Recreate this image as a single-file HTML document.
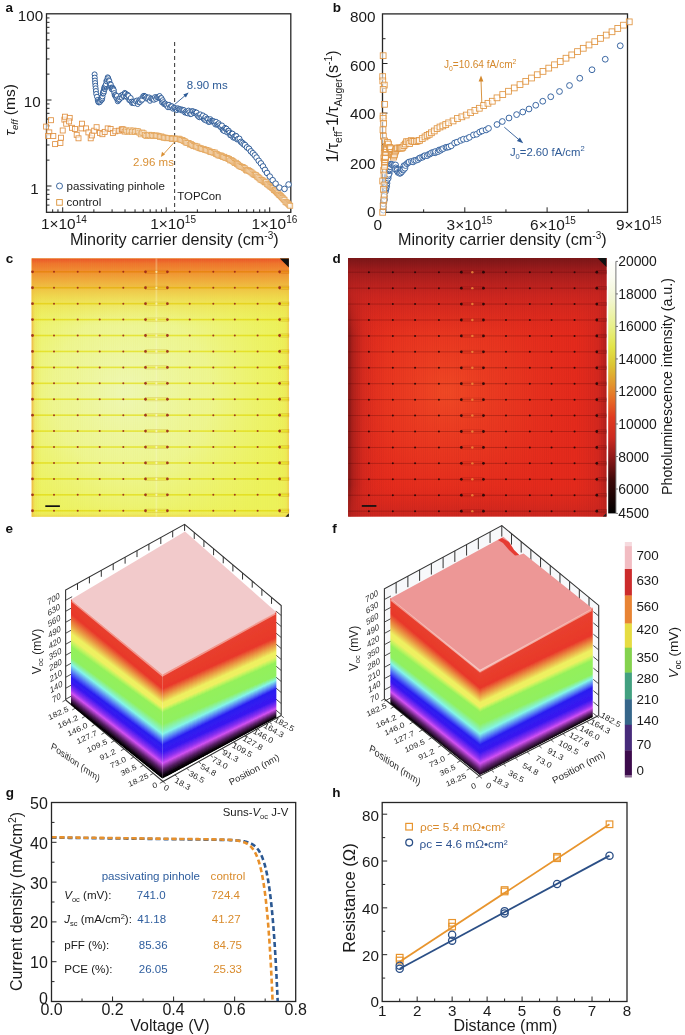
<!DOCTYPE html>
<html><head><meta charset="utf-8"><style>
html,body{margin:0;padding:0;background:#fff;}
svg{display:block;font-family:"Liberation Sans", sans-serif;}
</style></head><body>
<svg width="685" height="1035" viewBox="0 0 685 1035" font-family='"Liberation Sans", sans-serif'>
<defs>
<linearGradient id="ctop" x1="0" y1="0" x2="0" y2="1">
<stop offset="0" stop-color="#ea5428"/><stop offset="0.02" stop-color="#ee742c"/><stop offset="0.055" stop-color="#f09232"/>
<stop offset="0.11" stop-color="#f0b83e" stop-opacity="0.9"/><stop offset="0.17" stop-color="#f0d848" stop-opacity="0.6"/><stop offset="0.26" stop-color="#f0ee54" stop-opacity="0"/>
<stop offset="0.96" stop-color="#f0ee54" stop-opacity="0"/><stop offset="0.99" stop-color="#f0dc4a" stop-opacity="0.3"/><stop offset="1" stop-color="#f0c040" stop-opacity="0.6"/></linearGradient>
<linearGradient id="cside" x1="0" y1="0" x2="1" y2="0">
<stop offset="0" stop-color="#f0a03c" stop-opacity="0.8"/><stop offset="0.012" stop-color="#f0d04a" stop-opacity="0.3"/><stop offset="0.04" stop-color="#f0ec54" stop-opacity="0"/>
<stop offset="0.95" stop-color="#f0ec54" stop-opacity="0"/><stop offset="0.99" stop-color="#f0d84a" stop-opacity="0.3"/><stop offset="1" stop-color="#f0b040" stop-opacity="0.6"/></linearGradient>
<radialGradient id="cctr" cx="0.42" cy="0.52" r="0.62" fx="0.36" fy="0.52">
<stop offset="0" stop-color="#eef8b8" stop-opacity="0.95"/><stop offset="0.5" stop-color="#eef7a0" stop-opacity="0.75"/><stop offset="1" stop-color="#eef47a" stop-opacity="0"/></radialGradient>
<pattern id="fingc" x="31.7" y="0" width="2.2" height="10" patternUnits="userSpaceOnUse"><rect x="0" y="0" width="0.7" height="10" fill="#d8c850" fill-opacity="0.05"/></pattern>
<linearGradient id="dtop" x1="0" y1="0" x2="0" y2="1">
<stop offset="0" stop-color="#7a1618"/><stop offset="0.05" stop-color="#a01c1c"/><stop offset="0.14" stop-color="#c42420" stop-opacity="0.8"/>
<stop offset="0.3" stop-color="#d82a1e" stop-opacity="0"/><stop offset="0.88" stop-color="#d82a1e" stop-opacity="0"/><stop offset="1" stop-color="#c02420" stop-opacity="0.7"/></linearGradient>
<linearGradient id="dside" x1="0" y1="0" x2="1" y2="0">
<stop offset="0" stop-color="#701414" stop-opacity="0.95"/><stop offset="0.015" stop-color="#901a1a" stop-opacity="0.7"/><stop offset="0.06" stop-color="#c02420" stop-opacity="0.4"/><stop offset="0.15" stop-color="#d82a1e" stop-opacity="0"/>
<stop offset="0.88" stop-color="#d82a1e" stop-opacity="0"/><stop offset="0.97" stop-color="#c02420" stop-opacity="0.5"/><stop offset="1" stop-color="#a01c1c" stop-opacity="0.8"/></linearGradient>
<radialGradient id="dctr" cx="0.4" cy="0.52" r="0.5" fx="0.38" fy="0.52">
<stop offset="0" stop-color="#f24c26" stop-opacity="0.9"/><stop offset="0.55" stop-color="#ec3e22" stop-opacity="0.5"/><stop offset="1" stop-color="#e6321e" stop-opacity="0"/></radialGradient>
<pattern id="fingd" x="348.2" y="0" width="2.2" height="10" patternUnits="userSpaceOnUse"><rect x="0" y="0" width="0.7" height="10" fill="#4a0808" fill-opacity="0.05"/></pattern>
<linearGradient id="cbd" x1="0" y1="0" x2="0" y2="1">
<stop offset="0" stop-color="#fefefc"/><stop offset="0.06" stop-color="#fbfcf2"/><stop offset="0.15" stop-color="#f2f6d2"/><stop offset="0.26" stop-color="#e8f088"/>
<stop offset="0.34" stop-color="#e2e448"/><stop offset="0.41" stop-color="#dcc634"/><stop offset="0.48" stop-color="#e29a2e"/><stop offset="0.55" stop-color="#e66a26"/>
<stop offset="0.62" stop-color="#e03a20"/><stop offset="0.70" stop-color="#cc2a20"/><stop offset="0.78" stop-color="#8c1818"/><stop offset="0.87" stop-color="#3a0808"/><stop offset="1" stop-color="#000"/></linearGradient>
<linearGradient id="rain" x1="0" y1="0" x2="0" y2="1">
<stop offset="0" stop-color="#f2c8c8"/><stop offset="0.035" stop-color="#ec5040"/><stop offset="0.07" stop-color="#e83a28"/>
<stop offset="0.19" stop-color="#e84028"/><stop offset="0.27" stop-color="#ee9040"/><stop offset="0.35" stop-color="#eef060"/>
<stop offset="0.41" stop-color="#c0f460"/><stop offset="0.46" stop-color="#98f25a"/><stop offset="0.56" stop-color="#90f060"/>
<stop offset="0.62" stop-color="#80f4e8"/><stop offset="0.66" stop-color="#60b0f8"/><stop offset="0.71" stop-color="#2828f4"/>
<stop offset="0.78" stop-color="#3a18f0"/><stop offset="0.83" stop-color="#9a38f0"/><stop offset="0.87" stop-color="#d050f4"/>
<stop offset="0.92" stop-color="#602870"/><stop offset="0.97" stop-color="#100410"/><stop offset="1" stop-color="#000"/></linearGradient>
<filter id="soft" x="-5%" y="-5%" width="110%" height="110%"><feGaussianBlur stdDeviation="0.7"/></filter>
<clipPath id="fc1"><path d="M71,598.4 L162.5,673.5 L162.5,778.5 L71,705 Z"/></clipPath>
<linearGradient id="rg1" x1="0" y1="0" x2="0" y2="1"><stop offset="0.0000" stop-color="#f4d8d8"/><stop offset="0.0200" stop-color="#e8402e"/><stop offset="0.1500" stop-color="#e8382a"/><stop offset="0.2495" stop-color="#ea9a44"/><stop offset="0.3292" stop-color="#eef060"/><stop offset="0.3741" stop-color="#eef062"/><stop offset="0.4088" stop-color="#c4f45e"/><stop offset="0.4486" stop-color="#94f05a"/><stop offset="0.5487" stop-color="#90f060"/><stop offset="0.6093" stop-color="#84f4e8"/><stop offset="0.6791" stop-color="#5070f6"/><stop offset="0.7289" stop-color="#2a1cf0"/><stop offset="0.7793" stop-color="#3a18f0"/><stop offset="0.8344" stop-color="#8a30f0"/><stop offset="0.8695" stop-color="#d050f2"/><stop offset="0.9246" stop-color="#5a2068"/><stop offset="0.9697" stop-color="#080208"/><stop offset="1.0000" stop-color="#000000"/></linearGradient>
<linearGradient id="rg2" x1="0" y1="0" x2="0" y2="1"><stop offset="0.0000" stop-color="#f4d8d8"/><stop offset="0.0200" stop-color="#e8402e"/><stop offset="0.1500" stop-color="#e8382a"/><stop offset="0.2484" stop-color="#ea9a44"/><stop offset="0.3276" stop-color="#eef060"/><stop offset="0.3723" stop-color="#eef062"/><stop offset="0.4065" stop-color="#c4f45e"/><stop offset="0.4457" stop-color="#94f05a"/><stop offset="0.5463" stop-color="#90f060"/><stop offset="0.6079" stop-color="#84f4e8"/><stop offset="0.6773" stop-color="#5070f6"/><stop offset="0.7268" stop-color="#2a1cf0"/><stop offset="0.7779" stop-color="#3a18f0"/><stop offset="0.8331" stop-color="#8a30f0"/><stop offset="0.8684" stop-color="#d050f2"/><stop offset="0.9237" stop-color="#5a2068"/><stop offset="0.9692" stop-color="#080208"/><stop offset="1.0000" stop-color="#000000"/></linearGradient>
<linearGradient id="rg3" x1="0" y1="0" x2="0" y2="1"><stop offset="0.0000" stop-color="#f4d8d8"/><stop offset="0.0200" stop-color="#e8402e"/><stop offset="0.1500" stop-color="#e8382a"/><stop offset="0.2473" stop-color="#ea9a44"/><stop offset="0.3260" stop-color="#eef060"/><stop offset="0.3705" stop-color="#eef062"/><stop offset="0.4042" stop-color="#c4f45e"/><stop offset="0.4429" stop-color="#94f05a"/><stop offset="0.5437" stop-color="#90f060"/><stop offset="0.6064" stop-color="#84f4e8"/><stop offset="0.6755" stop-color="#5070f6"/><stop offset="0.7246" stop-color="#2a1cf0"/><stop offset="0.7764" stop-color="#3a18f0"/><stop offset="0.8319" stop-color="#8a30f0"/><stop offset="0.8673" stop-color="#d050f2"/><stop offset="0.9228" stop-color="#5a2068"/><stop offset="0.9687" stop-color="#080208"/><stop offset="1.0000" stop-color="#000000"/></linearGradient>
<linearGradient id="rg4" x1="0" y1="0" x2="0" y2="1"><stop offset="0.0000" stop-color="#f4d8d8"/><stop offset="0.0200" stop-color="#e8402e"/><stop offset="0.1500" stop-color="#e8382a"/><stop offset="0.2462" stop-color="#ea9a44"/><stop offset="0.3244" stop-color="#eef060"/><stop offset="0.3688" stop-color="#eef062"/><stop offset="0.4019" stop-color="#c4f45e"/><stop offset="0.4400" stop-color="#94f05a"/><stop offset="0.5413" stop-color="#90f060"/><stop offset="0.6050" stop-color="#84f4e8"/><stop offset="0.6738" stop-color="#5070f6"/><stop offset="0.7225" stop-color="#2a1cf0"/><stop offset="0.7750" stop-color="#3a18f0"/><stop offset="0.8306" stop-color="#8a30f0"/><stop offset="0.8662" stop-color="#d050f2"/><stop offset="0.9219" stop-color="#5a2068"/><stop offset="0.9681" stop-color="#080208"/><stop offset="1.0000" stop-color="#000000"/></linearGradient>
<linearGradient id="rg5" x1="0" y1="0" x2="0" y2="1"><stop offset="0.0000" stop-color="#f4d8d8"/><stop offset="0.0200" stop-color="#e8402e"/><stop offset="0.1500" stop-color="#e8382a"/><stop offset="0.2452" stop-color="#ea9a44"/><stop offset="0.3228" stop-color="#eef060"/><stop offset="0.3670" stop-color="#eef062"/><stop offset="0.3996" stop-color="#c4f45e"/><stop offset="0.4371" stop-color="#94f05a"/><stop offset="0.5388" stop-color="#90f060"/><stop offset="0.6036" stop-color="#84f4e8"/><stop offset="0.6720" stop-color="#5070f6"/><stop offset="0.7204" stop-color="#2a1cf0"/><stop offset="0.7736" stop-color="#3a18f0"/><stop offset="0.8294" stop-color="#8a30f0"/><stop offset="0.8652" stop-color="#d050f2"/><stop offset="0.9210" stop-color="#5a2068"/><stop offset="0.9676" stop-color="#080208"/><stop offset="1.0000" stop-color="#000000"/></linearGradient>
<linearGradient id="rg6" x1="0" y1="0" x2="0" y2="1"><stop offset="0.0000" stop-color="#f4d8d8"/><stop offset="0.0200" stop-color="#e8402e"/><stop offset="0.1500" stop-color="#e8382a"/><stop offset="0.2441" stop-color="#ea9a44"/><stop offset="0.3212" stop-color="#eef060"/><stop offset="0.3652" stop-color="#eef062"/><stop offset="0.3972" stop-color="#c4f45e"/><stop offset="0.4343" stop-color="#94f05a"/><stop offset="0.5363" stop-color="#90f060"/><stop offset="0.6021" stop-color="#84f4e8"/><stop offset="0.6702" stop-color="#5070f6"/><stop offset="0.7182" stop-color="#2a1cf0"/><stop offset="0.7721" stop-color="#3a18f0"/><stop offset="0.8281" stop-color="#8a30f0"/><stop offset="0.8641" stop-color="#d050f2"/><stop offset="0.9201" stop-color="#5a2068"/><stop offset="0.9671" stop-color="#080208"/><stop offset="1.0000" stop-color="#000000"/></linearGradient>
<linearGradient id="rg7" x1="0" y1="0" x2="0" y2="1"><stop offset="0.0000" stop-color="#f4d8d8"/><stop offset="0.0200" stop-color="#e8402e"/><stop offset="0.1500" stop-color="#e8382a"/><stop offset="0.2430" stop-color="#ea9a44"/><stop offset="0.3196" stop-color="#eef060"/><stop offset="0.3634" stop-color="#eef062"/><stop offset="0.3949" stop-color="#c4f45e"/><stop offset="0.4314" stop-color="#94f05a"/><stop offset="0.5337" stop-color="#90f060"/><stop offset="0.6007" stop-color="#84f4e8"/><stop offset="0.6684" stop-color="#5070f6"/><stop offset="0.7161" stop-color="#2a1cf0"/><stop offset="0.7707" stop-color="#3a18f0"/><stop offset="0.8269" stop-color="#8a30f0"/><stop offset="0.8630" stop-color="#d050f2"/><stop offset="0.9192" stop-color="#5a2068"/><stop offset="0.9665" stop-color="#080208"/><stop offset="1.0000" stop-color="#000000"/></linearGradient>
<linearGradient id="rg8" x1="0" y1="0" x2="0" y2="1"><stop offset="0.0000" stop-color="#f4d8d8"/><stop offset="0.0200" stop-color="#e8402e"/><stop offset="0.1500" stop-color="#e8382a"/><stop offset="0.2420" stop-color="#ea9a44"/><stop offset="0.3179" stop-color="#eef060"/><stop offset="0.3616" stop-color="#eef062"/><stop offset="0.3926" stop-color="#c4f45e"/><stop offset="0.4286" stop-color="#94f05a"/><stop offset="0.5312" stop-color="#90f060"/><stop offset="0.5993" stop-color="#84f4e8"/><stop offset="0.6666" stop-color="#5070f6"/><stop offset="0.7139" stop-color="#2a1cf0"/><stop offset="0.7693" stop-color="#3a18f0"/><stop offset="0.8256" stop-color="#8a30f0"/><stop offset="0.8620" stop-color="#d050f2"/><stop offset="0.9183" stop-color="#5a2068"/><stop offset="0.9660" stop-color="#080208"/><stop offset="1.0000" stop-color="#000000"/></linearGradient>
<linearGradient id="rg9" x1="0" y1="0" x2="0" y2="1"><stop offset="0.0000" stop-color="#f4d8d8"/><stop offset="0.0200" stop-color="#e8402e"/><stop offset="0.1500" stop-color="#e8382a"/><stop offset="0.2409" stop-color="#ea9a44"/><stop offset="0.3163" stop-color="#eef060"/><stop offset="0.3598" stop-color="#eef062"/><stop offset="0.3903" stop-color="#c4f45e"/><stop offset="0.4257" stop-color="#94f05a"/><stop offset="0.5288" stop-color="#90f060"/><stop offset="0.5979" stop-color="#84f4e8"/><stop offset="0.6648" stop-color="#5070f6"/><stop offset="0.7118" stop-color="#2a1cf0"/><stop offset="0.7679" stop-color="#3a18f0"/><stop offset="0.8244" stop-color="#8a30f0"/><stop offset="0.8609" stop-color="#d050f2"/><stop offset="0.9174" stop-color="#5a2068"/><stop offset="0.9654" stop-color="#080208"/><stop offset="1.0000" stop-color="#000000"/></linearGradient>
<linearGradient id="rg10" x1="0" y1="0" x2="0" y2="1"><stop offset="0.0000" stop-color="#f4d8d8"/><stop offset="0.0200" stop-color="#e8402e"/><stop offset="0.1500" stop-color="#e8382a"/><stop offset="0.2398" stop-color="#ea9a44"/><stop offset="0.3147" stop-color="#eef060"/><stop offset="0.3580" stop-color="#eef062"/><stop offset="0.3879" stop-color="#c4f45e"/><stop offset="0.4229" stop-color="#94f05a"/><stop offset="0.5263" stop-color="#90f060"/><stop offset="0.5964" stop-color="#84f4e8"/><stop offset="0.6630" stop-color="#5070f6"/><stop offset="0.7096" stop-color="#2a1cf0"/><stop offset="0.7664" stop-color="#3a18f0"/><stop offset="0.8231" stop-color="#8a30f0"/><stop offset="0.8598" stop-color="#d050f2"/><stop offset="0.9165" stop-color="#5a2068"/><stop offset="0.9649" stop-color="#080208"/><stop offset="1.0000" stop-color="#000000"/></linearGradient>
<linearGradient id="rg11" x1="0" y1="0" x2="0" y2="1"><stop offset="0.0000" stop-color="#f4d8d8"/><stop offset="0.0200" stop-color="#e8402e"/><stop offset="0.1500" stop-color="#e8382a"/><stop offset="0.2388" stop-color="#ea9a44"/><stop offset="0.3131" stop-color="#eef060"/><stop offset="0.3563" stop-color="#eef062"/><stop offset="0.3856" stop-color="#c4f45e"/><stop offset="0.4200" stop-color="#94f05a"/><stop offset="0.5237" stop-color="#90f060"/><stop offset="0.5950" stop-color="#84f4e8"/><stop offset="0.6613" stop-color="#5070f6"/><stop offset="0.7075" stop-color="#2a1cf0"/><stop offset="0.7650" stop-color="#3a18f0"/><stop offset="0.8219" stop-color="#8a30f0"/><stop offset="0.8587" stop-color="#d050f2"/><stop offset="0.9156" stop-color="#5a2068"/><stop offset="0.9644" stop-color="#080208"/><stop offset="1.0000" stop-color="#000000"/></linearGradient>
<linearGradient id="rg12" x1="0" y1="0" x2="0" y2="1"><stop offset="0.0000" stop-color="#f4d8d8"/><stop offset="0.0200" stop-color="#e8402e"/><stop offset="0.1500" stop-color="#e8382a"/><stop offset="0.2377" stop-color="#ea9a44"/><stop offset="0.3115" stop-color="#eef060"/><stop offset="0.3545" stop-color="#eef062"/><stop offset="0.3833" stop-color="#c4f45e"/><stop offset="0.4171" stop-color="#94f05a"/><stop offset="0.5212" stop-color="#90f060"/><stop offset="0.5936" stop-color="#84f4e8"/><stop offset="0.6595" stop-color="#5070f6"/><stop offset="0.7054" stop-color="#2a1cf0"/><stop offset="0.7636" stop-color="#3a18f0"/><stop offset="0.8206" stop-color="#8a30f0"/><stop offset="0.8577" stop-color="#d050f2"/><stop offset="0.9147" stop-color="#5a2068"/><stop offset="0.9638" stop-color="#080208"/><stop offset="1.0000" stop-color="#000000"/></linearGradient>
<linearGradient id="rg13" x1="0" y1="0" x2="0" y2="1"><stop offset="0.0000" stop-color="#f4d8d8"/><stop offset="0.0200" stop-color="#e8402e"/><stop offset="0.1500" stop-color="#e8382a"/><stop offset="0.2366" stop-color="#ea9a44"/><stop offset="0.3099" stop-color="#eef060"/><stop offset="0.3527" stop-color="#eef062"/><stop offset="0.3810" stop-color="#c4f45e"/><stop offset="0.4143" stop-color="#94f05a"/><stop offset="0.5188" stop-color="#90f060"/><stop offset="0.5921" stop-color="#84f4e8"/><stop offset="0.6577" stop-color="#5070f6"/><stop offset="0.7032" stop-color="#2a1cf0"/><stop offset="0.7621" stop-color="#3a18f0"/><stop offset="0.8194" stop-color="#8a30f0"/><stop offset="0.8566" stop-color="#d050f2"/><stop offset="0.9138" stop-color="#5a2068"/><stop offset="0.9633" stop-color="#080208"/><stop offset="1.0000" stop-color="#000000"/></linearGradient>
<linearGradient id="rg14" x1="0" y1="0" x2="0" y2="1"><stop offset="0.0000" stop-color="#f4d8d8"/><stop offset="0.0200" stop-color="#e8402e"/><stop offset="0.1500" stop-color="#e8382a"/><stop offset="0.2355" stop-color="#ea9a44"/><stop offset="0.3083" stop-color="#eef060"/><stop offset="0.3509" stop-color="#eef062"/><stop offset="0.3787" stop-color="#c4f45e"/><stop offset="0.4114" stop-color="#94f05a"/><stop offset="0.5162" stop-color="#90f060"/><stop offset="0.5907" stop-color="#84f4e8"/><stop offset="0.6559" stop-color="#5070f6"/><stop offset="0.7011" stop-color="#2a1cf0"/><stop offset="0.7607" stop-color="#3a18f0"/><stop offset="0.8181" stop-color="#8a30f0"/><stop offset="0.8555" stop-color="#d050f2"/><stop offset="0.9129" stop-color="#5a2068"/><stop offset="0.9628" stop-color="#080208"/><stop offset="1.0000" stop-color="#000000"/></linearGradient>
<linearGradient id="rg15" x1="0" y1="0" x2="0" y2="1"><stop offset="0.0000" stop-color="#f4d8d8"/><stop offset="0.0200" stop-color="#e8402e"/><stop offset="0.1500" stop-color="#e8382a"/><stop offset="0.2345" stop-color="#ea9a44"/><stop offset="0.3067" stop-color="#eef060"/><stop offset="0.3491" stop-color="#eef062"/><stop offset="0.3763" stop-color="#c4f45e"/><stop offset="0.4086" stop-color="#94f05a"/><stop offset="0.5138" stop-color="#90f060"/><stop offset="0.5893" stop-color="#84f4e8"/><stop offset="0.6541" stop-color="#5070f6"/><stop offset="0.6989" stop-color="#2a1cf0"/><stop offset="0.7593" stop-color="#3a18f0"/><stop offset="0.8169" stop-color="#8a30f0"/><stop offset="0.8545" stop-color="#d050f2"/><stop offset="0.9121" stop-color="#5a2068"/><stop offset="0.9622" stop-color="#080208"/><stop offset="1.0000" stop-color="#000000"/></linearGradient>
<linearGradient id="rg16" x1="0" y1="0" x2="0" y2="1"><stop offset="0.0000" stop-color="#f4d8d8"/><stop offset="0.0200" stop-color="#e8402e"/><stop offset="0.1500" stop-color="#e8382a"/><stop offset="0.2334" stop-color="#ea9a44"/><stop offset="0.3051" stop-color="#eef060"/><stop offset="0.3473" stop-color="#eef062"/><stop offset="0.3740" stop-color="#c4f45e"/><stop offset="0.4057" stop-color="#94f05a"/><stop offset="0.5112" stop-color="#90f060"/><stop offset="0.5879" stop-color="#84f4e8"/><stop offset="0.6523" stop-color="#5070f6"/><stop offset="0.6968" stop-color="#2a1cf0"/><stop offset="0.7579" stop-color="#3a18f0"/><stop offset="0.8156" stop-color="#8a30f0"/><stop offset="0.8534" stop-color="#d050f2"/><stop offset="0.9112" stop-color="#5a2068"/><stop offset="0.9617" stop-color="#080208"/><stop offset="1.0000" stop-color="#000000"/></linearGradient>
<linearGradient id="rg17" x1="0" y1="0" x2="0" y2="1"><stop offset="0.0000" stop-color="#f4d8d8"/><stop offset="0.0200" stop-color="#e8402e"/><stop offset="0.1500" stop-color="#e8382a"/><stop offset="0.2323" stop-color="#ea9a44"/><stop offset="0.3035" stop-color="#eef060"/><stop offset="0.3455" stop-color="#eef062"/><stop offset="0.3717" stop-color="#c4f45e"/><stop offset="0.4029" stop-color="#94f05a"/><stop offset="0.5088" stop-color="#90f060"/><stop offset="0.5864" stop-color="#84f4e8"/><stop offset="0.6505" stop-color="#5070f6"/><stop offset="0.6946" stop-color="#2a1cf0"/><stop offset="0.7564" stop-color="#3a18f0"/><stop offset="0.8144" stop-color="#8a30f0"/><stop offset="0.8523" stop-color="#d050f2"/><stop offset="0.9103" stop-color="#5a2068"/><stop offset="0.9612" stop-color="#080208"/><stop offset="1.0000" stop-color="#000000"/></linearGradient>
<linearGradient id="rg18" x1="0" y1="0" x2="0" y2="1"><stop offset="0.0000" stop-color="#f4d8d8"/><stop offset="0.0200" stop-color="#e8402e"/><stop offset="0.1500" stop-color="#e8382a"/><stop offset="0.2313" stop-color="#ea9a44"/><stop offset="0.3019" stop-color="#eef060"/><stop offset="0.3438" stop-color="#eef062"/><stop offset="0.3694" stop-color="#c4f45e"/><stop offset="0.4000" stop-color="#94f05a"/><stop offset="0.5062" stop-color="#90f060"/><stop offset="0.5850" stop-color="#84f4e8"/><stop offset="0.6487" stop-color="#5070f6"/><stop offset="0.6925" stop-color="#2a1cf0"/><stop offset="0.7550" stop-color="#3a18f0"/><stop offset="0.8131" stop-color="#8a30f0"/><stop offset="0.8513" stop-color="#d050f2"/><stop offset="0.9094" stop-color="#5a2068"/><stop offset="0.9606" stop-color="#080208"/><stop offset="1.0000" stop-color="#000000"/></linearGradient>
<linearGradient id="rg19" x1="0" y1="0" x2="0" y2="1"><stop offset="0.0000" stop-color="#f4d8d8"/><stop offset="0.0200" stop-color="#e8402e"/><stop offset="0.1500" stop-color="#e8382a"/><stop offset="0.2302" stop-color="#ea9a44"/><stop offset="0.3003" stop-color="#eef060"/><stop offset="0.3420" stop-color="#eef062"/><stop offset="0.3671" stop-color="#c4f45e"/><stop offset="0.3971" stop-color="#94f05a"/><stop offset="0.5038" stop-color="#90f060"/><stop offset="0.5836" stop-color="#84f4e8"/><stop offset="0.6470" stop-color="#5070f6"/><stop offset="0.6904" stop-color="#2a1cf0"/><stop offset="0.7536" stop-color="#3a18f0"/><stop offset="0.8119" stop-color="#8a30f0"/><stop offset="0.8502" stop-color="#d050f2"/><stop offset="0.9085" stop-color="#5a2068"/><stop offset="0.9601" stop-color="#080208"/><stop offset="1.0000" stop-color="#000000"/></linearGradient>
<linearGradient id="rg20" x1="0" y1="0" x2="0" y2="1"><stop offset="0.0000" stop-color="#f4d8d8"/><stop offset="0.0200" stop-color="#e8402e"/><stop offset="0.1500" stop-color="#e8382a"/><stop offset="0.2291" stop-color="#ea9a44"/><stop offset="0.2987" stop-color="#eef060"/><stop offset="0.3402" stop-color="#eef062"/><stop offset="0.3647" stop-color="#c4f45e"/><stop offset="0.3943" stop-color="#94f05a"/><stop offset="0.5012" stop-color="#90f060"/><stop offset="0.5821" stop-color="#84f4e8"/><stop offset="0.6452" stop-color="#5070f6"/><stop offset="0.6882" stop-color="#2a1cf0"/><stop offset="0.7521" stop-color="#3a18f0"/><stop offset="0.8106" stop-color="#8a30f0"/><stop offset="0.8491" stop-color="#d050f2"/><stop offset="0.9076" stop-color="#5a2068"/><stop offset="0.9596" stop-color="#080208"/><stop offset="1.0000" stop-color="#000000"/></linearGradient>
<linearGradient id="rg21" x1="0" y1="0" x2="0" y2="1"><stop offset="0.0000" stop-color="#f4d8d8"/><stop offset="0.0200" stop-color="#e8402e"/><stop offset="0.1500" stop-color="#e8382a"/><stop offset="0.2280" stop-color="#ea9a44"/><stop offset="0.2971" stop-color="#eef060"/><stop offset="0.3384" stop-color="#eef062"/><stop offset="0.3624" stop-color="#c4f45e"/><stop offset="0.3914" stop-color="#94f05a"/><stop offset="0.4987" stop-color="#90f060"/><stop offset="0.5807" stop-color="#84f4e8"/><stop offset="0.6434" stop-color="#5070f6"/><stop offset="0.6861" stop-color="#2a1cf0"/><stop offset="0.7507" stop-color="#3a18f0"/><stop offset="0.8094" stop-color="#8a30f0"/><stop offset="0.8480" stop-color="#d050f2"/><stop offset="0.9067" stop-color="#5a2068"/><stop offset="0.9590" stop-color="#080208"/><stop offset="1.0000" stop-color="#000000"/></linearGradient>
<linearGradient id="rg22" x1="0" y1="0" x2="0" y2="1"><stop offset="0.0000" stop-color="#f4d8d8"/><stop offset="0.0200" stop-color="#e8402e"/><stop offset="0.1500" stop-color="#e8382a"/><stop offset="0.2270" stop-color="#ea9a44"/><stop offset="0.2954" stop-color="#eef060"/><stop offset="0.3366" stop-color="#eef062"/><stop offset="0.3601" stop-color="#c4f45e"/><stop offset="0.3886" stop-color="#94f05a"/><stop offset="0.4963" stop-color="#90f060"/><stop offset="0.5793" stop-color="#84f4e8"/><stop offset="0.6416" stop-color="#5070f6"/><stop offset="0.6839" stop-color="#2a1cf0"/><stop offset="0.7493" stop-color="#3a18f0"/><stop offset="0.8081" stop-color="#8a30f0"/><stop offset="0.8470" stop-color="#d050f2"/><stop offset="0.9058" stop-color="#5a2068"/><stop offset="0.9585" stop-color="#080208"/><stop offset="1.0000" stop-color="#000000"/></linearGradient>
<linearGradient id="rg23" x1="0" y1="0" x2="0" y2="1"><stop offset="0.0000" stop-color="#f4d8d8"/><stop offset="0.0200" stop-color="#e8402e"/><stop offset="0.1500" stop-color="#e8382a"/><stop offset="0.2259" stop-color="#ea9a44"/><stop offset="0.2938" stop-color="#eef060"/><stop offset="0.3348" stop-color="#eef062"/><stop offset="0.3578" stop-color="#c4f45e"/><stop offset="0.3857" stop-color="#94f05a"/><stop offset="0.4938" stop-color="#90f060"/><stop offset="0.5779" stop-color="#84f4e8"/><stop offset="0.6398" stop-color="#5070f6"/><stop offset="0.6818" stop-color="#2a1cf0"/><stop offset="0.7479" stop-color="#3a18f0"/><stop offset="0.8069" stop-color="#8a30f0"/><stop offset="0.8459" stop-color="#d050f2"/><stop offset="0.9049" stop-color="#5a2068"/><stop offset="0.9579" stop-color="#080208"/><stop offset="1.0000" stop-color="#000000"/></linearGradient>
<linearGradient id="rg24" x1="0" y1="0" x2="0" y2="1"><stop offset="0.0000" stop-color="#f4d8d8"/><stop offset="0.0200" stop-color="#e8402e"/><stop offset="0.1500" stop-color="#e8382a"/><stop offset="0.2248" stop-color="#ea9a44"/><stop offset="0.2922" stop-color="#eef060"/><stop offset="0.3330" stop-color="#eef062"/><stop offset="0.3554" stop-color="#c4f45e"/><stop offset="0.3829" stop-color="#94f05a"/><stop offset="0.4913" stop-color="#90f060"/><stop offset="0.5764" stop-color="#84f4e8"/><stop offset="0.6380" stop-color="#5070f6"/><stop offset="0.6796" stop-color="#2a1cf0"/><stop offset="0.7464" stop-color="#3a18f0"/><stop offset="0.8056" stop-color="#8a30f0"/><stop offset="0.8448" stop-color="#d050f2"/><stop offset="0.9040" stop-color="#5a2068"/><stop offset="0.9574" stop-color="#080208"/><stop offset="1.0000" stop-color="#000000"/></linearGradient>
<linearGradient id="rg25" x1="0" y1="0" x2="0" y2="1"><stop offset="0.0000" stop-color="#f4d8d8"/><stop offset="0.0200" stop-color="#e8402e"/><stop offset="0.1500" stop-color="#e8382a"/><stop offset="0.2238" stop-color="#ea9a44"/><stop offset="0.2906" stop-color="#eef060"/><stop offset="0.3312" stop-color="#eef062"/><stop offset="0.3531" stop-color="#c4f45e"/><stop offset="0.3800" stop-color="#94f05a"/><stop offset="0.4888" stop-color="#90f060"/><stop offset="0.5750" stop-color="#84f4e8"/><stop offset="0.6362" stop-color="#5070f6"/><stop offset="0.6775" stop-color="#2a1cf0"/><stop offset="0.7450" stop-color="#3a18f0"/><stop offset="0.8044" stop-color="#8a30f0"/><stop offset="0.8438" stop-color="#d050f2"/><stop offset="0.9031" stop-color="#5a2068"/><stop offset="0.9569" stop-color="#080208"/><stop offset="1.0000" stop-color="#000000"/></linearGradient>
<linearGradient id="rg26" x1="0" y1="0" x2="0" y2="1"><stop offset="0.0000" stop-color="#f4d8d8"/><stop offset="0.0200" stop-color="#e8402e"/><stop offset="0.1500" stop-color="#e8382a"/><stop offset="0.2227" stop-color="#ea9a44"/><stop offset="0.2890" stop-color="#eef060"/><stop offset="0.3295" stop-color="#eef062"/><stop offset="0.3508" stop-color="#c4f45e"/><stop offset="0.3771" stop-color="#94f05a"/><stop offset="0.4862" stop-color="#90f060"/><stop offset="0.5736" stop-color="#84f4e8"/><stop offset="0.6345" stop-color="#5070f6"/><stop offset="0.6754" stop-color="#2a1cf0"/><stop offset="0.7436" stop-color="#3a18f0"/><stop offset="0.8031" stop-color="#8a30f0"/><stop offset="0.8427" stop-color="#d050f2"/><stop offset="0.9022" stop-color="#5a2068"/><stop offset="0.9563" stop-color="#080208"/><stop offset="1.0000" stop-color="#000000"/></linearGradient>
<linearGradient id="rg27" x1="0" y1="0" x2="0" y2="1"><stop offset="0.0000" stop-color="#f4d8d8"/><stop offset="0.0200" stop-color="#e8402e"/><stop offset="0.1500" stop-color="#e8382a"/><stop offset="0.2216" stop-color="#ea9a44"/><stop offset="0.2874" stop-color="#eef060"/><stop offset="0.3277" stop-color="#eef062"/><stop offset="0.3485" stop-color="#c4f45e"/><stop offset="0.3743" stop-color="#94f05a"/><stop offset="0.4837" stop-color="#90f060"/><stop offset="0.5721" stop-color="#84f4e8"/><stop offset="0.6327" stop-color="#5070f6"/><stop offset="0.6732" stop-color="#2a1cf0"/><stop offset="0.7421" stop-color="#3a18f0"/><stop offset="0.8019" stop-color="#8a30f0"/><stop offset="0.8416" stop-color="#d050f2"/><stop offset="0.9013" stop-color="#5a2068"/><stop offset="0.9558" stop-color="#080208"/><stop offset="1.0000" stop-color="#000000"/></linearGradient>
<linearGradient id="rg28" x1="0" y1="0" x2="0" y2="1"><stop offset="0.0000" stop-color="#f4d8d8"/><stop offset="0.0200" stop-color="#e8402e"/><stop offset="0.1500" stop-color="#e8382a"/><stop offset="0.2205" stop-color="#ea9a44"/><stop offset="0.2858" stop-color="#eef060"/><stop offset="0.3259" stop-color="#eef062"/><stop offset="0.3462" stop-color="#c4f45e"/><stop offset="0.3714" stop-color="#94f05a"/><stop offset="0.4812" stop-color="#90f060"/><stop offset="0.5707" stop-color="#84f4e8"/><stop offset="0.6309" stop-color="#5070f6"/><stop offset="0.6711" stop-color="#2a1cf0"/><stop offset="0.7407" stop-color="#3a18f0"/><stop offset="0.8006" stop-color="#8a30f0"/><stop offset="0.8405" stop-color="#d050f2"/><stop offset="0.9004" stop-color="#5a2068"/><stop offset="0.9553" stop-color="#080208"/><stop offset="1.0000" stop-color="#000000"/></linearGradient>
<clipPath id="fc2"><path d="M162.5,673.5 L276.2,611 L276.2,717.5 L162.5,778.5 Z"/></clipPath>
<linearGradient id="rg29" x1="0" y1="0" x2="0" y2="1"><stop offset="0.0000" stop-color="#f4d8d8"/><stop offset="0.0202" stop-color="#e8402e"/><stop offset="0.1518" stop-color="#e8382a"/><stop offset="0.2218" stop-color="#ea9a44"/><stop offset="0.2868" stop-color="#eef060"/><stop offset="0.3268" stop-color="#eef062"/><stop offset="0.3469" stop-color="#c4f45e"/><stop offset="0.3720" stop-color="#94f05a"/><stop offset="0.4821" stop-color="#90f060"/><stop offset="0.5712" stop-color="#84f4e8"/><stop offset="0.6311" stop-color="#5070f6"/><stop offset="0.6709" stop-color="#2a1cf0"/><stop offset="0.7414" stop-color="#3a18f0"/><stop offset="0.8013" stop-color="#8a30f0"/><stop offset="0.8411" stop-color="#d050f2"/><stop offset="0.9007" stop-color="#5a2068"/><stop offset="0.9554" stop-color="#080208"/><stop offset="1.0000" stop-color="#000000"/></linearGradient>
<linearGradient id="rg30" x1="0" y1="0" x2="0" y2="1"><stop offset="0.0000" stop-color="#f4d8d8"/><stop offset="0.0205" stop-color="#e8402e"/><stop offset="0.1554" stop-color="#e8382a"/><stop offset="0.2254" stop-color="#ea9a44"/><stop offset="0.2904" stop-color="#eef060"/><stop offset="0.3304" stop-color="#eef062"/><stop offset="0.3506" stop-color="#c4f45e"/><stop offset="0.3759" stop-color="#94f05a"/><stop offset="0.4864" stop-color="#90f060"/><stop offset="0.5737" stop-color="#84f4e8"/><stop offset="0.6332" stop-color="#5070f6"/><stop offset="0.6727" stop-color="#2a1cf0"/><stop offset="0.7443" stop-color="#3a18f0"/><stop offset="0.8037" stop-color="#8a30f0"/><stop offset="0.8432" stop-color="#d050f2"/><stop offset="0.9021" stop-color="#5a2068"/><stop offset="0.9561" stop-color="#080208"/><stop offset="1.0000" stop-color="#000000"/></linearGradient>
<linearGradient id="rg31" x1="0" y1="0" x2="0" y2="1"><stop offset="0.0000" stop-color="#f4d8d8"/><stop offset="0.0209" stop-color="#e8402e"/><stop offset="0.1589" stop-color="#e8382a"/><stop offset="0.2289" stop-color="#ea9a44"/><stop offset="0.2939" stop-color="#eef060"/><stop offset="0.3339" stop-color="#eef062"/><stop offset="0.3544" stop-color="#c4f45e"/><stop offset="0.3798" stop-color="#94f05a"/><stop offset="0.4907" stop-color="#90f060"/><stop offset="0.5762" stop-color="#84f4e8"/><stop offset="0.6354" stop-color="#5070f6"/><stop offset="0.6745" stop-color="#2a1cf0"/><stop offset="0.7471" stop-color="#3a18f0"/><stop offset="0.8063" stop-color="#8a30f0"/><stop offset="0.8454" stop-color="#d050f2"/><stop offset="0.9036" stop-color="#5a2068"/><stop offset="0.9568" stop-color="#080208"/><stop offset="1.0000" stop-color="#000000"/></linearGradient>
<linearGradient id="rg32" x1="0" y1="0" x2="0" y2="1"><stop offset="0.0000" stop-color="#f4d8d8"/><stop offset="0.0213" stop-color="#e8402e"/><stop offset="0.1625" stop-color="#e8382a"/><stop offset="0.2325" stop-color="#ea9a44"/><stop offset="0.2975" stop-color="#eef060"/><stop offset="0.3375" stop-color="#eef062"/><stop offset="0.3581" stop-color="#c4f45e"/><stop offset="0.3837" stop-color="#94f05a"/><stop offset="0.4950" stop-color="#90f060"/><stop offset="0.5787" stop-color="#84f4e8"/><stop offset="0.6375" stop-color="#5070f6"/><stop offset="0.6763" stop-color="#2a1cf0"/><stop offset="0.7500" stop-color="#3a18f0"/><stop offset="0.8088" stop-color="#8a30f0"/><stop offset="0.8475" stop-color="#d050f2"/><stop offset="0.9050" stop-color="#5a2068"/><stop offset="0.9575" stop-color="#080208"/><stop offset="1.0000" stop-color="#000000"/></linearGradient>
<linearGradient id="rg33" x1="0" y1="0" x2="0" y2="1"><stop offset="0.0000" stop-color="#f4d8d8"/><stop offset="0.0216" stop-color="#e8402e"/><stop offset="0.1661" stop-color="#e8382a"/><stop offset="0.2361" stop-color="#ea9a44"/><stop offset="0.3011" stop-color="#eef060"/><stop offset="0.3411" stop-color="#eef062"/><stop offset="0.3619" stop-color="#c4f45e"/><stop offset="0.3877" stop-color="#94f05a"/><stop offset="0.4993" stop-color="#90f060"/><stop offset="0.5812" stop-color="#84f4e8"/><stop offset="0.6396" stop-color="#5070f6"/><stop offset="0.6780" stop-color="#2a1cf0"/><stop offset="0.7529" stop-color="#3a18f0"/><stop offset="0.8113" stop-color="#8a30f0"/><stop offset="0.8496" stop-color="#d050f2"/><stop offset="0.9064" stop-color="#5a2068"/><stop offset="0.9582" stop-color="#080208"/><stop offset="1.0000" stop-color="#000000"/></linearGradient>
<linearGradient id="rg34" x1="0" y1="0" x2="0" y2="1"><stop offset="0.0000" stop-color="#f4d8d8"/><stop offset="0.0220" stop-color="#e8402e"/><stop offset="0.1696" stop-color="#e8382a"/><stop offset="0.2396" stop-color="#ea9a44"/><stop offset="0.3046" stop-color="#eef060"/><stop offset="0.3446" stop-color="#eef062"/><stop offset="0.3656" stop-color="#c4f45e"/><stop offset="0.3916" stop-color="#94f05a"/><stop offset="0.5036" stop-color="#90f060"/><stop offset="0.5837" stop-color="#84f4e8"/><stop offset="0.6418" stop-color="#5070f6"/><stop offset="0.6798" stop-color="#2a1cf0"/><stop offset="0.7557" stop-color="#3a18f0"/><stop offset="0.8138" stop-color="#8a30f0"/><stop offset="0.8518" stop-color="#d050f2"/><stop offset="0.9079" stop-color="#5a2068"/><stop offset="0.9589" stop-color="#080208"/><stop offset="1.0000" stop-color="#000000"/></linearGradient>
<linearGradient id="rg35" x1="0" y1="0" x2="0" y2="1"><stop offset="0.0000" stop-color="#f4d8d8"/><stop offset="0.0223" stop-color="#e8402e"/><stop offset="0.1732" stop-color="#e8382a"/><stop offset="0.2432" stop-color="#ea9a44"/><stop offset="0.3082" stop-color="#eef060"/><stop offset="0.3482" stop-color="#eef062"/><stop offset="0.3694" stop-color="#c4f45e"/><stop offset="0.3955" stop-color="#94f05a"/><stop offset="0.5079" stop-color="#90f060"/><stop offset="0.5862" stop-color="#84f4e8"/><stop offset="0.6439" stop-color="#5070f6"/><stop offset="0.6816" stop-color="#2a1cf0"/><stop offset="0.7586" stop-color="#3a18f0"/><stop offset="0.8163" stop-color="#8a30f0"/><stop offset="0.8539" stop-color="#d050f2"/><stop offset="0.9093" stop-color="#5a2068"/><stop offset="0.9596" stop-color="#080208"/><stop offset="1.0000" stop-color="#000000"/></linearGradient>
<linearGradient id="rg36" x1="0" y1="0" x2="0" y2="1"><stop offset="0.0000" stop-color="#f4d8d8"/><stop offset="0.0227" stop-color="#e8402e"/><stop offset="0.1768" stop-color="#e8382a"/><stop offset="0.2468" stop-color="#ea9a44"/><stop offset="0.3118" stop-color="#eef060"/><stop offset="0.3518" stop-color="#eef062"/><stop offset="0.3731" stop-color="#c4f45e"/><stop offset="0.3995" stop-color="#94f05a"/><stop offset="0.5121" stop-color="#90f060"/><stop offset="0.5887" stop-color="#84f4e8"/><stop offset="0.6461" stop-color="#5070f6"/><stop offset="0.6834" stop-color="#2a1cf0"/><stop offset="0.7614" stop-color="#3a18f0"/><stop offset="0.8188" stop-color="#8a30f0"/><stop offset="0.8561" stop-color="#d050f2"/><stop offset="0.9107" stop-color="#5a2068"/><stop offset="0.9604" stop-color="#080208"/><stop offset="1.0000" stop-color="#000000"/></linearGradient>
<linearGradient id="rg37" x1="0" y1="0" x2="0" y2="1"><stop offset="0.0000" stop-color="#f4d8d8"/><stop offset="0.0230" stop-color="#e8402e"/><stop offset="0.1804" stop-color="#e8382a"/><stop offset="0.2504" stop-color="#ea9a44"/><stop offset="0.3154" stop-color="#eef060"/><stop offset="0.3554" stop-color="#eef062"/><stop offset="0.3769" stop-color="#c4f45e"/><stop offset="0.4034" stop-color="#94f05a"/><stop offset="0.5164" stop-color="#90f060"/><stop offset="0.5912" stop-color="#84f4e8"/><stop offset="0.6482" stop-color="#5070f6"/><stop offset="0.6852" stop-color="#2a1cf0"/><stop offset="0.7643" stop-color="#3a18f0"/><stop offset="0.8213" stop-color="#8a30f0"/><stop offset="0.8582" stop-color="#d050f2"/><stop offset="0.9121" stop-color="#5a2068"/><stop offset="0.9611" stop-color="#080208"/><stop offset="1.0000" stop-color="#000000"/></linearGradient>
<linearGradient id="rg38" x1="0" y1="0" x2="0" y2="1"><stop offset="0.0000" stop-color="#f4d8d8"/><stop offset="0.0234" stop-color="#e8402e"/><stop offset="0.1839" stop-color="#e8382a"/><stop offset="0.2539" stop-color="#ea9a44"/><stop offset="0.3189" stop-color="#eef060"/><stop offset="0.3589" stop-color="#eef062"/><stop offset="0.3806" stop-color="#c4f45e"/><stop offset="0.4073" stop-color="#94f05a"/><stop offset="0.5207" stop-color="#90f060"/><stop offset="0.5938" stop-color="#84f4e8"/><stop offset="0.6504" stop-color="#5070f6"/><stop offset="0.6870" stop-color="#2a1cf0"/><stop offset="0.7671" stop-color="#3a18f0"/><stop offset="0.8237" stop-color="#8a30f0"/><stop offset="0.8604" stop-color="#d050f2"/><stop offset="0.9136" stop-color="#5a2068"/><stop offset="0.9618" stop-color="#080208"/><stop offset="1.0000" stop-color="#000000"/></linearGradient>
<linearGradient id="rg39" x1="0" y1="0" x2="0" y2="1"><stop offset="0.0000" stop-color="#f4d8d8"/><stop offset="0.0238" stop-color="#e8402e"/><stop offset="0.1875" stop-color="#e8382a"/><stop offset="0.2575" stop-color="#ea9a44"/><stop offset="0.3225" stop-color="#eef060"/><stop offset="0.3625" stop-color="#eef062"/><stop offset="0.3844" stop-color="#c4f45e"/><stop offset="0.4113" stop-color="#94f05a"/><stop offset="0.5250" stop-color="#90f060"/><stop offset="0.5962" stop-color="#84f4e8"/><stop offset="0.6525" stop-color="#5070f6"/><stop offset="0.6887" stop-color="#2a1cf0"/><stop offset="0.7700" stop-color="#3a18f0"/><stop offset="0.8262" stop-color="#8a30f0"/><stop offset="0.8625" stop-color="#d050f2"/><stop offset="0.9150" stop-color="#5a2068"/><stop offset="0.9625" stop-color="#080208"/><stop offset="1.0000" stop-color="#000000"/></linearGradient>
<linearGradient id="rg40" x1="0" y1="0" x2="0" y2="1"><stop offset="0.0000" stop-color="#f4d8d8"/><stop offset="0.0241" stop-color="#e8402e"/><stop offset="0.1911" stop-color="#e8382a"/><stop offset="0.2611" stop-color="#ea9a44"/><stop offset="0.3261" stop-color="#eef060"/><stop offset="0.3661" stop-color="#eef062"/><stop offset="0.3881" stop-color="#c4f45e"/><stop offset="0.4152" stop-color="#94f05a"/><stop offset="0.5293" stop-color="#90f060"/><stop offset="0.5987" stop-color="#84f4e8"/><stop offset="0.6546" stop-color="#5070f6"/><stop offset="0.6905" stop-color="#2a1cf0"/><stop offset="0.7729" stop-color="#3a18f0"/><stop offset="0.8288" stop-color="#8a30f0"/><stop offset="0.8646" stop-color="#d050f2"/><stop offset="0.9164" stop-color="#5a2068"/><stop offset="0.9632" stop-color="#080208"/><stop offset="1.0000" stop-color="#000000"/></linearGradient>
<linearGradient id="rg41" x1="0" y1="0" x2="0" y2="1"><stop offset="0.0000" stop-color="#f4d8d8"/><stop offset="0.0245" stop-color="#e8402e"/><stop offset="0.1946" stop-color="#e8382a"/><stop offset="0.2646" stop-color="#ea9a44"/><stop offset="0.3296" stop-color="#eef060"/><stop offset="0.3696" stop-color="#eef062"/><stop offset="0.3919" stop-color="#c4f45e"/><stop offset="0.4191" stop-color="#94f05a"/><stop offset="0.5336" stop-color="#90f060"/><stop offset="0.6012" stop-color="#84f4e8"/><stop offset="0.6568" stop-color="#5070f6"/><stop offset="0.6923" stop-color="#2a1cf0"/><stop offset="0.7757" stop-color="#3a18f0"/><stop offset="0.8313" stop-color="#8a30f0"/><stop offset="0.8668" stop-color="#d050f2"/><stop offset="0.9179" stop-color="#5a2068"/><stop offset="0.9639" stop-color="#080208"/><stop offset="1.0000" stop-color="#000000"/></linearGradient>
<linearGradient id="rg42" x1="0" y1="0" x2="0" y2="1"><stop offset="0.0000" stop-color="#f4d8d8"/><stop offset="0.0248" stop-color="#e8402e"/><stop offset="0.1982" stop-color="#e8382a"/><stop offset="0.2682" stop-color="#ea9a44"/><stop offset="0.3332" stop-color="#eef060"/><stop offset="0.3732" stop-color="#eef062"/><stop offset="0.3956" stop-color="#c4f45e"/><stop offset="0.4230" stop-color="#94f05a"/><stop offset="0.5379" stop-color="#90f060"/><stop offset="0.6038" stop-color="#84f4e8"/><stop offset="0.6589" stop-color="#5070f6"/><stop offset="0.6941" stop-color="#2a1cf0"/><stop offset="0.7786" stop-color="#3a18f0"/><stop offset="0.8337" stop-color="#8a30f0"/><stop offset="0.8689" stop-color="#d050f2"/><stop offset="0.9193" stop-color="#5a2068"/><stop offset="0.9646" stop-color="#080208"/><stop offset="1.0000" stop-color="#000000"/></linearGradient>
<linearGradient id="rg43" x1="0" y1="0" x2="0" y2="1"><stop offset="0.0000" stop-color="#f4d8d8"/><stop offset="0.0252" stop-color="#e8402e"/><stop offset="0.2018" stop-color="#e8382a"/><stop offset="0.2718" stop-color="#ea9a44"/><stop offset="0.3368" stop-color="#eef060"/><stop offset="0.3768" stop-color="#eef062"/><stop offset="0.3994" stop-color="#c4f45e"/><stop offset="0.4270" stop-color="#94f05a"/><stop offset="0.5421" stop-color="#90f060"/><stop offset="0.6062" stop-color="#84f4e8"/><stop offset="0.6611" stop-color="#5070f6"/><stop offset="0.6959" stop-color="#2a1cf0"/><stop offset="0.7814" stop-color="#3a18f0"/><stop offset="0.8362" stop-color="#8a30f0"/><stop offset="0.8711" stop-color="#d050f2"/><stop offset="0.9207" stop-color="#5a2068"/><stop offset="0.9654" stop-color="#080208"/><stop offset="1.0000" stop-color="#000000"/></linearGradient>
<linearGradient id="rg44" x1="0" y1="0" x2="0" y2="1"><stop offset="0.0000" stop-color="#f4d8d8"/><stop offset="0.0255" stop-color="#e8402e"/><stop offset="0.2054" stop-color="#e8382a"/><stop offset="0.2754" stop-color="#ea9a44"/><stop offset="0.3404" stop-color="#eef060"/><stop offset="0.3804" stop-color="#eef062"/><stop offset="0.4031" stop-color="#c4f45e"/><stop offset="0.4309" stop-color="#94f05a"/><stop offset="0.5464" stop-color="#90f060"/><stop offset="0.6088" stop-color="#84f4e8"/><stop offset="0.6632" stop-color="#5070f6"/><stop offset="0.6977" stop-color="#2a1cf0"/><stop offset="0.7843" stop-color="#3a18f0"/><stop offset="0.8388" stop-color="#8a30f0"/><stop offset="0.8732" stop-color="#d050f2"/><stop offset="0.9221" stop-color="#5a2068"/><stop offset="0.9661" stop-color="#080208"/><stop offset="1.0000" stop-color="#000000"/></linearGradient>
<linearGradient id="rg45" x1="0" y1="0" x2="0" y2="1"><stop offset="0.0000" stop-color="#f4d8d8"/><stop offset="0.0259" stop-color="#e8402e"/><stop offset="0.2089" stop-color="#e8382a"/><stop offset="0.2789" stop-color="#ea9a44"/><stop offset="0.3439" stop-color="#eef060"/><stop offset="0.3839" stop-color="#eef062"/><stop offset="0.4069" stop-color="#c4f45e"/><stop offset="0.4348" stop-color="#94f05a"/><stop offset="0.5507" stop-color="#90f060"/><stop offset="0.6113" stop-color="#84f4e8"/><stop offset="0.6654" stop-color="#5070f6"/><stop offset="0.6995" stop-color="#2a1cf0"/><stop offset="0.7871" stop-color="#3a18f0"/><stop offset="0.8413" stop-color="#8a30f0"/><stop offset="0.8754" stop-color="#d050f2"/><stop offset="0.9236" stop-color="#5a2068"/><stop offset="0.9668" stop-color="#080208"/><stop offset="1.0000" stop-color="#000000"/></linearGradient>
<linearGradient id="rg46" x1="0" y1="0" x2="0" y2="1"><stop offset="0.0000" stop-color="#f4d8d8"/><stop offset="0.0262" stop-color="#e8402e"/><stop offset="0.2125" stop-color="#e8382a"/><stop offset="0.2825" stop-color="#ea9a44"/><stop offset="0.3475" stop-color="#eef060"/><stop offset="0.3875" stop-color="#eef062"/><stop offset="0.4106" stop-color="#c4f45e"/><stop offset="0.4387" stop-color="#94f05a"/><stop offset="0.5550" stop-color="#90f060"/><stop offset="0.6138" stop-color="#84f4e8"/><stop offset="0.6675" stop-color="#5070f6"/><stop offset="0.7012" stop-color="#2a1cf0"/><stop offset="0.7900" stop-color="#3a18f0"/><stop offset="0.8438" stop-color="#8a30f0"/><stop offset="0.8775" stop-color="#d050f2"/><stop offset="0.9250" stop-color="#5a2068"/><stop offset="0.9675" stop-color="#080208"/><stop offset="1.0000" stop-color="#000000"/></linearGradient>
<linearGradient id="rg47" x1="0" y1="0" x2="0" y2="1"><stop offset="0.0000" stop-color="#f4d8d8"/><stop offset="0.0266" stop-color="#e8402e"/><stop offset="0.2161" stop-color="#e8382a"/><stop offset="0.2861" stop-color="#ea9a44"/><stop offset="0.3511" stop-color="#eef060"/><stop offset="0.3911" stop-color="#eef062"/><stop offset="0.4144" stop-color="#c4f45e"/><stop offset="0.4427" stop-color="#94f05a"/><stop offset="0.5593" stop-color="#90f060"/><stop offset="0.6162" stop-color="#84f4e8"/><stop offset="0.6696" stop-color="#5070f6"/><stop offset="0.7030" stop-color="#2a1cf0"/><stop offset="0.7929" stop-color="#3a18f0"/><stop offset="0.8463" stop-color="#8a30f0"/><stop offset="0.8796" stop-color="#d050f2"/><stop offset="0.9264" stop-color="#5a2068"/><stop offset="0.9682" stop-color="#080208"/><stop offset="1.0000" stop-color="#000000"/></linearGradient>
<linearGradient id="rg48" x1="0" y1="0" x2="0" y2="1"><stop offset="0.0000" stop-color="#f4d8d8"/><stop offset="0.0270" stop-color="#e8402e"/><stop offset="0.2196" stop-color="#e8382a"/><stop offset="0.2896" stop-color="#ea9a44"/><stop offset="0.3546" stop-color="#eef060"/><stop offset="0.3946" stop-color="#eef062"/><stop offset="0.4181" stop-color="#c4f45e"/><stop offset="0.4466" stop-color="#94f05a"/><stop offset="0.5636" stop-color="#90f060"/><stop offset="0.6188" stop-color="#84f4e8"/><stop offset="0.6718" stop-color="#5070f6"/><stop offset="0.7048" stop-color="#2a1cf0"/><stop offset="0.7957" stop-color="#3a18f0"/><stop offset="0.8488" stop-color="#8a30f0"/><stop offset="0.8818" stop-color="#d050f2"/><stop offset="0.9279" stop-color="#5a2068"/><stop offset="0.9689" stop-color="#080208"/><stop offset="1.0000" stop-color="#000000"/></linearGradient>
<linearGradient id="rg49" x1="0" y1="0" x2="0" y2="1"><stop offset="0.0000" stop-color="#f4d8d8"/><stop offset="0.0273" stop-color="#e8402e"/><stop offset="0.2232" stop-color="#e8382a"/><stop offset="0.2932" stop-color="#ea9a44"/><stop offset="0.3582" stop-color="#eef060"/><stop offset="0.3982" stop-color="#eef062"/><stop offset="0.4219" stop-color="#c4f45e"/><stop offset="0.4505" stop-color="#94f05a"/><stop offset="0.5679" stop-color="#90f060"/><stop offset="0.6213" stop-color="#84f4e8"/><stop offset="0.6739" stop-color="#5070f6"/><stop offset="0.7066" stop-color="#2a1cf0"/><stop offset="0.7986" stop-color="#3a18f0"/><stop offset="0.8513" stop-color="#8a30f0"/><stop offset="0.8839" stop-color="#d050f2"/><stop offset="0.9293" stop-color="#5a2068"/><stop offset="0.9696" stop-color="#080208"/><stop offset="1.0000" stop-color="#000000"/></linearGradient>
<linearGradient id="rg50" x1="0" y1="0" x2="0" y2="1"><stop offset="0.0000" stop-color="#f4d8d8"/><stop offset="0.0277" stop-color="#e8402e"/><stop offset="0.2268" stop-color="#e8382a"/><stop offset="0.2968" stop-color="#ea9a44"/><stop offset="0.3618" stop-color="#eef060"/><stop offset="0.4018" stop-color="#eef062"/><stop offset="0.4256" stop-color="#c4f45e"/><stop offset="0.4545" stop-color="#94f05a"/><stop offset="0.5721" stop-color="#90f060"/><stop offset="0.6238" stop-color="#84f4e8"/><stop offset="0.6761" stop-color="#5070f6"/><stop offset="0.7084" stop-color="#2a1cf0"/><stop offset="0.8014" stop-color="#3a18f0"/><stop offset="0.8538" stop-color="#8a30f0"/><stop offset="0.8861" stop-color="#d050f2"/><stop offset="0.9307" stop-color="#5a2068"/><stop offset="0.9704" stop-color="#080208"/><stop offset="1.0000" stop-color="#000000"/></linearGradient>
<linearGradient id="rg51" x1="0" y1="0" x2="0" y2="1"><stop offset="0.0000" stop-color="#f4d8d8"/><stop offset="0.0280" stop-color="#e8402e"/><stop offset="0.2304" stop-color="#e8382a"/><stop offset="0.3004" stop-color="#ea9a44"/><stop offset="0.3654" stop-color="#eef060"/><stop offset="0.4054" stop-color="#eef062"/><stop offset="0.4294" stop-color="#c4f45e"/><stop offset="0.4584" stop-color="#94f05a"/><stop offset="0.5764" stop-color="#90f060"/><stop offset="0.6262" stop-color="#84f4e8"/><stop offset="0.6782" stop-color="#5070f6"/><stop offset="0.7102" stop-color="#2a1cf0"/><stop offset="0.8043" stop-color="#3a18f0"/><stop offset="0.8563" stop-color="#8a30f0"/><stop offset="0.8882" stop-color="#d050f2"/><stop offset="0.9321" stop-color="#5a2068"/><stop offset="0.9711" stop-color="#080208"/><stop offset="1.0000" stop-color="#000000"/></linearGradient>
<linearGradient id="rg52" x1="0" y1="0" x2="0" y2="1"><stop offset="0.0000" stop-color="#f4d8d8"/><stop offset="0.0284" stop-color="#e8402e"/><stop offset="0.2339" stop-color="#e8382a"/><stop offset="0.3039" stop-color="#ea9a44"/><stop offset="0.3689" stop-color="#eef060"/><stop offset="0.4089" stop-color="#eef062"/><stop offset="0.4331" stop-color="#c4f45e"/><stop offset="0.4623" stop-color="#94f05a"/><stop offset="0.5807" stop-color="#90f060"/><stop offset="0.6288" stop-color="#84f4e8"/><stop offset="0.6804" stop-color="#5070f6"/><stop offset="0.7120" stop-color="#2a1cf0"/><stop offset="0.8071" stop-color="#3a18f0"/><stop offset="0.8588" stop-color="#8a30f0"/><stop offset="0.8904" stop-color="#d050f2"/><stop offset="0.9336" stop-color="#5a2068"/><stop offset="0.9718" stop-color="#080208"/><stop offset="1.0000" stop-color="#000000"/></linearGradient>
<linearGradient id="rg53" x1="0" y1="0" x2="0" y2="1"><stop offset="0.0000" stop-color="#f4d8d8"/><stop offset="0.0287" stop-color="#e8402e"/><stop offset="0.2375" stop-color="#e8382a"/><stop offset="0.3075" stop-color="#ea9a44"/><stop offset="0.3725" stop-color="#eef060"/><stop offset="0.4125" stop-color="#eef062"/><stop offset="0.4369" stop-color="#c4f45e"/><stop offset="0.4662" stop-color="#94f05a"/><stop offset="0.5850" stop-color="#90f060"/><stop offset="0.6313" stop-color="#84f4e8"/><stop offset="0.6825" stop-color="#5070f6"/><stop offset="0.7137" stop-color="#2a1cf0"/><stop offset="0.8100" stop-color="#3a18f0"/><stop offset="0.8612" stop-color="#8a30f0"/><stop offset="0.8925" stop-color="#d050f2"/><stop offset="0.9350" stop-color="#5a2068"/><stop offset="0.9725" stop-color="#080208"/><stop offset="1.0000" stop-color="#000000"/></linearGradient>
<linearGradient id="rg54" x1="0" y1="0" x2="0" y2="1"><stop offset="0.0000" stop-color="#f4d8d8"/><stop offset="0.0291" stop-color="#e8402e"/><stop offset="0.2411" stop-color="#e8382a"/><stop offset="0.3111" stop-color="#ea9a44"/><stop offset="0.3761" stop-color="#eef060"/><stop offset="0.4161" stop-color="#eef062"/><stop offset="0.4406" stop-color="#c4f45e"/><stop offset="0.4702" stop-color="#94f05a"/><stop offset="0.5893" stop-color="#90f060"/><stop offset="0.6338" stop-color="#84f4e8"/><stop offset="0.6846" stop-color="#5070f6"/><stop offset="0.7155" stop-color="#2a1cf0"/><stop offset="0.8129" stop-color="#3a18f0"/><stop offset="0.8638" stop-color="#8a30f0"/><stop offset="0.8946" stop-color="#d050f2"/><stop offset="0.9364" stop-color="#5a2068"/><stop offset="0.9732" stop-color="#080208"/><stop offset="1.0000" stop-color="#000000"/></linearGradient>
<linearGradient id="rg55" x1="0" y1="0" x2="0" y2="1"><stop offset="0.0000" stop-color="#f4d8d8"/><stop offset="0.0295" stop-color="#e8402e"/><stop offset="0.2446" stop-color="#e8382a"/><stop offset="0.3146" stop-color="#ea9a44"/><stop offset="0.3796" stop-color="#eef060"/><stop offset="0.4196" stop-color="#eef062"/><stop offset="0.4444" stop-color="#c4f45e"/><stop offset="0.4741" stop-color="#94f05a"/><stop offset="0.5936" stop-color="#90f060"/><stop offset="0.6363" stop-color="#84f4e8"/><stop offset="0.6868" stop-color="#5070f6"/><stop offset="0.7173" stop-color="#2a1cf0"/><stop offset="0.8157" stop-color="#3a18f0"/><stop offset="0.8663" stop-color="#8a30f0"/><stop offset="0.8968" stop-color="#d050f2"/><stop offset="0.9379" stop-color="#5a2068"/><stop offset="0.9739" stop-color="#080208"/><stop offset="1.0000" stop-color="#000000"/></linearGradient>
<linearGradient id="rg56" x1="0" y1="0" x2="0" y2="1"><stop offset="0.0000" stop-color="#f4d8d8"/><stop offset="0.0298" stop-color="#e8402e"/><stop offset="0.2482" stop-color="#e8382a"/><stop offset="0.3182" stop-color="#ea9a44"/><stop offset="0.3832" stop-color="#eef060"/><stop offset="0.4232" stop-color="#eef062"/><stop offset="0.4481" stop-color="#c4f45e"/><stop offset="0.4780" stop-color="#94f05a"/><stop offset="0.5979" stop-color="#90f060"/><stop offset="0.6388" stop-color="#84f4e8"/><stop offset="0.6889" stop-color="#5070f6"/><stop offset="0.7191" stop-color="#2a1cf0"/><stop offset="0.8186" stop-color="#3a18f0"/><stop offset="0.8688" stop-color="#8a30f0"/><stop offset="0.8989" stop-color="#d050f2"/><stop offset="0.9393" stop-color="#5a2068"/><stop offset="0.9746" stop-color="#080208"/><stop offset="1.0000" stop-color="#000000"/></linearGradient>
<clipPath id="fc3"><path d="M390.2,597.5 L480,669 L480,775 L390.2,703.5 Z"/></clipPath>
<linearGradient id="rg57" x1="0" y1="0" x2="0" y2="1"><stop offset="0.0000" stop-color="#f4d8d8"/><stop offset="0.0206" stop-color="#e8402e"/><stop offset="0.1506" stop-color="#e8382a"/><stop offset="0.2501" stop-color="#ea9a44"/><stop offset="0.3298" stop-color="#eef060"/><stop offset="0.3747" stop-color="#eef062"/><stop offset="0.4095" stop-color="#c4f45e"/><stop offset="0.4492" stop-color="#94f05a"/><stop offset="0.5494" stop-color="#90f060"/><stop offset="0.6099" stop-color="#84f4e8"/><stop offset="0.6797" stop-color="#5070f6"/><stop offset="0.7296" stop-color="#2a1cf0"/><stop offset="0.7799" stop-color="#3a18f0"/><stop offset="0.8350" stop-color="#8a30f0"/><stop offset="0.8701" stop-color="#d050f2"/><stop offset="0.9252" stop-color="#5a2068"/><stop offset="0.9704" stop-color="#080208"/><stop offset="1.0000" stop-color="#000000"/></linearGradient>
<linearGradient id="rg58" x1="0" y1="0" x2="0" y2="1"><stop offset="0.0000" stop-color="#f4d8d8"/><stop offset="0.0219" stop-color="#e8402e"/><stop offset="0.1519" stop-color="#e8382a"/><stop offset="0.2503" stop-color="#ea9a44"/><stop offset="0.3295" stop-color="#eef060"/><stop offset="0.3742" stop-color="#eef062"/><stop offset="0.4084" stop-color="#c4f45e"/><stop offset="0.4476" stop-color="#94f05a"/><stop offset="0.5481" stop-color="#90f060"/><stop offset="0.6097" stop-color="#84f4e8"/><stop offset="0.6792" stop-color="#5070f6"/><stop offset="0.7287" stop-color="#2a1cf0"/><stop offset="0.7797" stop-color="#3a18f0"/><stop offset="0.8350" stop-color="#8a30f0"/><stop offset="0.8703" stop-color="#d050f2"/><stop offset="0.9255" stop-color="#5a2068"/><stop offset="0.9711" stop-color="#080208"/><stop offset="1.0000" stop-color="#000000"/></linearGradient>
<linearGradient id="rg59" x1="0" y1="0" x2="0" y2="1"><stop offset="0.0000" stop-color="#f4d8d8"/><stop offset="0.0231" stop-color="#e8402e"/><stop offset="0.1531" stop-color="#e8382a"/><stop offset="0.2504" stop-color="#ea9a44"/><stop offset="0.3291" stop-color="#eef060"/><stop offset="0.3737" stop-color="#eef062"/><stop offset="0.4073" stop-color="#c4f45e"/><stop offset="0.4460" stop-color="#94f05a"/><stop offset="0.5469" stop-color="#90f060"/><stop offset="0.6096" stop-color="#84f4e8"/><stop offset="0.6787" stop-color="#5070f6"/><stop offset="0.7278" stop-color="#2a1cf0"/><stop offset="0.7796" stop-color="#3a18f0"/><stop offset="0.8350" stop-color="#8a30f0"/><stop offset="0.8704" stop-color="#d050f2"/><stop offset="0.9259" stop-color="#5a2068"/><stop offset="0.9718" stop-color="#080208"/><stop offset="1.0000" stop-color="#000000"/></linearGradient>
<linearGradient id="rg60" x1="0" y1="0" x2="0" y2="1"><stop offset="0.0000" stop-color="#f4d8d8"/><stop offset="0.0244" stop-color="#e8402e"/><stop offset="0.1544" stop-color="#e8382a"/><stop offset="0.2506" stop-color="#ea9a44"/><stop offset="0.3287" stop-color="#eef060"/><stop offset="0.3731" stop-color="#eef062"/><stop offset="0.4062" stop-color="#c4f45e"/><stop offset="0.4444" stop-color="#94f05a"/><stop offset="0.5456" stop-color="#90f060"/><stop offset="0.6094" stop-color="#84f4e8"/><stop offset="0.6781" stop-color="#5070f6"/><stop offset="0.7269" stop-color="#2a1cf0"/><stop offset="0.7794" stop-color="#3a18f0"/><stop offset="0.8350" stop-color="#8a30f0"/><stop offset="0.8706" stop-color="#d050f2"/><stop offset="0.9263" stop-color="#5a2068"/><stop offset="0.9725" stop-color="#080208"/><stop offset="1.0000" stop-color="#000000"/></linearGradient>
<linearGradient id="rg61" x1="0" y1="0" x2="0" y2="1"><stop offset="0.0000" stop-color="#f4d8d8"/><stop offset="0.0256" stop-color="#e8402e"/><stop offset="0.1556" stop-color="#e8382a"/><stop offset="0.2508" stop-color="#ea9a44"/><stop offset="0.3284" stop-color="#eef060"/><stop offset="0.3726" stop-color="#eef062"/><stop offset="0.4052" stop-color="#c4f45e"/><stop offset="0.4428" stop-color="#94f05a"/><stop offset="0.5444" stop-color="#90f060"/><stop offset="0.6092" stop-color="#84f4e8"/><stop offset="0.6776" stop-color="#5070f6"/><stop offset="0.7260" stop-color="#2a1cf0"/><stop offset="0.7792" stop-color="#3a18f0"/><stop offset="0.8350" stop-color="#8a30f0"/><stop offset="0.8708" stop-color="#d050f2"/><stop offset="0.9266" stop-color="#5a2068"/><stop offset="0.9732" stop-color="#080208"/><stop offset="1.0000" stop-color="#000000"/></linearGradient>
<linearGradient id="rg62" x1="0" y1="0" x2="0" y2="1"><stop offset="0.0000" stop-color="#f4d8d8"/><stop offset="0.0269" stop-color="#e8402e"/><stop offset="0.1569" stop-color="#e8382a"/><stop offset="0.2510" stop-color="#ea9a44"/><stop offset="0.3280" stop-color="#eef060"/><stop offset="0.3721" stop-color="#eef062"/><stop offset="0.4041" stop-color="#c4f45e"/><stop offset="0.4412" stop-color="#94f05a"/><stop offset="0.5431" stop-color="#90f060"/><stop offset="0.6090" stop-color="#84f4e8"/><stop offset="0.6771" stop-color="#5070f6"/><stop offset="0.7251" stop-color="#2a1cf0"/><stop offset="0.7790" stop-color="#3a18f0"/><stop offset="0.8350" stop-color="#8a30f0"/><stop offset="0.8710" stop-color="#d050f2"/><stop offset="0.9270" stop-color="#5a2068"/><stop offset="0.9739" stop-color="#080208"/><stop offset="1.0000" stop-color="#000000"/></linearGradient>
<linearGradient id="rg63" x1="0" y1="0" x2="0" y2="1"><stop offset="0.0000" stop-color="#f4d8d8"/><stop offset="0.0281" stop-color="#e8402e"/><stop offset="0.1581" stop-color="#e8382a"/><stop offset="0.2512" stop-color="#ea9a44"/><stop offset="0.3277" stop-color="#eef060"/><stop offset="0.3715" stop-color="#eef062"/><stop offset="0.4030" stop-color="#c4f45e"/><stop offset="0.4396" stop-color="#94f05a"/><stop offset="0.5419" stop-color="#90f060"/><stop offset="0.6088" stop-color="#84f4e8"/><stop offset="0.6765" stop-color="#5070f6"/><stop offset="0.7242" stop-color="#2a1cf0"/><stop offset="0.7788" stop-color="#3a18f0"/><stop offset="0.8350" stop-color="#8a30f0"/><stop offset="0.8712" stop-color="#d050f2"/><stop offset="0.9273" stop-color="#5a2068"/><stop offset="0.9746" stop-color="#080208"/><stop offset="1.0000" stop-color="#000000"/></linearGradient>
<linearGradient id="rg64" x1="0" y1="0" x2="0" y2="1"><stop offset="0.0000" stop-color="#f4d8d8"/><stop offset="0.0294" stop-color="#e8402e"/><stop offset="0.1594" stop-color="#e8382a"/><stop offset="0.2513" stop-color="#ea9a44"/><stop offset="0.3273" stop-color="#eef060"/><stop offset="0.3710" stop-color="#eef062"/><stop offset="0.4020" stop-color="#c4f45e"/><stop offset="0.4379" stop-color="#94f05a"/><stop offset="0.5406" stop-color="#90f060"/><stop offset="0.6087" stop-color="#84f4e8"/><stop offset="0.6760" stop-color="#5070f6"/><stop offset="0.7233" stop-color="#2a1cf0"/><stop offset="0.7787" stop-color="#3a18f0"/><stop offset="0.8350" stop-color="#8a30f0"/><stop offset="0.8713" stop-color="#d050f2"/><stop offset="0.9277" stop-color="#5a2068"/><stop offset="0.9754" stop-color="#080208"/><stop offset="1.0000" stop-color="#000000"/></linearGradient>
<linearGradient id="rg65" x1="0" y1="0" x2="0" y2="1"><stop offset="0.0000" stop-color="#f4d8d8"/><stop offset="0.0306" stop-color="#e8402e"/><stop offset="0.1606" stop-color="#e8382a"/><stop offset="0.2515" stop-color="#ea9a44"/><stop offset="0.3270" stop-color="#eef060"/><stop offset="0.3704" stop-color="#eef062"/><stop offset="0.4009" stop-color="#c4f45e"/><stop offset="0.4363" stop-color="#94f05a"/><stop offset="0.5394" stop-color="#90f060"/><stop offset="0.6085" stop-color="#84f4e8"/><stop offset="0.6754" stop-color="#5070f6"/><stop offset="0.7224" stop-color="#2a1cf0"/><stop offset="0.7785" stop-color="#3a18f0"/><stop offset="0.8350" stop-color="#8a30f0"/><stop offset="0.8715" stop-color="#d050f2"/><stop offset="0.9280" stop-color="#5a2068"/><stop offset="0.9761" stop-color="#080208"/><stop offset="1.0000" stop-color="#000000"/></linearGradient>
<linearGradient id="rg66" x1="0" y1="0" x2="0" y2="1"><stop offset="0.0000" stop-color="#f4d8d8"/><stop offset="0.0319" stop-color="#e8402e"/><stop offset="0.1619" stop-color="#e8382a"/><stop offset="0.2517" stop-color="#ea9a44"/><stop offset="0.3266" stop-color="#eef060"/><stop offset="0.3699" stop-color="#eef062"/><stop offset="0.3998" stop-color="#c4f45e"/><stop offset="0.4347" stop-color="#94f05a"/><stop offset="0.5381" stop-color="#90f060"/><stop offset="0.6083" stop-color="#84f4e8"/><stop offset="0.6749" stop-color="#5070f6"/><stop offset="0.7215" stop-color="#2a1cf0"/><stop offset="0.7783" stop-color="#3a18f0"/><stop offset="0.8350" stop-color="#8a30f0"/><stop offset="0.8717" stop-color="#d050f2"/><stop offset="0.9284" stop-color="#5a2068"/><stop offset="0.9768" stop-color="#080208"/><stop offset="1.0000" stop-color="#000000"/></linearGradient>
<linearGradient id="rg67" x1="0" y1="0" x2="0" y2="1"><stop offset="0.0000" stop-color="#f4d8d8"/><stop offset="0.0331" stop-color="#e8402e"/><stop offset="0.1631" stop-color="#e8382a"/><stop offset="0.2519" stop-color="#ea9a44"/><stop offset="0.3262" stop-color="#eef060"/><stop offset="0.3694" stop-color="#eef062"/><stop offset="0.3987" stop-color="#c4f45e"/><stop offset="0.4331" stop-color="#94f05a"/><stop offset="0.5369" stop-color="#90f060"/><stop offset="0.6081" stop-color="#84f4e8"/><stop offset="0.6744" stop-color="#5070f6"/><stop offset="0.7206" stop-color="#2a1cf0"/><stop offset="0.7781" stop-color="#3a18f0"/><stop offset="0.8350" stop-color="#8a30f0"/><stop offset="0.8719" stop-color="#d050f2"/><stop offset="0.9287" stop-color="#5a2068"/><stop offset="0.9775" stop-color="#080208"/><stop offset="1.0000" stop-color="#000000"/></linearGradient>
<linearGradient id="rg68" x1="0" y1="0" x2="0" y2="1"><stop offset="0.0000" stop-color="#f4d8d8"/><stop offset="0.0344" stop-color="#e8402e"/><stop offset="0.1644" stop-color="#e8382a"/><stop offset="0.2521" stop-color="#ea9a44"/><stop offset="0.3259" stop-color="#eef060"/><stop offset="0.3688" stop-color="#eef062"/><stop offset="0.3977" stop-color="#c4f45e"/><stop offset="0.4315" stop-color="#94f05a"/><stop offset="0.5356" stop-color="#90f060"/><stop offset="0.6079" stop-color="#84f4e8"/><stop offset="0.6738" stop-color="#5070f6"/><stop offset="0.7197" stop-color="#2a1cf0"/><stop offset="0.7779" stop-color="#3a18f0"/><stop offset="0.8350" stop-color="#8a30f0"/><stop offset="0.8721" stop-color="#d050f2"/><stop offset="0.9291" stop-color="#5a2068"/><stop offset="0.9782" stop-color="#080208"/><stop offset="1.0000" stop-color="#000000"/></linearGradient>
<linearGradient id="rg69" x1="0" y1="0" x2="0" y2="1"><stop offset="0.0000" stop-color="#f4d8d8"/><stop offset="0.0356" stop-color="#e8402e"/><stop offset="0.1656" stop-color="#e8382a"/><stop offset="0.2522" stop-color="#ea9a44"/><stop offset="0.3255" stop-color="#eef060"/><stop offset="0.3683" stop-color="#eef062"/><stop offset="0.3966" stop-color="#c4f45e"/><stop offset="0.4299" stop-color="#94f05a"/><stop offset="0.5344" stop-color="#90f060"/><stop offset="0.6078" stop-color="#84f4e8"/><stop offset="0.6733" stop-color="#5070f6"/><stop offset="0.7188" stop-color="#2a1cf0"/><stop offset="0.7778" stop-color="#3a18f0"/><stop offset="0.8350" stop-color="#8a30f0"/><stop offset="0.8722" stop-color="#d050f2"/><stop offset="0.9295" stop-color="#5a2068"/><stop offset="0.9789" stop-color="#080208"/><stop offset="1.0000" stop-color="#000000"/></linearGradient>
<linearGradient id="rg70" x1="0" y1="0" x2="0" y2="1"><stop offset="0.0000" stop-color="#f4d8d8"/><stop offset="0.0369" stop-color="#e8402e"/><stop offset="0.1669" stop-color="#e8382a"/><stop offset="0.2524" stop-color="#ea9a44"/><stop offset="0.3252" stop-color="#eef060"/><stop offset="0.3678" stop-color="#eef062"/><stop offset="0.3955" stop-color="#c4f45e"/><stop offset="0.4283" stop-color="#94f05a"/><stop offset="0.5331" stop-color="#90f060"/><stop offset="0.6076" stop-color="#84f4e8"/><stop offset="0.6728" stop-color="#5070f6"/><stop offset="0.7179" stop-color="#2a1cf0"/><stop offset="0.7776" stop-color="#3a18f0"/><stop offset="0.8350" stop-color="#8a30f0"/><stop offset="0.8724" stop-color="#d050f2"/><stop offset="0.9298" stop-color="#5a2068"/><stop offset="0.9796" stop-color="#080208"/><stop offset="1.0000" stop-color="#000000"/></linearGradient>
<linearGradient id="rg71" x1="0" y1="0" x2="0" y2="1"><stop offset="0.0000" stop-color="#f4d8d8"/><stop offset="0.0381" stop-color="#e8402e"/><stop offset="0.1681" stop-color="#e8382a"/><stop offset="0.2526" stop-color="#ea9a44"/><stop offset="0.3248" stop-color="#eef060"/><stop offset="0.3672" stop-color="#eef062"/><stop offset="0.3945" stop-color="#c4f45e"/><stop offset="0.4267" stop-color="#94f05a"/><stop offset="0.5319" stop-color="#90f060"/><stop offset="0.6074" stop-color="#84f4e8"/><stop offset="0.6722" stop-color="#5070f6"/><stop offset="0.7171" stop-color="#2a1cf0"/><stop offset="0.7774" stop-color="#3a18f0"/><stop offset="0.8350" stop-color="#8a30f0"/><stop offset="0.8726" stop-color="#d050f2"/><stop offset="0.9302" stop-color="#5a2068"/><stop offset="0.9804" stop-color="#080208"/><stop offset="1.0000" stop-color="#000000"/></linearGradient>
<linearGradient id="rg72" x1="0" y1="0" x2="0" y2="1"><stop offset="0.0000" stop-color="#f4d8d8"/><stop offset="0.0394" stop-color="#e8402e"/><stop offset="0.1694" stop-color="#e8382a"/><stop offset="0.2528" stop-color="#ea9a44"/><stop offset="0.3245" stop-color="#eef060"/><stop offset="0.3667" stop-color="#eef062"/><stop offset="0.3934" stop-color="#c4f45e"/><stop offset="0.4251" stop-color="#94f05a"/><stop offset="0.5306" stop-color="#90f060"/><stop offset="0.6072" stop-color="#84f4e8"/><stop offset="0.6717" stop-color="#5070f6"/><stop offset="0.7162" stop-color="#2a1cf0"/><stop offset="0.7772" stop-color="#3a18f0"/><stop offset="0.8350" stop-color="#8a30f0"/><stop offset="0.8728" stop-color="#d050f2"/><stop offset="0.9305" stop-color="#5a2068"/><stop offset="0.9811" stop-color="#080208"/><stop offset="1.0000" stop-color="#000000"/></linearGradient>
<linearGradient id="rg73" x1="0" y1="0" x2="0" y2="1"><stop offset="0.0000" stop-color="#f4d8d8"/><stop offset="0.0406" stop-color="#e8402e"/><stop offset="0.1706" stop-color="#e8382a"/><stop offset="0.2529" stop-color="#ea9a44"/><stop offset="0.3241" stop-color="#eef060"/><stop offset="0.3662" stop-color="#eef062"/><stop offset="0.3923" stop-color="#c4f45e"/><stop offset="0.4235" stop-color="#94f05a"/><stop offset="0.5294" stop-color="#90f060"/><stop offset="0.6071" stop-color="#84f4e8"/><stop offset="0.6712" stop-color="#5070f6"/><stop offset="0.7153" stop-color="#2a1cf0"/><stop offset="0.7771" stop-color="#3a18f0"/><stop offset="0.8350" stop-color="#8a30f0"/><stop offset="0.8729" stop-color="#d050f2"/><stop offset="0.9309" stop-color="#5a2068"/><stop offset="0.9818" stop-color="#080208"/><stop offset="1.0000" stop-color="#000000"/></linearGradient>
<linearGradient id="rg74" x1="0" y1="0" x2="0" y2="1"><stop offset="0.0000" stop-color="#f4d8d8"/><stop offset="0.0419" stop-color="#e8402e"/><stop offset="0.1719" stop-color="#e8382a"/><stop offset="0.2531" stop-color="#ea9a44"/><stop offset="0.3237" stop-color="#eef060"/><stop offset="0.3656" stop-color="#eef062"/><stop offset="0.3912" stop-color="#c4f45e"/><stop offset="0.4219" stop-color="#94f05a"/><stop offset="0.5281" stop-color="#90f060"/><stop offset="0.6069" stop-color="#84f4e8"/><stop offset="0.6706" stop-color="#5070f6"/><stop offset="0.7144" stop-color="#2a1cf0"/><stop offset="0.7769" stop-color="#3a18f0"/><stop offset="0.8350" stop-color="#8a30f0"/><stop offset="0.8731" stop-color="#d050f2"/><stop offset="0.9313" stop-color="#5a2068"/><stop offset="0.9825" stop-color="#080208"/><stop offset="1.0000" stop-color="#000000"/></linearGradient>
<linearGradient id="rg75" x1="0" y1="0" x2="0" y2="1"><stop offset="0.0000" stop-color="#f4d8d8"/><stop offset="0.0431" stop-color="#e8402e"/><stop offset="0.1731" stop-color="#e8382a"/><stop offset="0.2533" stop-color="#ea9a44"/><stop offset="0.3234" stop-color="#eef060"/><stop offset="0.3651" stop-color="#eef062"/><stop offset="0.3902" stop-color="#c4f45e"/><stop offset="0.4203" stop-color="#94f05a"/><stop offset="0.5269" stop-color="#90f060"/><stop offset="0.6067" stop-color="#84f4e8"/><stop offset="0.6701" stop-color="#5070f6"/><stop offset="0.7135" stop-color="#2a1cf0"/><stop offset="0.7767" stop-color="#3a18f0"/><stop offset="0.8350" stop-color="#8a30f0"/><stop offset="0.8733" stop-color="#d050f2"/><stop offset="0.9316" stop-color="#5a2068"/><stop offset="0.9832" stop-color="#080208"/><stop offset="1.0000" stop-color="#000000"/></linearGradient>
<linearGradient id="rg76" x1="0" y1="0" x2="0" y2="1"><stop offset="0.0000" stop-color="#f4d8d8"/><stop offset="0.0444" stop-color="#e8402e"/><stop offset="0.1744" stop-color="#e8382a"/><stop offset="0.2535" stop-color="#ea9a44"/><stop offset="0.3230" stop-color="#eef060"/><stop offset="0.3646" stop-color="#eef062"/><stop offset="0.3891" stop-color="#c4f45e"/><stop offset="0.4187" stop-color="#94f05a"/><stop offset="0.5256" stop-color="#90f060"/><stop offset="0.6065" stop-color="#84f4e8"/><stop offset="0.6696" stop-color="#5070f6"/><stop offset="0.7126" stop-color="#2a1cf0"/><stop offset="0.7765" stop-color="#3a18f0"/><stop offset="0.8350" stop-color="#8a30f0"/><stop offset="0.8735" stop-color="#d050f2"/><stop offset="0.9320" stop-color="#5a2068"/><stop offset="0.9839" stop-color="#080208"/><stop offset="1.0000" stop-color="#000000"/></linearGradient>
<linearGradient id="rg77" x1="0" y1="0" x2="0" y2="1"><stop offset="0.0000" stop-color="#f4d8d8"/><stop offset="0.0456" stop-color="#e8402e"/><stop offset="0.1756" stop-color="#e8382a"/><stop offset="0.2537" stop-color="#ea9a44"/><stop offset="0.3227" stop-color="#eef060"/><stop offset="0.3640" stop-color="#eef062"/><stop offset="0.3880" stop-color="#c4f45e"/><stop offset="0.4171" stop-color="#94f05a"/><stop offset="0.5244" stop-color="#90f060"/><stop offset="0.6063" stop-color="#84f4e8"/><stop offset="0.6690" stop-color="#5070f6"/><stop offset="0.7117" stop-color="#2a1cf0"/><stop offset="0.7763" stop-color="#3a18f0"/><stop offset="0.8350" stop-color="#8a30f0"/><stop offset="0.8737" stop-color="#d050f2"/><stop offset="0.9323" stop-color="#5a2068"/><stop offset="0.9846" stop-color="#080208"/><stop offset="1.0000" stop-color="#000000"/></linearGradient>
<linearGradient id="rg78" x1="0" y1="0" x2="0" y2="1"><stop offset="0.0000" stop-color="#f4d8d8"/><stop offset="0.0469" stop-color="#e8402e"/><stop offset="0.1769" stop-color="#e8382a"/><stop offset="0.2538" stop-color="#ea9a44"/><stop offset="0.3223" stop-color="#eef060"/><stop offset="0.3635" stop-color="#eef062"/><stop offset="0.3870" stop-color="#c4f45e"/><stop offset="0.4154" stop-color="#94f05a"/><stop offset="0.5231" stop-color="#90f060"/><stop offset="0.6062" stop-color="#84f4e8"/><stop offset="0.6685" stop-color="#5070f6"/><stop offset="0.7108" stop-color="#2a1cf0"/><stop offset="0.7762" stop-color="#3a18f0"/><stop offset="0.8350" stop-color="#8a30f0"/><stop offset="0.8738" stop-color="#d050f2"/><stop offset="0.9327" stop-color="#5a2068"/><stop offset="0.9854" stop-color="#080208"/><stop offset="1.0000" stop-color="#000000"/></linearGradient>
<linearGradient id="rg79" x1="0" y1="0" x2="0" y2="1"><stop offset="0.0000" stop-color="#f4d8d8"/><stop offset="0.0481" stop-color="#e8402e"/><stop offset="0.1781" stop-color="#e8382a"/><stop offset="0.2540" stop-color="#ea9a44"/><stop offset="0.3220" stop-color="#eef060"/><stop offset="0.3629" stop-color="#eef062"/><stop offset="0.3859" stop-color="#c4f45e"/><stop offset="0.4138" stop-color="#94f05a"/><stop offset="0.5219" stop-color="#90f060"/><stop offset="0.6060" stop-color="#84f4e8"/><stop offset="0.6679" stop-color="#5070f6"/><stop offset="0.7099" stop-color="#2a1cf0"/><stop offset="0.7760" stop-color="#3a18f0"/><stop offset="0.8350" stop-color="#8a30f0"/><stop offset="0.8740" stop-color="#d050f2"/><stop offset="0.9330" stop-color="#5a2068"/><stop offset="0.9861" stop-color="#080208"/><stop offset="1.0000" stop-color="#000000"/></linearGradient>
<linearGradient id="rg80" x1="0" y1="0" x2="0" y2="1"><stop offset="0.0000" stop-color="#f4d8d8"/><stop offset="0.0494" stop-color="#e8402e"/><stop offset="0.1794" stop-color="#e8382a"/><stop offset="0.2542" stop-color="#ea9a44"/><stop offset="0.3216" stop-color="#eef060"/><stop offset="0.3624" stop-color="#eef062"/><stop offset="0.3848" stop-color="#c4f45e"/><stop offset="0.4122" stop-color="#94f05a"/><stop offset="0.5206" stop-color="#90f060"/><stop offset="0.6058" stop-color="#84f4e8"/><stop offset="0.6674" stop-color="#5070f6"/><stop offset="0.7090" stop-color="#2a1cf0"/><stop offset="0.7758" stop-color="#3a18f0"/><stop offset="0.8350" stop-color="#8a30f0"/><stop offset="0.8742" stop-color="#d050f2"/><stop offset="0.9334" stop-color="#5a2068"/><stop offset="0.9868" stop-color="#080208"/><stop offset="1.0000" stop-color="#000000"/></linearGradient>
<linearGradient id="rg81" x1="0" y1="0" x2="0" y2="1"><stop offset="0.0000" stop-color="#f4d8d8"/><stop offset="0.0506" stop-color="#e8402e"/><stop offset="0.1806" stop-color="#e8382a"/><stop offset="0.2544" stop-color="#ea9a44"/><stop offset="0.3212" stop-color="#eef060"/><stop offset="0.3619" stop-color="#eef062"/><stop offset="0.3838" stop-color="#c4f45e"/><stop offset="0.4106" stop-color="#94f05a"/><stop offset="0.5194" stop-color="#90f060"/><stop offset="0.6056" stop-color="#84f4e8"/><stop offset="0.6669" stop-color="#5070f6"/><stop offset="0.7081" stop-color="#2a1cf0"/><stop offset="0.7756" stop-color="#3a18f0"/><stop offset="0.8350" stop-color="#8a30f0"/><stop offset="0.8744" stop-color="#d050f2"/><stop offset="0.9337" stop-color="#5a2068"/><stop offset="0.9875" stop-color="#080208"/><stop offset="1.0000" stop-color="#000000"/></linearGradient>
<linearGradient id="rg82" x1="0" y1="0" x2="0" y2="1"><stop offset="0.0000" stop-color="#f4d8d8"/><stop offset="0.0519" stop-color="#e8402e"/><stop offset="0.1819" stop-color="#e8382a"/><stop offset="0.2546" stop-color="#ea9a44"/><stop offset="0.3209" stop-color="#eef060"/><stop offset="0.3613" stop-color="#eef062"/><stop offset="0.3827" stop-color="#c4f45e"/><stop offset="0.4090" stop-color="#94f05a"/><stop offset="0.5181" stop-color="#90f060"/><stop offset="0.6054" stop-color="#84f4e8"/><stop offset="0.6663" stop-color="#5070f6"/><stop offset="0.7072" stop-color="#2a1cf0"/><stop offset="0.7754" stop-color="#3a18f0"/><stop offset="0.8350" stop-color="#8a30f0"/><stop offset="0.8746" stop-color="#d050f2"/><stop offset="0.9341" stop-color="#5a2068"/><stop offset="0.9882" stop-color="#080208"/><stop offset="1.0000" stop-color="#000000"/></linearGradient>
<linearGradient id="rg83" x1="0" y1="0" x2="0" y2="1"><stop offset="0.0000" stop-color="#f4d8d8"/><stop offset="0.0531" stop-color="#e8402e"/><stop offset="0.1831" stop-color="#e8382a"/><stop offset="0.2547" stop-color="#ea9a44"/><stop offset="0.3205" stop-color="#eef060"/><stop offset="0.3608" stop-color="#eef062"/><stop offset="0.3816" stop-color="#c4f45e"/><stop offset="0.4074" stop-color="#94f05a"/><stop offset="0.5169" stop-color="#90f060"/><stop offset="0.6053" stop-color="#84f4e8"/><stop offset="0.6658" stop-color="#5070f6"/><stop offset="0.7063" stop-color="#2a1cf0"/><stop offset="0.7753" stop-color="#3a18f0"/><stop offset="0.8350" stop-color="#8a30f0"/><stop offset="0.8747" stop-color="#d050f2"/><stop offset="0.9345" stop-color="#5a2068"/><stop offset="0.9889" stop-color="#080208"/><stop offset="1.0000" stop-color="#000000"/></linearGradient>
<linearGradient id="rg84" x1="0" y1="0" x2="0" y2="1"><stop offset="0.0000" stop-color="#f4d8d8"/><stop offset="0.0544" stop-color="#e8402e"/><stop offset="0.1844" stop-color="#e8382a"/><stop offset="0.2549" stop-color="#ea9a44"/><stop offset="0.3202" stop-color="#eef060"/><stop offset="0.3603" stop-color="#eef062"/><stop offset="0.3805" stop-color="#c4f45e"/><stop offset="0.4058" stop-color="#94f05a"/><stop offset="0.5156" stop-color="#90f060"/><stop offset="0.6051" stop-color="#84f4e8"/><stop offset="0.6653" stop-color="#5070f6"/><stop offset="0.7054" stop-color="#2a1cf0"/><stop offset="0.7751" stop-color="#3a18f0"/><stop offset="0.8350" stop-color="#8a30f0"/><stop offset="0.8749" stop-color="#d050f2"/><stop offset="0.9348" stop-color="#5a2068"/><stop offset="0.9896" stop-color="#080208"/><stop offset="1.0000" stop-color="#000000"/></linearGradient>
<clipPath id="fc4"><path d="M480,669 L592.5,607.5 L592.5,717 L480,775 Z"/></clipPath>
<linearGradient id="rg85" x1="0" y1="0" x2="0" y2="1"><stop offset="0.0000" stop-color="#f4d8d8"/><stop offset="0.0546" stop-color="#e8402e"/><stop offset="0.1862" stop-color="#e8382a"/><stop offset="0.2562" stop-color="#ea9a44"/><stop offset="0.3212" stop-color="#eef060"/><stop offset="0.3612" stop-color="#eef062"/><stop offset="0.3812" stop-color="#c4f45e"/><stop offset="0.4063" stop-color="#94f05a"/><stop offset="0.5165" stop-color="#90f060"/><stop offset="0.6056" stop-color="#84f4e8"/><stop offset="0.6654" stop-color="#5070f6"/><stop offset="0.7053" stop-color="#2a1cf0"/><stop offset="0.7758" stop-color="#3a18f0"/><stop offset="0.8356" stop-color="#8a30f0"/><stop offset="0.8754" stop-color="#d050f2"/><stop offset="0.9351" stop-color="#5a2068"/><stop offset="0.9897" stop-color="#080208"/><stop offset="1.0000" stop-color="#000000"/></linearGradient>
<linearGradient id="rg86" x1="0" y1="0" x2="0" y2="1"><stop offset="0.0000" stop-color="#f4d8d8"/><stop offset="0.0537" stop-color="#e8402e"/><stop offset="0.1885" stop-color="#e8382a"/><stop offset="0.2585" stop-color="#ea9a44"/><stop offset="0.3235" stop-color="#eef060"/><stop offset="0.3635" stop-color="#eef062"/><stop offset="0.3838" stop-color="#c4f45e"/><stop offset="0.4090" stop-color="#94f05a"/><stop offset="0.5196" stop-color="#90f060"/><stop offset="0.6069" stop-color="#84f4e8"/><stop offset="0.6663" stop-color="#5070f6"/><stop offset="0.7058" stop-color="#2a1cf0"/><stop offset="0.7774" stop-color="#3a18f0"/><stop offset="0.8369" stop-color="#8a30f0"/><stop offset="0.8763" stop-color="#d050f2"/><stop offset="0.9353" stop-color="#5a2068"/><stop offset="0.9892" stop-color="#080208"/><stop offset="1.0000" stop-color="#000000"/></linearGradient>
<linearGradient id="rg87" x1="0" y1="0" x2="0" y2="1"><stop offset="0.0000" stop-color="#f4d8d8"/><stop offset="0.0528" stop-color="#e8402e"/><stop offset="0.1908" stop-color="#e8382a"/><stop offset="0.2608" stop-color="#ea9a44"/><stop offset="0.3258" stop-color="#eef060"/><stop offset="0.3658" stop-color="#eef062"/><stop offset="0.3862" stop-color="#c4f45e"/><stop offset="0.4117" stop-color="#94f05a"/><stop offset="0.5226" stop-color="#90f060"/><stop offset="0.6081" stop-color="#84f4e8"/><stop offset="0.6672" stop-color="#5070f6"/><stop offset="0.7063" stop-color="#2a1cf0"/><stop offset="0.7790" stop-color="#3a18f0"/><stop offset="0.8381" stop-color="#8a30f0"/><stop offset="0.8772" stop-color="#d050f2"/><stop offset="0.9354" stop-color="#5a2068"/><stop offset="0.9887" stop-color="#080208"/><stop offset="1.0000" stop-color="#000000"/></linearGradient>
<linearGradient id="rg88" x1="0" y1="0" x2="0" y2="1"><stop offset="0.0000" stop-color="#f4d8d8"/><stop offset="0.0519" stop-color="#e8402e"/><stop offset="0.1931" stop-color="#e8382a"/><stop offset="0.2631" stop-color="#ea9a44"/><stop offset="0.3281" stop-color="#eef060"/><stop offset="0.3681" stop-color="#eef062"/><stop offset="0.3888" stop-color="#c4f45e"/><stop offset="0.4144" stop-color="#94f05a"/><stop offset="0.5256" stop-color="#90f060"/><stop offset="0.6094" stop-color="#84f4e8"/><stop offset="0.6681" stop-color="#5070f6"/><stop offset="0.7069" stop-color="#2a1cf0"/><stop offset="0.7806" stop-color="#3a18f0"/><stop offset="0.8394" stop-color="#8a30f0"/><stop offset="0.8781" stop-color="#d050f2"/><stop offset="0.9356" stop-color="#5a2068"/><stop offset="0.9881" stop-color="#080208"/><stop offset="1.0000" stop-color="#000000"/></linearGradient>
<linearGradient id="rg89" x1="0" y1="0" x2="0" y2="1"><stop offset="0.0000" stop-color="#f4d8d8"/><stop offset="0.0510" stop-color="#e8402e"/><stop offset="0.1954" stop-color="#e8382a"/><stop offset="0.2654" stop-color="#ea9a44"/><stop offset="0.3304" stop-color="#eef060"/><stop offset="0.3704" stop-color="#eef062"/><stop offset="0.3912" stop-color="#c4f45e"/><stop offset="0.4171" stop-color="#94f05a"/><stop offset="0.5287" stop-color="#90f060"/><stop offset="0.6106" stop-color="#84f4e8"/><stop offset="0.6690" stop-color="#5070f6"/><stop offset="0.7074" stop-color="#2a1cf0"/><stop offset="0.7822" stop-color="#3a18f0"/><stop offset="0.8406" stop-color="#8a30f0"/><stop offset="0.8790" stop-color="#d050f2"/><stop offset="0.9358" stop-color="#5a2068"/><stop offset="0.9876" stop-color="#080208"/><stop offset="1.0000" stop-color="#000000"/></linearGradient>
<linearGradient id="rg90" x1="0" y1="0" x2="0" y2="1"><stop offset="0.0000" stop-color="#f4d8d8"/><stop offset="0.0501" stop-color="#e8402e"/><stop offset="0.1978" stop-color="#e8382a"/><stop offset="0.2678" stop-color="#ea9a44"/><stop offset="0.3328" stop-color="#eef060"/><stop offset="0.3728" stop-color="#eef062"/><stop offset="0.3938" stop-color="#c4f45e"/><stop offset="0.4197" stop-color="#94f05a"/><stop offset="0.5317" stop-color="#90f060"/><stop offset="0.6119" stop-color="#84f4e8"/><stop offset="0.6699" stop-color="#5070f6"/><stop offset="0.7079" stop-color="#2a1cf0"/><stop offset="0.7838" stop-color="#3a18f0"/><stop offset="0.8419" stop-color="#8a30f0"/><stop offset="0.8799" stop-color="#d050f2"/><stop offset="0.9360" stop-color="#5a2068"/><stop offset="0.9871" stop-color="#080208"/><stop offset="1.0000" stop-color="#000000"/></linearGradient>
<linearGradient id="rg91" x1="0" y1="0" x2="0" y2="1"><stop offset="0.0000" stop-color="#f4d8d8"/><stop offset="0.0492" stop-color="#e8402e"/><stop offset="0.2001" stop-color="#e8382a"/><stop offset="0.2701" stop-color="#ea9a44"/><stop offset="0.3351" stop-color="#eef060"/><stop offset="0.3751" stop-color="#eef062"/><stop offset="0.3962" stop-color="#c4f45e"/><stop offset="0.4224" stop-color="#94f05a"/><stop offset="0.5347" stop-color="#90f060"/><stop offset="0.6131" stop-color="#84f4e8"/><stop offset="0.6708" stop-color="#5070f6"/><stop offset="0.7085" stop-color="#2a1cf0"/><stop offset="0.7854" stop-color="#3a18f0"/><stop offset="0.8431" stop-color="#8a30f0"/><stop offset="0.8808" stop-color="#d050f2"/><stop offset="0.9362" stop-color="#5a2068"/><stop offset="0.9865" stop-color="#080208"/><stop offset="1.0000" stop-color="#000000"/></linearGradient>
<linearGradient id="rg92" x1="0" y1="0" x2="0" y2="1"><stop offset="0.0000" stop-color="#f4d8d8"/><stop offset="0.0483" stop-color="#e8402e"/><stop offset="0.2024" stop-color="#e8382a"/><stop offset="0.2724" stop-color="#ea9a44"/><stop offset="0.3374" stop-color="#eef060"/><stop offset="0.3774" stop-color="#eef062"/><stop offset="0.3988" stop-color="#c4f45e"/><stop offset="0.4251" stop-color="#94f05a"/><stop offset="0.5378" stop-color="#90f060"/><stop offset="0.6144" stop-color="#84f4e8"/><stop offset="0.6717" stop-color="#5070f6"/><stop offset="0.7090" stop-color="#2a1cf0"/><stop offset="0.7871" stop-color="#3a18f0"/><stop offset="0.8444" stop-color="#8a30f0"/><stop offset="0.8817" stop-color="#d050f2"/><stop offset="0.9363" stop-color="#5a2068"/><stop offset="0.9860" stop-color="#080208"/><stop offset="1.0000" stop-color="#000000"/></linearGradient>
<linearGradient id="rg93" x1="0" y1="0" x2="0" y2="1"><stop offset="0.0000" stop-color="#f4d8d8"/><stop offset="0.0474" stop-color="#e8402e"/><stop offset="0.2047" stop-color="#e8382a"/><stop offset="0.2747" stop-color="#ea9a44"/><stop offset="0.3397" stop-color="#eef060"/><stop offset="0.3797" stop-color="#eef062"/><stop offset="0.4012" stop-color="#c4f45e"/><stop offset="0.4278" stop-color="#94f05a"/><stop offset="0.5408" stop-color="#90f060"/><stop offset="0.6156" stop-color="#84f4e8"/><stop offset="0.6726" stop-color="#5070f6"/><stop offset="0.7096" stop-color="#2a1cf0"/><stop offset="0.7887" stop-color="#3a18f0"/><stop offset="0.8456" stop-color="#8a30f0"/><stop offset="0.8826" stop-color="#d050f2"/><stop offset="0.9365" stop-color="#5a2068"/><stop offset="0.9854" stop-color="#080208"/><stop offset="1.0000" stop-color="#000000"/></linearGradient>
<linearGradient id="rg94" x1="0" y1="0" x2="0" y2="1"><stop offset="0.0000" stop-color="#f4d8d8"/><stop offset="0.0465" stop-color="#e8402e"/><stop offset="0.2071" stop-color="#e8382a"/><stop offset="0.2771" stop-color="#ea9a44"/><stop offset="0.3421" stop-color="#eef060"/><stop offset="0.3821" stop-color="#eef062"/><stop offset="0.4037" stop-color="#c4f45e"/><stop offset="0.4304" stop-color="#94f05a"/><stop offset="0.5438" stop-color="#90f060"/><stop offset="0.6169" stop-color="#84f4e8"/><stop offset="0.6735" stop-color="#5070f6"/><stop offset="0.7101" stop-color="#2a1cf0"/><stop offset="0.7903" stop-color="#3a18f0"/><stop offset="0.8469" stop-color="#8a30f0"/><stop offset="0.8835" stop-color="#d050f2"/><stop offset="0.9367" stop-color="#5a2068"/><stop offset="0.9849" stop-color="#080208"/><stop offset="1.0000" stop-color="#000000"/></linearGradient>
<linearGradient id="rg95" x1="0" y1="0" x2="0" y2="1"><stop offset="0.0000" stop-color="#f4d8d8"/><stop offset="0.0456" stop-color="#e8402e"/><stop offset="0.2094" stop-color="#e8382a"/><stop offset="0.2794" stop-color="#ea9a44"/><stop offset="0.3444" stop-color="#eef060"/><stop offset="0.3844" stop-color="#eef062"/><stop offset="0.4062" stop-color="#c4f45e"/><stop offset="0.4331" stop-color="#94f05a"/><stop offset="0.5469" stop-color="#90f060"/><stop offset="0.6181" stop-color="#84f4e8"/><stop offset="0.6744" stop-color="#5070f6"/><stop offset="0.7106" stop-color="#2a1cf0"/><stop offset="0.7919" stop-color="#3a18f0"/><stop offset="0.8481" stop-color="#8a30f0"/><stop offset="0.8844" stop-color="#d050f2"/><stop offset="0.9369" stop-color="#5a2068"/><stop offset="0.9844" stop-color="#080208"/><stop offset="1.0000" stop-color="#000000"/></linearGradient>
<linearGradient id="rg96" x1="0" y1="0" x2="0" y2="1"><stop offset="0.0000" stop-color="#f4d8d8"/><stop offset="0.0447" stop-color="#e8402e"/><stop offset="0.2117" stop-color="#e8382a"/><stop offset="0.2817" stop-color="#ea9a44"/><stop offset="0.3467" stop-color="#eef060"/><stop offset="0.3867" stop-color="#eef062"/><stop offset="0.4088" stop-color="#c4f45e"/><stop offset="0.4358" stop-color="#94f05a"/><stop offset="0.5499" stop-color="#90f060"/><stop offset="0.6194" stop-color="#84f4e8"/><stop offset="0.6753" stop-color="#5070f6"/><stop offset="0.7112" stop-color="#2a1cf0"/><stop offset="0.7935" stop-color="#3a18f0"/><stop offset="0.8494" stop-color="#8a30f0"/><stop offset="0.8853" stop-color="#d050f2"/><stop offset="0.9371" stop-color="#5a2068"/><stop offset="0.9838" stop-color="#080208"/><stop offset="1.0000" stop-color="#000000"/></linearGradient>
<linearGradient id="rg97" x1="0" y1="0" x2="0" y2="1"><stop offset="0.0000" stop-color="#f4d8d8"/><stop offset="0.0438" stop-color="#e8402e"/><stop offset="0.2140" stop-color="#e8382a"/><stop offset="0.2840" stop-color="#ea9a44"/><stop offset="0.3490" stop-color="#eef060"/><stop offset="0.3890" stop-color="#eef062"/><stop offset="0.4113" stop-color="#c4f45e"/><stop offset="0.4385" stop-color="#94f05a"/><stop offset="0.5529" stop-color="#90f060"/><stop offset="0.6206" stop-color="#84f4e8"/><stop offset="0.6762" stop-color="#5070f6"/><stop offset="0.7117" stop-color="#2a1cf0"/><stop offset="0.7951" stop-color="#3a18f0"/><stop offset="0.8506" stop-color="#8a30f0"/><stop offset="0.8862" stop-color="#d050f2"/><stop offset="0.9372" stop-color="#5a2068"/><stop offset="0.9833" stop-color="#080208"/><stop offset="1.0000" stop-color="#000000"/></linearGradient>
<linearGradient id="rg98" x1="0" y1="0" x2="0" y2="1"><stop offset="0.0000" stop-color="#f4d8d8"/><stop offset="0.0429" stop-color="#e8402e"/><stop offset="0.2163" stop-color="#e8382a"/><stop offset="0.2863" stop-color="#ea9a44"/><stop offset="0.3513" stop-color="#eef060"/><stop offset="0.3913" stop-color="#eef062"/><stop offset="0.4137" stop-color="#c4f45e"/><stop offset="0.4412" stop-color="#94f05a"/><stop offset="0.5560" stop-color="#90f060"/><stop offset="0.6219" stop-color="#84f4e8"/><stop offset="0.6771" stop-color="#5070f6"/><stop offset="0.7122" stop-color="#2a1cf0"/><stop offset="0.7967" stop-color="#3a18f0"/><stop offset="0.8519" stop-color="#8a30f0"/><stop offset="0.8871" stop-color="#d050f2"/><stop offset="0.9374" stop-color="#5a2068"/><stop offset="0.9828" stop-color="#080208"/><stop offset="1.0000" stop-color="#000000"/></linearGradient>
<linearGradient id="rg99" x1="0" y1="0" x2="0" y2="1"><stop offset="0.0000" stop-color="#f4d8d8"/><stop offset="0.0421" stop-color="#e8402e"/><stop offset="0.2187" stop-color="#e8382a"/><stop offset="0.2887" stop-color="#ea9a44"/><stop offset="0.3537" stop-color="#eef060"/><stop offset="0.3937" stop-color="#eef062"/><stop offset="0.4163" stop-color="#c4f45e"/><stop offset="0.4438" stop-color="#94f05a"/><stop offset="0.5590" stop-color="#90f060"/><stop offset="0.6231" stop-color="#84f4e8"/><stop offset="0.6779" stop-color="#5070f6"/><stop offset="0.7128" stop-color="#2a1cf0"/><stop offset="0.7983" stop-color="#3a18f0"/><stop offset="0.8531" stop-color="#8a30f0"/><stop offset="0.8879" stop-color="#d050f2"/><stop offset="0.9376" stop-color="#5a2068"/><stop offset="0.9822" stop-color="#080208"/><stop offset="1.0000" stop-color="#000000"/></linearGradient>
<linearGradient id="rg100" x1="0" y1="0" x2="0" y2="1"><stop offset="0.0000" stop-color="#f4d8d8"/><stop offset="0.0412" stop-color="#e8402e"/><stop offset="0.2210" stop-color="#e8382a"/><stop offset="0.2910" stop-color="#ea9a44"/><stop offset="0.3560" stop-color="#eef060"/><stop offset="0.3960" stop-color="#eef062"/><stop offset="0.4188" stop-color="#c4f45e"/><stop offset="0.4465" stop-color="#94f05a"/><stop offset="0.5621" stop-color="#90f060"/><stop offset="0.6244" stop-color="#84f4e8"/><stop offset="0.6788" stop-color="#5070f6"/><stop offset="0.7133" stop-color="#2a1cf0"/><stop offset="0.7999" stop-color="#3a18f0"/><stop offset="0.8544" stop-color="#8a30f0"/><stop offset="0.8888" stop-color="#d050f2"/><stop offset="0.9378" stop-color="#5a2068"/><stop offset="0.9817" stop-color="#080208"/><stop offset="1.0000" stop-color="#000000"/></linearGradient>
<linearGradient id="rg101" x1="0" y1="0" x2="0" y2="1"><stop offset="0.0000" stop-color="#f4d8d8"/><stop offset="0.0403" stop-color="#e8402e"/><stop offset="0.2233" stop-color="#e8382a"/><stop offset="0.2933" stop-color="#ea9a44"/><stop offset="0.3583" stop-color="#eef060"/><stop offset="0.3983" stop-color="#eef062"/><stop offset="0.4213" stop-color="#c4f45e"/><stop offset="0.4492" stop-color="#94f05a"/><stop offset="0.5651" stop-color="#90f060"/><stop offset="0.6256" stop-color="#84f4e8"/><stop offset="0.6797" stop-color="#5070f6"/><stop offset="0.7138" stop-color="#2a1cf0"/><stop offset="0.8015" stop-color="#3a18f0"/><stop offset="0.8556" stop-color="#8a30f0"/><stop offset="0.8897" stop-color="#d050f2"/><stop offset="0.9379" stop-color="#5a2068"/><stop offset="0.9812" stop-color="#080208"/><stop offset="1.0000" stop-color="#000000"/></linearGradient>
<linearGradient id="rg102" x1="0" y1="0" x2="0" y2="1"><stop offset="0.0000" stop-color="#f4d8d8"/><stop offset="0.0394" stop-color="#e8402e"/><stop offset="0.2256" stop-color="#e8382a"/><stop offset="0.2956" stop-color="#ea9a44"/><stop offset="0.3606" stop-color="#eef060"/><stop offset="0.4006" stop-color="#eef062"/><stop offset="0.4238" stop-color="#c4f45e"/><stop offset="0.4519" stop-color="#94f05a"/><stop offset="0.5681" stop-color="#90f060"/><stop offset="0.6269" stop-color="#84f4e8"/><stop offset="0.6806" stop-color="#5070f6"/><stop offset="0.7144" stop-color="#2a1cf0"/><stop offset="0.8031" stop-color="#3a18f0"/><stop offset="0.8569" stop-color="#8a30f0"/><stop offset="0.8906" stop-color="#d050f2"/><stop offset="0.9381" stop-color="#5a2068"/><stop offset="0.9806" stop-color="#080208"/><stop offset="1.0000" stop-color="#000000"/></linearGradient>
<linearGradient id="rg103" x1="0" y1="0" x2="0" y2="1"><stop offset="0.0000" stop-color="#f4d8d8"/><stop offset="0.0385" stop-color="#e8402e"/><stop offset="0.2279" stop-color="#e8382a"/><stop offset="0.2979" stop-color="#ea9a44"/><stop offset="0.3629" stop-color="#eef060"/><stop offset="0.4029" stop-color="#eef062"/><stop offset="0.4263" stop-color="#c4f45e"/><stop offset="0.4546" stop-color="#94f05a"/><stop offset="0.5712" stop-color="#90f060"/><stop offset="0.6281" stop-color="#84f4e8"/><stop offset="0.6815" stop-color="#5070f6"/><stop offset="0.7149" stop-color="#2a1cf0"/><stop offset="0.8047" stop-color="#3a18f0"/><stop offset="0.8581" stop-color="#8a30f0"/><stop offset="0.8915" stop-color="#d050f2"/><stop offset="0.9383" stop-color="#5a2068"/><stop offset="0.9801" stop-color="#080208"/><stop offset="1.0000" stop-color="#000000"/></linearGradient>
<linearGradient id="rg104" x1="0" y1="0" x2="0" y2="1"><stop offset="0.0000" stop-color="#f4d8d8"/><stop offset="0.0376" stop-color="#e8402e"/><stop offset="0.2303" stop-color="#e8382a"/><stop offset="0.3003" stop-color="#ea9a44"/><stop offset="0.3653" stop-color="#eef060"/><stop offset="0.4053" stop-color="#eef062"/><stop offset="0.4288" stop-color="#c4f45e"/><stop offset="0.4572" stop-color="#94f05a"/><stop offset="0.5742" stop-color="#90f060"/><stop offset="0.6294" stop-color="#84f4e8"/><stop offset="0.6824" stop-color="#5070f6"/><stop offset="0.7154" stop-color="#2a1cf0"/><stop offset="0.8063" stop-color="#3a18f0"/><stop offset="0.8594" stop-color="#8a30f0"/><stop offset="0.8924" stop-color="#d050f2"/><stop offset="0.9385" stop-color="#5a2068"/><stop offset="0.9796" stop-color="#080208"/><stop offset="1.0000" stop-color="#000000"/></linearGradient>
<linearGradient id="rg105" x1="0" y1="0" x2="0" y2="1"><stop offset="0.0000" stop-color="#f4d8d8"/><stop offset="0.0367" stop-color="#e8402e"/><stop offset="0.2326" stop-color="#e8382a"/><stop offset="0.3026" stop-color="#ea9a44"/><stop offset="0.3676" stop-color="#eef060"/><stop offset="0.4076" stop-color="#eef062"/><stop offset="0.4313" stop-color="#c4f45e"/><stop offset="0.4599" stop-color="#94f05a"/><stop offset="0.5772" stop-color="#90f060"/><stop offset="0.6306" stop-color="#84f4e8"/><stop offset="0.6833" stop-color="#5070f6"/><stop offset="0.7160" stop-color="#2a1cf0"/><stop offset="0.8079" stop-color="#3a18f0"/><stop offset="0.8606" stop-color="#8a30f0"/><stop offset="0.8933" stop-color="#d050f2"/><stop offset="0.9387" stop-color="#5a2068"/><stop offset="0.9790" stop-color="#080208"/><stop offset="1.0000" stop-color="#000000"/></linearGradient>
<linearGradient id="rg106" x1="0" y1="0" x2="0" y2="1"><stop offset="0.0000" stop-color="#f4d8d8"/><stop offset="0.0358" stop-color="#e8402e"/><stop offset="0.2349" stop-color="#e8382a"/><stop offset="0.3049" stop-color="#ea9a44"/><stop offset="0.3699" stop-color="#eef060"/><stop offset="0.4099" stop-color="#eef062"/><stop offset="0.4338" stop-color="#c4f45e"/><stop offset="0.4626" stop-color="#94f05a"/><stop offset="0.5803" stop-color="#90f060"/><stop offset="0.6319" stop-color="#84f4e8"/><stop offset="0.6842" stop-color="#5070f6"/><stop offset="0.7165" stop-color="#2a1cf0"/><stop offset="0.8096" stop-color="#3a18f0"/><stop offset="0.8619" stop-color="#8a30f0"/><stop offset="0.8942" stop-color="#d050f2"/><stop offset="0.9388" stop-color="#5a2068"/><stop offset="0.9785" stop-color="#080208"/><stop offset="1.0000" stop-color="#000000"/></linearGradient>
<linearGradient id="rg107" x1="0" y1="0" x2="0" y2="1"><stop offset="0.0000" stop-color="#f4d8d8"/><stop offset="0.0349" stop-color="#e8402e"/><stop offset="0.2372" stop-color="#e8382a"/><stop offset="0.3072" stop-color="#ea9a44"/><stop offset="0.3722" stop-color="#eef060"/><stop offset="0.4122" stop-color="#eef062"/><stop offset="0.4363" stop-color="#c4f45e"/><stop offset="0.4653" stop-color="#94f05a"/><stop offset="0.5833" stop-color="#90f060"/><stop offset="0.6331" stop-color="#84f4e8"/><stop offset="0.6851" stop-color="#5070f6"/><stop offset="0.7171" stop-color="#2a1cf0"/><stop offset="0.8112" stop-color="#3a18f0"/><stop offset="0.8631" stop-color="#8a30f0"/><stop offset="0.8951" stop-color="#d050f2"/><stop offset="0.9390" stop-color="#5a2068"/><stop offset="0.9779" stop-color="#080208"/><stop offset="1.0000" stop-color="#000000"/></linearGradient>
<linearGradient id="rg108" x1="0" y1="0" x2="0" y2="1"><stop offset="0.0000" stop-color="#f4d8d8"/><stop offset="0.0340" stop-color="#e8402e"/><stop offset="0.2396" stop-color="#e8382a"/><stop offset="0.3096" stop-color="#ea9a44"/><stop offset="0.3746" stop-color="#eef060"/><stop offset="0.4146" stop-color="#eef062"/><stop offset="0.4388" stop-color="#c4f45e"/><stop offset="0.4679" stop-color="#94f05a"/><stop offset="0.5863" stop-color="#90f060"/><stop offset="0.6344" stop-color="#84f4e8"/><stop offset="0.6860" stop-color="#5070f6"/><stop offset="0.7176" stop-color="#2a1cf0"/><stop offset="0.8128" stop-color="#3a18f0"/><stop offset="0.8644" stop-color="#8a30f0"/><stop offset="0.8960" stop-color="#d050f2"/><stop offset="0.9392" stop-color="#5a2068"/><stop offset="0.9774" stop-color="#080208"/><stop offset="1.0000" stop-color="#000000"/></linearGradient>
<linearGradient id="rg109" x1="0" y1="0" x2="0" y2="1"><stop offset="0.0000" stop-color="#f4d8d8"/><stop offset="0.0331" stop-color="#e8402e"/><stop offset="0.2419" stop-color="#e8382a"/><stop offset="0.3119" stop-color="#ea9a44"/><stop offset="0.3769" stop-color="#eef060"/><stop offset="0.4169" stop-color="#eef062"/><stop offset="0.4412" stop-color="#c4f45e"/><stop offset="0.4706" stop-color="#94f05a"/><stop offset="0.5894" stop-color="#90f060"/><stop offset="0.6356" stop-color="#84f4e8"/><stop offset="0.6869" stop-color="#5070f6"/><stop offset="0.7181" stop-color="#2a1cf0"/><stop offset="0.8144" stop-color="#3a18f0"/><stop offset="0.8656" stop-color="#8a30f0"/><stop offset="0.8969" stop-color="#d050f2"/><stop offset="0.9394" stop-color="#5a2068"/><stop offset="0.9769" stop-color="#080208"/><stop offset="1.0000" stop-color="#000000"/></linearGradient>
<linearGradient id="rg110" x1="0" y1="0" x2="0" y2="1"><stop offset="0.0000" stop-color="#f4d8d8"/><stop offset="0.0322" stop-color="#e8402e"/><stop offset="0.2442" stop-color="#e8382a"/><stop offset="0.3142" stop-color="#ea9a44"/><stop offset="0.3792" stop-color="#eef060"/><stop offset="0.4192" stop-color="#eef062"/><stop offset="0.4437" stop-color="#c4f45e"/><stop offset="0.4733" stop-color="#94f05a"/><stop offset="0.5924" stop-color="#90f060"/><stop offset="0.6369" stop-color="#84f4e8"/><stop offset="0.6878" stop-color="#5070f6"/><stop offset="0.7187" stop-color="#2a1cf0"/><stop offset="0.8160" stop-color="#3a18f0"/><stop offset="0.8669" stop-color="#8a30f0"/><stop offset="0.8978" stop-color="#d050f2"/><stop offset="0.9396" stop-color="#5a2068"/><stop offset="0.9763" stop-color="#080208"/><stop offset="1.0000" stop-color="#000000"/></linearGradient>
<linearGradient id="rg111" x1="0" y1="0" x2="0" y2="1"><stop offset="0.0000" stop-color="#f4d8d8"/><stop offset="0.0313" stop-color="#e8402e"/><stop offset="0.2465" stop-color="#e8382a"/><stop offset="0.3165" stop-color="#ea9a44"/><stop offset="0.3815" stop-color="#eef060"/><stop offset="0.4215" stop-color="#eef062"/><stop offset="0.4462" stop-color="#c4f45e"/><stop offset="0.4760" stop-color="#94f05a"/><stop offset="0.5954" stop-color="#90f060"/><stop offset="0.6381" stop-color="#84f4e8"/><stop offset="0.6887" stop-color="#5070f6"/><stop offset="0.7192" stop-color="#2a1cf0"/><stop offset="0.8176" stop-color="#3a18f0"/><stop offset="0.8681" stop-color="#8a30f0"/><stop offset="0.8987" stop-color="#d050f2"/><stop offset="0.9397" stop-color="#5a2068"/><stop offset="0.9758" stop-color="#080208"/><stop offset="1.0000" stop-color="#000000"/></linearGradient>
<linearGradient id="rg112" x1="0" y1="0" x2="0" y2="1"><stop offset="0.0000" stop-color="#f4d8d8"/><stop offset="0.0304" stop-color="#e8402e"/><stop offset="0.2488" stop-color="#e8382a"/><stop offset="0.3188" stop-color="#ea9a44"/><stop offset="0.3838" stop-color="#eef060"/><stop offset="0.4238" stop-color="#eef062"/><stop offset="0.4488" stop-color="#c4f45e"/><stop offset="0.4787" stop-color="#94f05a"/><stop offset="0.5985" stop-color="#90f060"/><stop offset="0.6394" stop-color="#84f4e8"/><stop offset="0.6896" stop-color="#5070f6"/><stop offset="0.7197" stop-color="#2a1cf0"/><stop offset="0.8192" stop-color="#3a18f0"/><stop offset="0.8694" stop-color="#8a30f0"/><stop offset="0.8996" stop-color="#d050f2"/><stop offset="0.9399" stop-color="#5a2068"/><stop offset="0.9753" stop-color="#080208"/><stop offset="1.0000" stop-color="#000000"/></linearGradient>
</defs>
<rect x="0" y="0" width="685" height="1035" fill="#fff"/>
<line x1="52.67" y1="212.3" x2="52.67" y2="209.3" stroke="#262626" stroke-width="1"/>
<line x1="57.96" y1="212.3" x2="57.96" y2="209.3" stroke="#262626" stroke-width="1"/>
<line x1="62.7" y1="212.3" x2="62.7" y2="207.3" stroke="#262626" stroke-width="1"/>
<line x1="93.86" y1="212.3" x2="93.86" y2="209.3" stroke="#262626" stroke-width="1"/>
<line x1="112.08" y1="212.3" x2="112.08" y2="209.3" stroke="#262626" stroke-width="1"/>
<line x1="125.01" y1="212.3" x2="125.01" y2="209.3" stroke="#262626" stroke-width="1"/>
<line x1="135.04" y1="212.3" x2="135.04" y2="209.3" stroke="#262626" stroke-width="1"/>
<line x1="143.24" y1="212.3" x2="143.24" y2="209.3" stroke="#262626" stroke-width="1"/>
<line x1="150.17" y1="212.3" x2="150.17" y2="209.3" stroke="#262626" stroke-width="1"/>
<line x1="156.17" y1="212.3" x2="156.17" y2="209.3" stroke="#262626" stroke-width="1"/>
<line x1="161.46" y1="212.3" x2="161.46" y2="209.3" stroke="#262626" stroke-width="1"/>
<line x1="166.2" y1="212.3" x2="166.2" y2="207.3" stroke="#262626" stroke-width="1"/>
<line x1="197.36" y1="212.3" x2="197.36" y2="209.3" stroke="#262626" stroke-width="1"/>
<line x1="215.58" y1="212.3" x2="215.58" y2="209.3" stroke="#262626" stroke-width="1"/>
<line x1="228.51" y1="212.3" x2="228.51" y2="209.3" stroke="#262626" stroke-width="1"/>
<line x1="238.54" y1="212.3" x2="238.54" y2="209.3" stroke="#262626" stroke-width="1"/>
<line x1="246.74" y1="212.3" x2="246.74" y2="209.3" stroke="#262626" stroke-width="1"/>
<line x1="253.67" y1="212.3" x2="253.67" y2="209.3" stroke="#262626" stroke-width="1"/>
<line x1="259.67" y1="212.3" x2="259.67" y2="209.3" stroke="#262626" stroke-width="1"/>
<line x1="264.96" y1="212.3" x2="264.96" y2="209.3" stroke="#262626" stroke-width="1"/>
<line x1="269.7" y1="212.3" x2="269.7" y2="207.3" stroke="#262626" stroke-width="1"/>
<line x1="46.5" y1="205.08" x2="49.5" y2="205.08" stroke="#262626" stroke-width="1"/>
<line x1="46.5" y1="199.32" x2="49.5" y2="199.32" stroke="#262626" stroke-width="1"/>
<line x1="46.5" y1="194.33" x2="49.5" y2="194.33" stroke="#262626" stroke-width="1"/>
<line x1="46.5" y1="189.94" x2="49.5" y2="189.94" stroke="#262626" stroke-width="1"/>
<line x1="46.5" y1="186" x2="51.5" y2="186" stroke="#262626" stroke-width="1"/>
<line x1="46.5" y1="160.11" x2="49.5" y2="160.11" stroke="#262626" stroke-width="1"/>
<line x1="46.5" y1="144.97" x2="49.5" y2="144.97" stroke="#262626" stroke-width="1"/>
<line x1="46.5" y1="134.22" x2="49.5" y2="134.22" stroke="#262626" stroke-width="1"/>
<line x1="46.5" y1="125.89" x2="49.5" y2="125.89" stroke="#262626" stroke-width="1"/>
<line x1="46.5" y1="119.08" x2="49.5" y2="119.08" stroke="#262626" stroke-width="1"/>
<line x1="46.5" y1="113.32" x2="49.5" y2="113.32" stroke="#262626" stroke-width="1"/>
<line x1="46.5" y1="108.33" x2="49.5" y2="108.33" stroke="#262626" stroke-width="1"/>
<line x1="46.5" y1="103.94" x2="49.5" y2="103.94" stroke="#262626" stroke-width="1"/>
<line x1="46.5" y1="100" x2="51.5" y2="100" stroke="#262626" stroke-width="1"/>
<line x1="46.5" y1="74.11" x2="49.5" y2="74.11" stroke="#262626" stroke-width="1"/>
<line x1="46.5" y1="58.97" x2="49.5" y2="58.97" stroke="#262626" stroke-width="1"/>
<line x1="46.5" y1="48.22" x2="49.5" y2="48.22" stroke="#262626" stroke-width="1"/>
<line x1="46.5" y1="39.89" x2="49.5" y2="39.89" stroke="#262626" stroke-width="1"/>
<line x1="46.5" y1="33.08" x2="49.5" y2="33.08" stroke="#262626" stroke-width="1"/>
<line x1="46.5" y1="27.32" x2="49.5" y2="27.32" stroke="#262626" stroke-width="1"/>
<line x1="46.5" y1="22.33" x2="49.5" y2="22.33" stroke="#262626" stroke-width="1"/>
<line x1="46.5" y1="17.94" x2="49.5" y2="17.94" stroke="#262626" stroke-width="1"/>
<rect x="46.5" y="13.8" width="244.3" height="198.5" fill="none" stroke="#262626" stroke-width="1.3"/>
<line x1="174.6" y1="42" x2="174.6" y2="212.3" stroke="#444" stroke-width="1.1" stroke-dasharray="4,3"/>
<rect x="48.5" y="117.7" width="5" height="5" fill="#fff" fill-opacity="0.6" stroke="#e09040" stroke-width="0.85"/>
<rect x="43.6" y="124.1" width="5" height="5" fill="#fff" fill-opacity="0.6" stroke="#e09040" stroke-width="0.85"/>
<rect x="46.8" y="129.9" width="5" height="5" fill="#fff" fill-opacity="0.6" stroke="#e09040" stroke-width="0.85"/>
<rect x="45.6" y="133.5" width="5" height="5" fill="#fff" fill-opacity="0.6" stroke="#e09040" stroke-width="0.85"/>
<rect x="50.8" y="133.5" width="5" height="5" fill="#fff" fill-opacity="0.6" stroke="#e09040" stroke-width="0.85"/>
<rect x="52.6" y="141.6" width="5" height="5" fill="#fff" fill-opacity="0.6" stroke="#e09040" stroke-width="0.85"/>
<rect x="57.9" y="140.5" width="5" height="5" fill="#fff" fill-opacity="0.6" stroke="#e09040" stroke-width="0.85"/>
<rect x="58.5" y="135.2" width="5" height="5" fill="#fff" fill-opacity="0.6" stroke="#e09040" stroke-width="0.85"/>
<rect x="60.2" y="128" width="5" height="5" fill="#fff" fill-opacity="0.6" stroke="#e09040" stroke-width="0.85"/>
<rect x="61.9" y="117.1" width="5" height="5" fill="#fff" fill-opacity="0.6" stroke="#e09040" stroke-width="0.85"/>
<rect x="62.5" y="114.2" width="5" height="5" fill="#fff" fill-opacity="0.6" stroke="#e09040" stroke-width="0.85"/>
<rect x="67.2" y="115.4" width="5" height="5" fill="#fff" fill-opacity="0.6" stroke="#e09040" stroke-width="0.85"/>
<rect x="63.7" y="121.2" width="5" height="5" fill="#fff" fill-opacity="0.6" stroke="#e09040" stroke-width="0.85"/>
<rect x="66.6" y="118.9" width="5" height="5" fill="#fff" fill-opacity="0.6" stroke="#e09040" stroke-width="0.85"/>
<rect x="69.5" y="125.3" width="5" height="5" fill="#fff" fill-opacity="0.6" stroke="#e09040" stroke-width="0.85"/>
<rect x="72.5" y="126.5" width="5" height="5" fill="#fff" fill-opacity="0.6" stroke="#e09040" stroke-width="0.85"/>
<rect x="74.2" y="132.3" width="5" height="5" fill="#fff" fill-opacity="0.6" stroke="#e09040" stroke-width="0.85"/>
<rect x="76" y="135.8" width="5" height="5" fill="#fff" fill-opacity="0.6" stroke="#e09040" stroke-width="0.85"/>
<rect x="78.9" y="125.9" width="5" height="5" fill="#fff" fill-opacity="0.6" stroke="#e09040" stroke-width="0.85"/>
<rect x="79.5" y="121.2" width="5" height="5" fill="#fff" fill-opacity="0.6" stroke="#e09040" stroke-width="0.85"/>
<rect x="83.5" y="125.9" width="5" height="5" fill="#fff" fill-opacity="0.6" stroke="#e09040" stroke-width="0.85"/>
<rect x="85.9" y="129.9" width="5" height="5" fill="#fff" fill-opacity="0.6" stroke="#e09040" stroke-width="0.85"/>
<rect x="88.2" y="135.8" width="5" height="5" fill="#fff" fill-opacity="0.6" stroke="#e09040" stroke-width="0.85"/>
<rect x="89.4" y="132.9" width="5" height="5" fill="#fff" fill-opacity="0.6" stroke="#e09040" stroke-width="0.85"/>
<rect x="91.7" y="128.2" width="5" height="5" fill="#fff" fill-opacity="0.6" stroke="#e09040" stroke-width="0.85"/>
<rect x="94.1" y="124.7" width="5" height="5" fill="#fff" fill-opacity="0.6" stroke="#e09040" stroke-width="0.85"/>
<rect x="97.5" y="130.5" width="5" height="5" fill="#fff" fill-opacity="0.6" stroke="#e09040" stroke-width="0.85"/>
<rect x="99.9" y="131.7" width="5" height="5" fill="#fff" fill-opacity="0.6" stroke="#e09040" stroke-width="0.85"/>
<rect x="102.2" y="129.4" width="5" height="5" fill="#fff" fill-opacity="0.6" stroke="#e09040" stroke-width="0.85"/>
<rect x="105.2" y="125.9" width="5" height="5" fill="#fff" fill-opacity="0.6" stroke="#e09040" stroke-width="0.85"/>
<rect x="108.1" y="126.5" width="5" height="5" fill="#fff" fill-opacity="0.6" stroke="#e09040" stroke-width="0.85"/>
<rect x="110.4" y="130.5" width="5" height="5" fill="#fff" fill-opacity="0.6" stroke="#e09040" stroke-width="0.85"/>
<rect x="112.8" y="128.8" width="5" height="5" fill="#fff" fill-opacity="0.6" stroke="#e09040" stroke-width="0.85"/>
<rect x="116.3" y="128.2" width="5" height="5" fill="#fff" fill-opacity="0.6" stroke="#e09040" stroke-width="0.85"/>
<rect x="119.2" y="127" width="5" height="5" fill="#fff" fill-opacity="0.6" stroke="#e09040" stroke-width="0.85"/>
<rect x="119.5" y="126.97" width="5" height="5" fill="#fff" fill-opacity="0.6" stroke="#e09040" stroke-width="0.85"/>
<rect x="120.83" y="126.99" width="5" height="5" fill="#fff" fill-opacity="0.6" stroke="#e09040" stroke-width="0.85"/>
<rect x="122.17" y="129.02" width="5" height="5" fill="#fff" fill-opacity="0.6" stroke="#e09040" stroke-width="0.85"/>
<rect x="123.5" y="127.82" width="5" height="5" fill="#fff" fill-opacity="0.6" stroke="#e4a65c" stroke-width="0.85"/>
<rect x="125" y="129.26" width="5" height="5" fill="#fff" fill-opacity="0.6" stroke="#e4a65c" stroke-width="0.85"/>
<rect x="126.5" y="128.8" width="5" height="5" fill="#fff" fill-opacity="0.6" stroke="#e4a65c" stroke-width="0.85"/>
<rect x="128" y="127.92" width="5" height="5" fill="#fff" fill-opacity="0.6" stroke="#e4a65c" stroke-width="0.85"/>
<rect x="129.5" y="129.32" width="5" height="5" fill="#fff" fill-opacity="0.6" stroke="#e4a65c" stroke-width="0.85"/>
<rect x="131" y="128.09" width="5" height="5" fill="#fff" fill-opacity="0.6" stroke="#e4a65c" stroke-width="0.85"/>
<rect x="132.5" y="129.45" width="5" height="5" fill="#fff" fill-opacity="0.6" stroke="#e4a65c" stroke-width="0.85"/>
<rect x="134" y="128.53" width="5" height="5" fill="#fff" fill-opacity="0.6" stroke="#e4a65c" stroke-width="0.85"/>
<rect x="135.5" y="128.77" width="5" height="5" fill="#fff" fill-opacity="0.6" stroke="#e4a65c" stroke-width="0.85"/>
<rect x="136.9" y="130.17" width="5" height="5" fill="#fff" fill-opacity="0.6" stroke="#e4a65c" stroke-width="0.85"/>
<rect x="138.3" y="131.78" width="5" height="5" fill="#fff" fill-opacity="0.6" stroke="#e4a65c" stroke-width="0.85"/>
<rect x="139.7" y="130.07" width="5" height="5" fill="#fff" fill-opacity="0.6" stroke="#e4a65c" stroke-width="0.85"/>
<rect x="141.1" y="130.77" width="5" height="5" fill="#fff" fill-opacity="0.6" stroke="#e4a65c" stroke-width="0.85"/>
<rect x="142.5" y="132.38" width="5" height="5" fill="#fff" fill-opacity="0.6" stroke="#e4a65c" stroke-width="0.85"/>
<rect x="143.9" y="133.54" width="5" height="5" fill="#fff" fill-opacity="0.6" stroke="#e4a65c" stroke-width="0.85"/>
<rect x="145.3" y="132.63" width="5" height="5" fill="#fff" fill-opacity="0.6" stroke="#e4a65c" stroke-width="0.85"/>
<rect x="146.7" y="132.29" width="5" height="5" fill="#fff" fill-opacity="0.6" stroke="#e4a65c" stroke-width="0.85"/>
<rect x="148.1" y="133.37" width="5" height="5" fill="#fff" fill-opacity="0.6" stroke="#e4a65c" stroke-width="0.85"/>
<rect x="149.5" y="132.46" width="5" height="5" fill="#fff" fill-opacity="0.6" stroke="#e4a65c" stroke-width="0.85"/>
<rect x="150.83" y="133.6" width="5" height="5" fill="#fff" fill-opacity="0.6" stroke="#e4a65c" stroke-width="0.85"/>
<rect x="152.17" y="133.08" width="5" height="5" fill="#fff" fill-opacity="0.6" stroke="#e4a65c" stroke-width="0.85"/>
<rect x="153.5" y="133.07" width="5" height="5" fill="#fff" fill-opacity="0.6" stroke="#e4a65c" stroke-width="0.85"/>
<rect x="154.83" y="133.21" width="5" height="5" fill="#fff" fill-opacity="0.6" stroke="#e4a65c" stroke-width="0.85"/>
<rect x="156.17" y="133.6" width="5" height="5" fill="#fff" fill-opacity="0.6" stroke="#e4a65c" stroke-width="0.85"/>
<rect x="157.5" y="134.38" width="5" height="5" fill="#fff" fill-opacity="0.6" stroke="#e4a65c" stroke-width="0.85"/>
<rect x="158.83" y="133.95" width="5" height="5" fill="#fff" fill-opacity="0.6" stroke="#e4a65c" stroke-width="0.85"/>
<rect x="160.17" y="134.76" width="5" height="5" fill="#fff" fill-opacity="0.6" stroke="#e4a65c" stroke-width="0.85"/>
<rect x="161.5" y="135.17" width="5" height="5" fill="#fff" fill-opacity="0.6" stroke="#e4a65c" stroke-width="0.85"/>
<rect x="162.83" y="135.18" width="5" height="5" fill="#fff" fill-opacity="0.6" stroke="#e4a65c" stroke-width="0.85"/>
<rect x="164.17" y="135.72" width="5" height="5" fill="#fff" fill-opacity="0.6" stroke="#e4a65c" stroke-width="0.85"/>
<rect x="165.5" y="135.48" width="5" height="5" fill="#fff" fill-opacity="0.6" stroke="#e4a65c" stroke-width="0.85"/>
<rect x="166.83" y="135.53" width="5" height="5" fill="#fff" fill-opacity="0.6" stroke="#e4a65c" stroke-width="0.85"/>
<rect x="168.17" y="135.76" width="5" height="5" fill="#fff" fill-opacity="0.6" stroke="#e4a65c" stroke-width="0.85"/>
<rect x="169.5" y="136.38" width="5" height="5" fill="#fff" fill-opacity="0.6" stroke="#e4a65c" stroke-width="0.85"/>
<rect x="170.83" y="136.14" width="5" height="5" fill="#fff" fill-opacity="0.6" stroke="#e4a65c" stroke-width="0.85"/>
<rect x="172.17" y="136.05" width="5" height="5" fill="#fff" fill-opacity="0.6" stroke="#e4a65c" stroke-width="0.85"/>
<rect x="173.5" y="136.44" width="5" height="5" fill="#fff" fill-opacity="0.6" stroke="#e4a65c" stroke-width="0.85"/>
<rect x="174.83" y="136.33" width="5" height="5" fill="#fff" fill-opacity="0.6" stroke="#e4a65c" stroke-width="0.85"/>
<rect x="176.17" y="136.2" width="5" height="5" fill="#fff" fill-opacity="0.6" stroke="#e4a65c" stroke-width="0.85"/>
<rect x="177.5" y="136.85" width="5" height="5" fill="#fff" fill-opacity="0.6" stroke="#e4a65c" stroke-width="0.85"/>
<rect x="178.73" y="137.36" width="5" height="5" fill="#fff" fill-opacity="0.6" stroke="#e4a65c" stroke-width="0.85"/>
<rect x="179.95" y="137.43" width="5" height="5" fill="#fff" fill-opacity="0.6" stroke="#e4a65c" stroke-width="0.85"/>
<rect x="181.18" y="138.44" width="5" height="5" fill="#fff" fill-opacity="0.6" stroke="#e4a65c" stroke-width="0.85"/>
<rect x="182.41" y="139" width="5" height="5" fill="#fff" fill-opacity="0.6" stroke="#e4a65c" stroke-width="0.85"/>
<rect x="183.64" y="140.04" width="5" height="5" fill="#fff" fill-opacity="0.6" stroke="#e4a65c" stroke-width="0.85"/>
<rect x="184.86" y="140.48" width="5" height="5" fill="#fff" fill-opacity="0.6" stroke="#e4a65c" stroke-width="0.85"/>
<rect x="186.09" y="140.57" width="5" height="5" fill="#fff" fill-opacity="0.6" stroke="#e4a65c" stroke-width="0.85"/>
<rect x="187.32" y="142.02" width="5" height="5" fill="#fff" fill-opacity="0.6" stroke="#e4a65c" stroke-width="0.85"/>
<rect x="188.55" y="141.61" width="5" height="5" fill="#fff" fill-opacity="0.6" stroke="#e4a65c" stroke-width="0.85"/>
<rect x="189.77" y="142.58" width="5" height="5" fill="#fff" fill-opacity="0.6" stroke="#e4a65c" stroke-width="0.85"/>
<rect x="191" y="143.61" width="5" height="5" fill="#fff" fill-opacity="0.6" stroke="#e4a65c" stroke-width="0.85"/>
<rect x="192.26" y="143.3" width="5" height="5" fill="#fff" fill-opacity="0.6" stroke="#e4a65c" stroke-width="0.85"/>
<rect x="193.52" y="144.11" width="5" height="5" fill="#fff" fill-opacity="0.6" stroke="#e4a65c" stroke-width="0.85"/>
<rect x="194.78" y="143.99" width="5" height="5" fill="#fff" fill-opacity="0.6" stroke="#e4a65c" stroke-width="0.85"/>
<rect x="196.04" y="145.16" width="5" height="5" fill="#fff" fill-opacity="0.6" stroke="#e4a65c" stroke-width="0.85"/>
<rect x="197.3" y="145.68" width="5" height="5" fill="#fff" fill-opacity="0.6" stroke="#e4a65c" stroke-width="0.85"/>
<rect x="198.56" y="145.87" width="5" height="5" fill="#fff" fill-opacity="0.6" stroke="#e4a65c" stroke-width="0.85"/>
<rect x="199.82" y="146.64" width="5" height="5" fill="#fff" fill-opacity="0.6" stroke="#e4a65c" stroke-width="0.85"/>
<rect x="201.08" y="146.38" width="5" height="5" fill="#fff" fill-opacity="0.6" stroke="#e4a65c" stroke-width="0.85"/>
<rect x="202.34" y="147.25" width="5" height="5" fill="#fff" fill-opacity="0.6" stroke="#e4a65c" stroke-width="0.85"/>
<rect x="203.6" y="147.55" width="5" height="5" fill="#fff" fill-opacity="0.6" stroke="#e4a65c" stroke-width="0.85"/>
<rect x="204.86" y="147.94" width="5" height="5" fill="#fff" fill-opacity="0.6" stroke="#e4a65c" stroke-width="0.85"/>
<rect x="206.12" y="148.21" width="5" height="5" fill="#fff" fill-opacity="0.6" stroke="#e4a65c" stroke-width="0.85"/>
<rect x="207.38" y="149.08" width="5" height="5" fill="#fff" fill-opacity="0.6" stroke="#e4a65c" stroke-width="0.85"/>
<rect x="208.64" y="149.62" width="5" height="5" fill="#fff" fill-opacity="0.6" stroke="#e4a65c" stroke-width="0.85"/>
<rect x="209.9" y="149.47" width="5" height="5" fill="#fff" fill-opacity="0.6" stroke="#e4a65c" stroke-width="0.85"/>
<rect x="211.09" y="150.23" width="5" height="5" fill="#fff" fill-opacity="0.6" stroke="#e4a65c" stroke-width="0.85"/>
<rect x="212.28" y="150.05" width="5" height="5" fill="#fff" fill-opacity="0.6" stroke="#e4a65c" stroke-width="0.85"/>
<rect x="213.46" y="151.35" width="5" height="5" fill="#fff" fill-opacity="0.6" stroke="#e4a65c" stroke-width="0.85"/>
<rect x="214.65" y="151.83" width="5" height="5" fill="#fff" fill-opacity="0.6" stroke="#e4a65c" stroke-width="0.85"/>
<rect x="215.84" y="152.78" width="5" height="5" fill="#fff" fill-opacity="0.6" stroke="#e4a65c" stroke-width="0.85"/>
<rect x="217.03" y="153.11" width="5" height="5" fill="#fff" fill-opacity="0.6" stroke="#e4a65c" stroke-width="0.85"/>
<rect x="218.21" y="153" width="5" height="5" fill="#fff" fill-opacity="0.6" stroke="#e4a65c" stroke-width="0.85"/>
<rect x="219.4" y="153.66" width="5" height="5" fill="#fff" fill-opacity="0.6" stroke="#e4a65c" stroke-width="0.85"/>
<rect x="220.59" y="154.54" width="5" height="5" fill="#fff" fill-opacity="0.6" stroke="#e4a65c" stroke-width="0.85"/>
<rect x="221.78" y="154.3" width="5" height="5" fill="#fff" fill-opacity="0.6" stroke="#e4a65c" stroke-width="0.85"/>
<rect x="222.96" y="155.37" width="5" height="5" fill="#fff" fill-opacity="0.6" stroke="#e4a65c" stroke-width="0.85"/>
<rect x="224.15" y="155.55" width="5" height="5" fill="#fff" fill-opacity="0.6" stroke="#e4a65c" stroke-width="0.85"/>
<rect x="225.34" y="156.03" width="5" height="5" fill="#fff" fill-opacity="0.6" stroke="#e4a65c" stroke-width="0.85"/>
<rect x="226.53" y="156.5" width="5" height="5" fill="#fff" fill-opacity="0.6" stroke="#e4a65c" stroke-width="0.85"/>
<rect x="227.71" y="157.88" width="5" height="5" fill="#fff" fill-opacity="0.6" stroke="#e4a65c" stroke-width="0.85"/>
<rect x="228.9" y="157.66" width="5" height="5" fill="#fff" fill-opacity="0.6" stroke="#e4a65c" stroke-width="0.85"/>
<rect x="230.02" y="158.47" width="5" height="5" fill="#fff" fill-opacity="0.6" stroke="#e4a65c" stroke-width="0.85"/>
<rect x="231.14" y="159.31" width="5" height="5" fill="#fff" fill-opacity="0.6" stroke="#e4a65c" stroke-width="0.85"/>
<rect x="232.25" y="160.56" width="5" height="5" fill="#fff" fill-opacity="0.6" stroke="#e4a65c" stroke-width="0.85"/>
<rect x="233.37" y="160.28" width="5" height="5" fill="#fff" fill-opacity="0.6" stroke="#e4a65c" stroke-width="0.85"/>
<rect x="234.49" y="161.39" width="5" height="5" fill="#fff" fill-opacity="0.6" stroke="#e4a65c" stroke-width="0.85"/>
<rect x="235.61" y="162.18" width="5" height="5" fill="#fff" fill-opacity="0.6" stroke="#e4a65c" stroke-width="0.85"/>
<rect x="236.72" y="163.25" width="5" height="5" fill="#fff" fill-opacity="0.6" stroke="#e4a65c" stroke-width="0.85"/>
<rect x="237.84" y="163.85" width="5" height="5" fill="#fff" fill-opacity="0.6" stroke="#e4a65c" stroke-width="0.85"/>
<rect x="238.96" y="164.57" width="5" height="5" fill="#fff" fill-opacity="0.6" stroke="#e4a65c" stroke-width="0.85"/>
<rect x="240.08" y="164.54" width="5" height="5" fill="#fff" fill-opacity="0.6" stroke="#e4a65c" stroke-width="0.85"/>
<rect x="241.19" y="165.37" width="5" height="5" fill="#fff" fill-opacity="0.6" stroke="#e4a65c" stroke-width="0.85"/>
<rect x="242.31" y="165.98" width="5" height="5" fill="#fff" fill-opacity="0.6" stroke="#e4a65c" stroke-width="0.85"/>
<rect x="243.43" y="167.28" width="5" height="5" fill="#fff" fill-opacity="0.6" stroke="#e4a65c" stroke-width="0.85"/>
<rect x="244.55" y="168.04" width="5" height="5" fill="#fff" fill-opacity="0.6" stroke="#e4a65c" stroke-width="0.85"/>
<rect x="245.66" y="167.74" width="5" height="5" fill="#fff" fill-opacity="0.6" stroke="#e4a65c" stroke-width="0.85"/>
<rect x="246.78" y="168.44" width="5" height="5" fill="#fff" fill-opacity="0.6" stroke="#e4a65c" stroke-width="0.85"/>
<rect x="247.9" y="169.18" width="5" height="5" fill="#fff" fill-opacity="0.6" stroke="#e4a65c" stroke-width="0.85"/>
<rect x="249.02" y="169.96" width="5" height="5" fill="#fff" fill-opacity="0.6" stroke="#e4a65c" stroke-width="0.85"/>
<rect x="250.14" y="171.03" width="5" height="5" fill="#fff" fill-opacity="0.6" stroke="#e4a65c" stroke-width="0.85"/>
<rect x="251.25" y="171.94" width="5" height="5" fill="#fff" fill-opacity="0.6" stroke="#e4a65c" stroke-width="0.85"/>
<rect x="252.37" y="172.32" width="5" height="5" fill="#fff" fill-opacity="0.6" stroke="#e4a65c" stroke-width="0.85"/>
<rect x="253.49" y="172.79" width="5" height="5" fill="#fff" fill-opacity="0.6" stroke="#e4a65c" stroke-width="0.85"/>
<rect x="254.61" y="174.06" width="5" height="5" fill="#fff" fill-opacity="0.6" stroke="#e4a65c" stroke-width="0.85"/>
<rect x="255.72" y="174.78" width="5" height="5" fill="#fff" fill-opacity="0.6" stroke="#e4a65c" stroke-width="0.85"/>
<rect x="256.84" y="175.79" width="5" height="5" fill="#fff" fill-opacity="0.6" stroke="#e4a65c" stroke-width="0.85"/>
<rect x="257.96" y="177.03" width="5" height="5" fill="#fff" fill-opacity="0.6" stroke="#e4a65c" stroke-width="0.85"/>
<rect x="259.08" y="177.49" width="5" height="5" fill="#fff" fill-opacity="0.6" stroke="#e4a65c" stroke-width="0.85"/>
<rect x="260.19" y="178.06" width="5" height="5" fill="#fff" fill-opacity="0.6" stroke="#e4a65c" stroke-width="0.85"/>
<rect x="261.31" y="178.96" width="5" height="5" fill="#fff" fill-opacity="0.6" stroke="#e4a65c" stroke-width="0.85"/>
<rect x="262.43" y="179.81" width="5" height="5" fill="#fff" fill-opacity="0.6" stroke="#e4a65c" stroke-width="0.85"/>
<rect x="263.55" y="179.84" width="5" height="5" fill="#fff" fill-opacity="0.6" stroke="#e4a65c" stroke-width="0.85"/>
<rect x="264.66" y="181.63" width="5" height="5" fill="#fff" fill-opacity="0.6" stroke="#e4a65c" stroke-width="0.85"/>
<rect x="265.78" y="182.26" width="5" height="5" fill="#fff" fill-opacity="0.6" stroke="#e4a65c" stroke-width="0.85"/>
<rect x="266.9" y="183.15" width="5" height="5" fill="#fff" fill-opacity="0.6" stroke="#e4a65c" stroke-width="0.85"/>
<rect x="267.84" y="184.01" width="5" height="5" fill="#fff" fill-opacity="0.6" stroke="#e4a65c" stroke-width="0.85"/>
<rect x="268.79" y="184.47" width="5" height="5" fill="#fff" fill-opacity="0.6" stroke="#e4a65c" stroke-width="0.85"/>
<rect x="269.73" y="185.43" width="5" height="5" fill="#fff" fill-opacity="0.6" stroke="#e4a65c" stroke-width="0.85"/>
<rect x="270.67" y="186.02" width="5" height="5" fill="#fff" fill-opacity="0.6" stroke="#e4a65c" stroke-width="0.85"/>
<rect x="271.61" y="187.61" width="5" height="5" fill="#fff" fill-opacity="0.6" stroke="#e4a65c" stroke-width="0.85"/>
<rect x="272.56" y="187.87" width="5" height="5" fill="#fff" fill-opacity="0.6" stroke="#e4a65c" stroke-width="0.85"/>
<rect x="273.5" y="188.83" width="5" height="5" fill="#fff" fill-opacity="0.6" stroke="#e4a65c" stroke-width="0.85"/>
<rect x="274.44" y="189.95" width="5" height="5" fill="#fff" fill-opacity="0.6" stroke="#e4a65c" stroke-width="0.85"/>
<rect x="275.39" y="190.84" width="5" height="5" fill="#fff" fill-opacity="0.6" stroke="#e4a65c" stroke-width="0.85"/>
<rect x="276.33" y="192.01" width="5" height="5" fill="#fff" fill-opacity="0.6" stroke="#e4a65c" stroke-width="0.85"/>
<rect x="277.27" y="192.61" width="5" height="5" fill="#fff" fill-opacity="0.6" stroke="#e4a65c" stroke-width="0.85"/>
<rect x="278.21" y="193.5" width="5" height="5" fill="#fff" fill-opacity="0.6" stroke="#e4a65c" stroke-width="0.85"/>
<rect x="279.16" y="194.63" width="5" height="5" fill="#fff" fill-opacity="0.6" stroke="#e4a65c" stroke-width="0.85"/>
<rect x="280.1" y="195.52" width="5" height="5" fill="#fff" fill-opacity="0.6" stroke="#e4a65c" stroke-width="0.85"/>
<rect x="281.05" y="196.77" width="5" height="5" fill="#fff" fill-opacity="0.6" stroke="#e4a65c" stroke-width="0.85"/>
<rect x="282" y="197.31" width="5" height="5" fill="#fff" fill-opacity="0.6" stroke="#e4a65c" stroke-width="0.85"/>
<rect x="282.95" y="199.26" width="5" height="5" fill="#fff" fill-opacity="0.6" stroke="#e4a65c" stroke-width="0.85"/>
<rect x="283.9" y="199.89" width="5" height="5" fill="#fff" fill-opacity="0.6" stroke="#e4a65c" stroke-width="0.85"/>
<rect x="284.85" y="200.27" width="5" height="5" fill="#fff" fill-opacity="0.6" stroke="#e4a65c" stroke-width="0.85"/>
<rect x="285.8" y="201.33" width="5" height="5" fill="#fff" fill-opacity="0.6" stroke="#e4a65c" stroke-width="0.85"/>
<rect x="286.75" y="202.38" width="5" height="5" fill="#fff" fill-opacity="0.6" stroke="#e4a65c" stroke-width="0.85"/>
<rect x="287.7" y="203.34" width="5" height="5" fill="#fff" fill-opacity="0.6" stroke="#e4a65c" stroke-width="0.85"/>
<circle cx="94.6" cy="74.37" r="2.5" fill="#fff" stroke="#2a5996" stroke-width="0.95"/>
<circle cx="94.78" cy="77.63" r="2.5" fill="#fff" stroke="#2a5996" stroke-width="0.95"/>
<circle cx="94.96" cy="80.54" r="2.5" fill="#fff" stroke="#2a5996" stroke-width="0.95"/>
<circle cx="95.14" cy="83.04" r="2.5" fill="#fff" stroke="#2a5996" stroke-width="0.95"/>
<circle cx="95.38" cy="85.81" r="2.5" fill="#fff" stroke="#2a5996" stroke-width="0.95"/>
<circle cx="95.65" cy="88.3" r="2.5" fill="#fff" stroke="#2a5996" stroke-width="0.95"/>
<circle cx="95.93" cy="91.03" r="2.5" fill="#fff" stroke="#2a5996" stroke-width="0.95"/>
<circle cx="96.2" cy="93.91" r="2.5" fill="#fff" stroke="#2a5996" stroke-width="0.95"/>
<circle cx="96.97" cy="96.73" r="2.5" fill="#fff" stroke="#2a5996" stroke-width="0.95"/>
<circle cx="97.73" cy="99.93" r="2.5" fill="#fff" stroke="#2a5996" stroke-width="0.95"/>
<circle cx="98.24" cy="101.44" r="2.5" fill="#fff" stroke="#2a5996" stroke-width="0.95"/>
<circle cx="98.5" cy="102.31" r="2.5" fill="#fff" stroke="#2a5996" stroke-width="0.95"/>
<circle cx="99.33" cy="102.34" r="2.5" fill="#fff" stroke="#2a5996" stroke-width="0.95"/>
<circle cx="100.17" cy="101.66" r="2.5" fill="#fff" stroke="#2a5996" stroke-width="0.95"/>
<circle cx="101" cy="99.45" r="2.5" fill="#fff" stroke="#2a5996" stroke-width="0.95"/>
<circle cx="101.25" cy="100.29" r="2.5" fill="#fff" stroke="#2a5996" stroke-width="0.95"/>
<circle cx="101.5" cy="97.12" r="2.5" fill="#fff" stroke="#2a5996" stroke-width="0.95"/>
<circle cx="101.75" cy="98.42" r="2.5" fill="#fff" stroke="#2a5996" stroke-width="0.95"/>
<circle cx="102" cy="99.51" r="2.5" fill="#fff" stroke="#2a5996" stroke-width="0.95"/>
<circle cx="102.25" cy="98.1" r="2.5" fill="#fff" stroke="#2a5996" stroke-width="0.95"/>
<circle cx="102.5" cy="96.46" r="2.5" fill="#fff" stroke="#2a5996" stroke-width="0.95"/>
<circle cx="102.75" cy="93.65" r="2.5" fill="#fff" stroke="#2a5996" stroke-width="0.95"/>
<circle cx="103" cy="93.21" r="2.5" fill="#fff" stroke="#2a5996" stroke-width="0.95"/>
<circle cx="103.25" cy="91.43" r="2.5" fill="#fff" stroke="#2a5996" stroke-width="0.95"/>
<circle cx="103.5" cy="93.2" r="2.5" fill="#fff" stroke="#2a5996" stroke-width="0.95"/>
<circle cx="103.72" cy="91.25" r="2.5" fill="#fff" stroke="#2a5996" stroke-width="0.95"/>
<circle cx="103.94" cy="91.45" r="2.5" fill="#fff" stroke="#2a5996" stroke-width="0.95"/>
<circle cx="104.17" cy="88.58" r="2.5" fill="#fff" stroke="#2a5996" stroke-width="0.95"/>
<circle cx="104.39" cy="87.23" r="2.5" fill="#fff" stroke="#2a5996" stroke-width="0.95"/>
<circle cx="104.61" cy="88.93" r="2.5" fill="#fff" stroke="#2a5996" stroke-width="0.95"/>
<circle cx="104.83" cy="88.8" r="2.5" fill="#fff" stroke="#2a5996" stroke-width="0.95"/>
<circle cx="105.06" cy="87.33" r="2.5" fill="#fff" stroke="#2a5996" stroke-width="0.95"/>
<circle cx="105.28" cy="86.24" r="2.5" fill="#fff" stroke="#2a5996" stroke-width="0.95"/>
<circle cx="105.5" cy="85.4" r="2.5" fill="#fff" stroke="#2a5996" stroke-width="0.95"/>
<circle cx="105.94" cy="84.14" r="2.5" fill="#fff" stroke="#2a5996" stroke-width="0.95"/>
<circle cx="106.38" cy="80.96" r="2.5" fill="#fff" stroke="#2a5996" stroke-width="0.95"/>
<circle cx="106.82" cy="81.32" r="2.5" fill="#fff" stroke="#2a5996" stroke-width="0.95"/>
<circle cx="107.26" cy="79.68" r="2.5" fill="#fff" stroke="#2a5996" stroke-width="0.95"/>
<circle cx="107.7" cy="77.33" r="2.5" fill="#fff" stroke="#2a5996" stroke-width="0.95"/>
<circle cx="108.26" cy="78.24" r="2.5" fill="#fff" stroke="#2a5996" stroke-width="0.95"/>
<circle cx="108.82" cy="80.27" r="2.5" fill="#fff" stroke="#2a5996" stroke-width="0.95"/>
<circle cx="109.38" cy="81.1" r="2.5" fill="#fff" stroke="#2a5996" stroke-width="0.95"/>
<circle cx="109.94" cy="83.93" r="2.5" fill="#fff" stroke="#2a5996" stroke-width="0.95"/>
<circle cx="110.5" cy="86.01" r="2.5" fill="#fff" stroke="#2a5996" stroke-width="0.95"/>
<circle cx="110.86" cy="84.62" r="2.5" fill="#fff" stroke="#2a5996" stroke-width="0.95"/>
<circle cx="111.22" cy="87.62" r="2.5" fill="#fff" stroke="#2a5996" stroke-width="0.95"/>
<circle cx="111.59" cy="88.7" r="2.5" fill="#fff" stroke="#2a5996" stroke-width="0.95"/>
<circle cx="111.95" cy="89.4" r="2.5" fill="#fff" stroke="#2a5996" stroke-width="0.95"/>
<circle cx="112.31" cy="87.65" r="2.5" fill="#fff" stroke="#2a5996" stroke-width="0.95"/>
<circle cx="112.68" cy="87.87" r="2.5" fill="#fff" stroke="#2a5996" stroke-width="0.95"/>
<circle cx="113.04" cy="88.75" r="2.5" fill="#fff" stroke="#2a5996" stroke-width="0.95"/>
<circle cx="113.4" cy="89.47" r="2.5" fill="#fff" stroke="#2a5996" stroke-width="0.95"/>
<circle cx="113.84" cy="90.37" r="2.5" fill="#fff" stroke="#2a5996" stroke-width="0.95"/>
<circle cx="114.28" cy="93.09" r="2.5" fill="#fff" stroke="#2a5996" stroke-width="0.95"/>
<circle cx="114.72" cy="95.17" r="2.5" fill="#fff" stroke="#2a5996" stroke-width="0.95"/>
<circle cx="115.16" cy="95.78" r="2.5" fill="#fff" stroke="#2a5996" stroke-width="0.95"/>
<circle cx="115.6" cy="95.06" r="2.5" fill="#fff" stroke="#2a5996" stroke-width="0.95"/>
<circle cx="116.04" cy="96.69" r="2.5" fill="#fff" stroke="#2a5996" stroke-width="0.95"/>
<circle cx="116.48" cy="98.21" r="2.5" fill="#fff" stroke="#2a5996" stroke-width="0.95"/>
<circle cx="116.92" cy="95.93" r="2.5" fill="#fff" stroke="#2a5996" stroke-width="0.95"/>
<circle cx="117.36" cy="99.34" r="2.5" fill="#fff" stroke="#2a5996" stroke-width="0.95"/>
<circle cx="117.8" cy="101.3" r="2.5" fill="#fff" stroke="#2a5996" stroke-width="0.95"/>
<circle cx="118.6" cy="100.12" r="2.5" fill="#fff" stroke="#2a5996" stroke-width="0.95"/>
<circle cx="119.4" cy="99.35" r="2.5" fill="#fff" stroke="#2a5996" stroke-width="0.95"/>
<circle cx="120.2" cy="97.53" r="2.5" fill="#fff" stroke="#2a5996" stroke-width="0.95"/>
<circle cx="121" cy="95.59" r="2.5" fill="#fff" stroke="#2a5996" stroke-width="0.95"/>
<circle cx="121.76" cy="97.55" r="2.5" fill="#fff" stroke="#2a5996" stroke-width="0.95"/>
<circle cx="122.52" cy="94.82" r="2.5" fill="#fff" stroke="#2a5996" stroke-width="0.95"/>
<circle cx="123.28" cy="96.16" r="2.5" fill="#fff" stroke="#2a5996" stroke-width="0.95"/>
<circle cx="124.04" cy="96.2" r="2.5" fill="#fff" stroke="#2a5996" stroke-width="0.95"/>
<circle cx="124.8" cy="92.94" r="2.5" fill="#fff" stroke="#2a5996" stroke-width="0.95"/>
<circle cx="125.43" cy="93.65" r="2.5" fill="#fff" stroke="#2a5996" stroke-width="0.95"/>
<circle cx="126.06" cy="96.74" r="2.5" fill="#fff" stroke="#2a5996" stroke-width="0.95"/>
<circle cx="126.69" cy="96.45" r="2.5" fill="#fff" stroke="#2a5996" stroke-width="0.95"/>
<circle cx="127.31" cy="94.69" r="2.5" fill="#fff" stroke="#2a5996" stroke-width="0.95"/>
<circle cx="127.94" cy="95.19" r="2.5" fill="#fff" stroke="#2a5996" stroke-width="0.95"/>
<circle cx="128.57" cy="95.98" r="2.5" fill="#fff" stroke="#2a5996" stroke-width="0.95"/>
<circle cx="129.2" cy="99.98" r="2.5" fill="#fff" stroke="#2a5996" stroke-width="0.95"/>
<circle cx="129.94" cy="100.23" r="2.5" fill="#fff" stroke="#2a5996" stroke-width="0.95"/>
<circle cx="130.69" cy="98.01" r="2.5" fill="#fff" stroke="#2a5996" stroke-width="0.95"/>
<circle cx="131.43" cy="101.69" r="2.5" fill="#fff" stroke="#2a5996" stroke-width="0.95"/>
<circle cx="132.17" cy="103.06" r="2.5" fill="#fff" stroke="#2a5996" stroke-width="0.95"/>
<circle cx="132.91" cy="102.32" r="2.5" fill="#fff" stroke="#2a5996" stroke-width="0.95"/>
<circle cx="133.66" cy="101.66" r="2.5" fill="#fff" stroke="#2a5996" stroke-width="0.95"/>
<circle cx="134.4" cy="103.21" r="2.5" fill="#fff" stroke="#2a5996" stroke-width="0.95"/>
<circle cx="135.7" cy="101.18" r="2.5" fill="#fff" stroke="#2a5996" stroke-width="0.95"/>
<circle cx="137" cy="100.46" r="2.5" fill="#fff" stroke="#2a5996" stroke-width="0.95"/>
<circle cx="137.7" cy="104.05" r="2.5" fill="#fff" stroke="#2a5996" stroke-width="0.95"/>
<circle cx="138.4" cy="102.02" r="2.5" fill="#fff" stroke="#2a5996" stroke-width="0.95"/>
<circle cx="139.1" cy="100.86" r="2.5" fill="#fff" stroke="#2a5996" stroke-width="0.95"/>
<circle cx="139.8" cy="102.03" r="2.5" fill="#fff" stroke="#2a5996" stroke-width="0.95"/>
<circle cx="140.5" cy="99.21" r="2.5" fill="#fff" stroke="#2a5996" stroke-width="0.95"/>
<circle cx="141.38" cy="100.49" r="2.5" fill="#fff" stroke="#2a5996" stroke-width="0.95"/>
<circle cx="142.25" cy="99.64" r="2.5" fill="#fff" stroke="#2a5996" stroke-width="0.95"/>
<circle cx="143.12" cy="96.28" r="2.5" fill="#fff" stroke="#2a5996" stroke-width="0.95"/>
<circle cx="144" cy="95.81" r="2.5" fill="#fff" stroke="#2a5996" stroke-width="0.95"/>
<circle cx="144.8" cy="96.41" r="2.5" fill="#fff" stroke="#2a5996" stroke-width="0.95"/>
<circle cx="145.6" cy="96.6" r="2.5" fill="#fff" stroke="#2a5996" stroke-width="0.95"/>
<circle cx="146.4" cy="98.54" r="2.5" fill="#fff" stroke="#2a5996" stroke-width="0.95"/>
<circle cx="147.2" cy="97.52" r="2.5" fill="#fff" stroke="#2a5996" stroke-width="0.95"/>
<circle cx="148" cy="98.64" r="2.5" fill="#fff" stroke="#2a5996" stroke-width="0.95"/>
<circle cx="149" cy="97.38" r="2.5" fill="#fff" stroke="#2a5996" stroke-width="0.95"/>
<circle cx="150" cy="100.8" r="2.5" fill="#fff" stroke="#2a5996" stroke-width="0.95"/>
<circle cx="151" cy="98.36" r="2.5" fill="#fff" stroke="#2a5996" stroke-width="0.95"/>
<circle cx="152" cy="98.82" r="2.5" fill="#fff" stroke="#2a5996" stroke-width="0.95"/>
<circle cx="153" cy="98.87" r="2.5" fill="#fff" stroke="#2a5996" stroke-width="0.95"/>
<circle cx="154" cy="99.78" r="2.5" fill="#fff" stroke="#2a5996" stroke-width="0.95"/>
<circle cx="155" cy="97.15" r="2.5" fill="#fff" stroke="#2a5996" stroke-width="0.95"/>
<circle cx="156" cy="98.84" r="2.5" fill="#fff" stroke="#2a5996" stroke-width="0.95"/>
<circle cx="157" cy="97.14" r="2.5" fill="#fff" stroke="#2a5996" stroke-width="0.95"/>
<circle cx="158" cy="97.41" r="2.5" fill="#fff" stroke="#2a5996" stroke-width="0.95"/>
<circle cx="159" cy="97.5" r="2.5" fill="#fff" stroke="#2a5996" stroke-width="0.95"/>
<circle cx="159.6" cy="96" r="2.5" fill="#fff" stroke="#2a5996" stroke-width="0.95"/>
<circle cx="160.2" cy="98.58" r="2.5" fill="#fff" stroke="#2a5996" stroke-width="0.95"/>
<circle cx="160.8" cy="98.17" r="2.5" fill="#fff" stroke="#2a5996" stroke-width="0.95"/>
<circle cx="161.4" cy="98.1" r="2.5" fill="#fff" stroke="#2a5996" stroke-width="0.95"/>
<circle cx="162" cy="102.32" r="2.5" fill="#fff" stroke="#2a5996" stroke-width="0.95"/>
<circle cx="162.67" cy="100.22" r="2.5" fill="#fff" stroke="#2a5996" stroke-width="0.95"/>
<circle cx="163.33" cy="102.22" r="2.5" fill="#fff" stroke="#2a5996" stroke-width="0.95"/>
<circle cx="164" cy="103.99" r="2.5" fill="#fff" stroke="#2a5996" stroke-width="0.95"/>
<circle cx="164.67" cy="103.92" r="2.5" fill="#fff" stroke="#2a5996" stroke-width="0.95"/>
<circle cx="165.33" cy="103.57" r="2.5" fill="#fff" stroke="#2a5996" stroke-width="0.95"/>
<circle cx="166" cy="105.08" r="2.5" fill="#fff" stroke="#2a5996" stroke-width="0.95"/>
<circle cx="167" cy="105.74" r="2.5" fill="#fff" stroke="#2a5996" stroke-width="0.95"/>
<circle cx="168" cy="107.25" r="2.5" fill="#fff" stroke="#2a5996" stroke-width="0.95"/>
<circle cx="169" cy="104.77" r="2.5" fill="#fff" stroke="#2a5996" stroke-width="0.95"/>
<circle cx="170" cy="107.27" r="2.5" fill="#fff" stroke="#2a5996" stroke-width="0.95"/>
<circle cx="171" cy="106.06" r="2.5" fill="#fff" stroke="#2a5996" stroke-width="0.95"/>
<circle cx="172" cy="106.35" r="2.5" fill="#fff" stroke="#2a5996" stroke-width="0.95"/>
<circle cx="173" cy="108.7" r="2.5" fill="#fff" stroke="#2a5996" stroke-width="0.95"/>
<circle cx="174" cy="107.7" r="2.5" fill="#fff" stroke="#2a5996" stroke-width="0.95"/>
<circle cx="175" cy="108.1" r="2.5" fill="#fff" stroke="#2a5996" stroke-width="0.95"/>
<circle cx="176" cy="109.14" r="2.5" fill="#fff" stroke="#2a5996" stroke-width="0.95"/>
<circle cx="176.89" cy="110.07" r="2.5" fill="#fff" stroke="#2a5996" stroke-width="0.95"/>
<circle cx="177.78" cy="108.26" r="2.5" fill="#fff" stroke="#2a5996" stroke-width="0.95"/>
<circle cx="178.67" cy="109.26" r="2.5" fill="#fff" stroke="#2a5996" stroke-width="0.95"/>
<circle cx="179.56" cy="109.05" r="2.5" fill="#fff" stroke="#2a5996" stroke-width="0.95"/>
<circle cx="180.44" cy="109.33" r="2.5" fill="#fff" stroke="#2a5996" stroke-width="0.95"/>
<circle cx="181.33" cy="110.38" r="2.5" fill="#fff" stroke="#2a5996" stroke-width="0.95"/>
<circle cx="182.22" cy="109.58" r="2.5" fill="#fff" stroke="#2a5996" stroke-width="0.95"/>
<circle cx="183.11" cy="110.19" r="2.5" fill="#fff" stroke="#2a5996" stroke-width="0.95"/>
<circle cx="184" cy="110.2" r="2.5" fill="#fff" stroke="#2a5996" stroke-width="0.95"/>
<circle cx="184.9" cy="112.51" r="2.5" fill="#fff" stroke="#2a5996" stroke-width="0.95"/>
<circle cx="185.8" cy="111.72" r="2.5" fill="#fff" stroke="#2a5996" stroke-width="0.95"/>
<circle cx="186.7" cy="112.77" r="2.5" fill="#fff" stroke="#2a5996" stroke-width="0.95"/>
<circle cx="187.6" cy="113.33" r="2.5" fill="#fff" stroke="#2a5996" stroke-width="0.95"/>
<circle cx="188.5" cy="110.59" r="2.5" fill="#fff" stroke="#2a5996" stroke-width="0.95"/>
<circle cx="189.4" cy="112.18" r="2.5" fill="#fff" stroke="#2a5996" stroke-width="0.95"/>
<circle cx="190.3" cy="114.14" r="2.5" fill="#fff" stroke="#2a5996" stroke-width="0.95"/>
<circle cx="191.2" cy="113.96" r="2.5" fill="#fff" stroke="#2a5996" stroke-width="0.95"/>
<circle cx="192.1" cy="111.13" r="2.5" fill="#fff" stroke="#2a5996" stroke-width="0.95"/>
<circle cx="193" cy="111.34" r="2.5" fill="#fff" stroke="#2a5996" stroke-width="0.95"/>
<circle cx="193.91" cy="113.11" r="2.5" fill="#fff" stroke="#2a5996" stroke-width="0.95"/>
<circle cx="194.82" cy="111.85" r="2.5" fill="#fff" stroke="#2a5996" stroke-width="0.95"/>
<circle cx="195.73" cy="112.95" r="2.5" fill="#fff" stroke="#2a5996" stroke-width="0.95"/>
<circle cx="196.64" cy="112.58" r="2.5" fill="#fff" stroke="#2a5996" stroke-width="0.95"/>
<circle cx="197.55" cy="115.56" r="2.5" fill="#fff" stroke="#2a5996" stroke-width="0.95"/>
<circle cx="198.45" cy="116.43" r="2.5" fill="#fff" stroke="#2a5996" stroke-width="0.95"/>
<circle cx="199.36" cy="117.29" r="2.5" fill="#fff" stroke="#2a5996" stroke-width="0.95"/>
<circle cx="200.27" cy="114.39" r="2.5" fill="#fff" stroke="#2a5996" stroke-width="0.95"/>
<circle cx="201.18" cy="117.22" r="2.5" fill="#fff" stroke="#2a5996" stroke-width="0.95"/>
<circle cx="202.09" cy="117.34" r="2.5" fill="#fff" stroke="#2a5996" stroke-width="0.95"/>
<circle cx="203" cy="115.43" r="2.5" fill="#fff" stroke="#2a5996" stroke-width="0.95"/>
<circle cx="203.82" cy="119.09" r="2.5" fill="#fff" stroke="#2a5996" stroke-width="0.95"/>
<circle cx="204.64" cy="119.88" r="2.5" fill="#fff" stroke="#2a5996" stroke-width="0.95"/>
<circle cx="205.45" cy="116.99" r="2.5" fill="#fff" stroke="#2a5996" stroke-width="0.95"/>
<circle cx="206.27" cy="120.63" r="2.5" fill="#fff" stroke="#2a5996" stroke-width="0.95"/>
<circle cx="207.09" cy="118.6" r="2.5" fill="#fff" stroke="#2a5996" stroke-width="0.95"/>
<circle cx="207.91" cy="119.4" r="2.5" fill="#fff" stroke="#2a5996" stroke-width="0.95"/>
<circle cx="208.73" cy="122.02" r="2.5" fill="#fff" stroke="#2a5996" stroke-width="0.95"/>
<circle cx="209.55" cy="121.74" r="2.5" fill="#fff" stroke="#2a5996" stroke-width="0.95"/>
<circle cx="210.36" cy="119.19" r="2.5" fill="#fff" stroke="#2a5996" stroke-width="0.95"/>
<circle cx="211.18" cy="120.79" r="2.5" fill="#fff" stroke="#2a5996" stroke-width="0.95"/>
<circle cx="212" cy="121.57" r="2.5" fill="#fff" stroke="#2a5996" stroke-width="0.95"/>
<circle cx="212.83" cy="121.28" r="2.5" fill="#fff" stroke="#2a5996" stroke-width="0.95"/>
<circle cx="213.67" cy="121.14" r="2.5" fill="#fff" stroke="#2a5996" stroke-width="0.95"/>
<circle cx="214.5" cy="122.18" r="2.5" fill="#fff" stroke="#2a5996" stroke-width="0.95"/>
<circle cx="215.33" cy="124.44" r="2.5" fill="#fff" stroke="#2a5996" stroke-width="0.95"/>
<circle cx="216.17" cy="121.84" r="2.5" fill="#fff" stroke="#2a5996" stroke-width="0.95"/>
<circle cx="217" cy="124.69" r="2.5" fill="#fff" stroke="#2a5996" stroke-width="0.95"/>
<circle cx="217.83" cy="124.68" r="2.5" fill="#fff" stroke="#2a5996" stroke-width="0.95"/>
<circle cx="218.67" cy="123.31" r="2.5" fill="#fff" stroke="#2a5996" stroke-width="0.95"/>
<circle cx="219.5" cy="125.18" r="2.5" fill="#fff" stroke="#2a5996" stroke-width="0.95"/>
<circle cx="220.33" cy="126.96" r="2.5" fill="#fff" stroke="#2a5996" stroke-width="0.95"/>
<circle cx="221.17" cy="126.96" r="2.5" fill="#fff" stroke="#2a5996" stroke-width="0.95"/>
<circle cx="222" cy="125.48" r="2.5" fill="#fff" stroke="#2a5996" stroke-width="0.95"/>
<circle cx="222.75" cy="130.08" r="2.5" fill="#fff" stroke="#2a5996" stroke-width="0.95"/>
<circle cx="223.5" cy="129.77" r="2.5" fill="#fff" stroke="#2a5996" stroke-width="0.95"/>
<circle cx="224.25" cy="131.13" r="2.5" fill="#fff" stroke="#2a5996" stroke-width="0.95"/>
<circle cx="225" cy="127.86" r="2.5" fill="#fff" stroke="#2a5996" stroke-width="0.95"/>
<circle cx="225.75" cy="129.12" r="2.5" fill="#fff" stroke="#2a5996" stroke-width="0.95"/>
<circle cx="226.5" cy="128.67" r="2.5" fill="#fff" stroke="#2a5996" stroke-width="0.95"/>
<circle cx="227.25" cy="132.48" r="2.5" fill="#fff" stroke="#2a5996" stroke-width="0.95"/>
<circle cx="228" cy="130.79" r="2.5" fill="#fff" stroke="#2a5996" stroke-width="0.95"/>
<circle cx="228.75" cy="130.72" r="2.5" fill="#fff" stroke="#2a5996" stroke-width="0.95"/>
<circle cx="229.5" cy="132.56" r="2.5" fill="#fff" stroke="#2a5996" stroke-width="0.95"/>
<circle cx="230.25" cy="135.26" r="2.5" fill="#fff" stroke="#2a5996" stroke-width="0.95"/>
<circle cx="231" cy="135.4" r="2.5" fill="#fff" stroke="#2a5996" stroke-width="0.95"/>
<circle cx="231.77" cy="133.52" r="2.5" fill="#fff" stroke="#2a5996" stroke-width="0.95"/>
<circle cx="232.54" cy="133.63" r="2.5" fill="#fff" stroke="#2a5996" stroke-width="0.95"/>
<circle cx="233.31" cy="137.6" r="2.5" fill="#fff" stroke="#2a5996" stroke-width="0.95"/>
<circle cx="234.08" cy="136.65" r="2.5" fill="#fff" stroke="#2a5996" stroke-width="0.95"/>
<circle cx="234.85" cy="137.8" r="2.5" fill="#fff" stroke="#2a5996" stroke-width="0.95"/>
<circle cx="235.62" cy="135.7" r="2.5" fill="#fff" stroke="#2a5996" stroke-width="0.95"/>
<circle cx="236.38" cy="136.15" r="2.5" fill="#fff" stroke="#2a5996" stroke-width="0.95"/>
<circle cx="237.15" cy="139.51" r="2.5" fill="#fff" stroke="#2a5996" stroke-width="0.95"/>
<circle cx="237.92" cy="138.93" r="2.5" fill="#fff" stroke="#2a5996" stroke-width="0.95"/>
<circle cx="239.46" cy="138.55" r="2.5" fill="#fff" stroke="#2a5996" stroke-width="0.95"/>
<circle cx="241" cy="141.86" r="2.8" fill="#fff" stroke="#2a5996" stroke-width="0.95"/>
<circle cx="242.33" cy="142.91" r="2.8" fill="#fff" stroke="#2a5996" stroke-width="0.95"/>
<circle cx="243.67" cy="144.25" r="2.8" fill="#fff" stroke="#2a5996" stroke-width="0.95"/>
<circle cx="245" cy="145.05" r="2.8" fill="#fff" stroke="#2a5996" stroke-width="0.95"/>
<circle cx="247" cy="147.36" r="2.8" fill="#fff" stroke="#2a5996" stroke-width="0.95"/>
<circle cx="249" cy="148.74" r="2.8" fill="#fff" stroke="#2a5996" stroke-width="0.95"/>
<circle cx="250.91" cy="151.34" r="2.8" fill="#fff" stroke="#2a5996" stroke-width="0.95"/>
<circle cx="252.82" cy="153.23" r="2.8" fill="#fff" stroke="#2a5996" stroke-width="0.95"/>
<circle cx="254.73" cy="155.29" r="2.8" fill="#fff" stroke="#2a5996" stroke-width="0.95"/>
<circle cx="256.55" cy="157.58" r="2.8" fill="#fff" stroke="#2a5996" stroke-width="0.95"/>
<circle cx="258.73" cy="160.78" r="2.8" fill="#fff" stroke="#2a5996" stroke-width="0.95"/>
<circle cx="260.91" cy="163.37" r="2.8" fill="#fff" stroke="#2a5996" stroke-width="0.95"/>
<circle cx="263" cy="166.4" r="2.8" fill="#fff" stroke="#2a5996" stroke-width="0.95"/>
<circle cx="265" cy="169.87" r="2.8" fill="#fff" stroke="#2a5996" stroke-width="0.95"/>
<circle cx="267" cy="172.93" r="2.8" fill="#fff" stroke="#2a5996" stroke-width="0.95"/>
<circle cx="269.81" cy="176.56" r="2.8" fill="#fff" stroke="#2a5996" stroke-width="0.95"/>
<circle cx="272.69" cy="180.2" r="2.8" fill="#fff" stroke="#2a5996" stroke-width="0.95"/>
<circle cx="275.63" cy="183.67" r="2.8" fill="#fff" stroke="#2a5996" stroke-width="0.95"/>
<circle cx="279.43" cy="187.61" r="2.8" fill="#fff" stroke="#2a5996" stroke-width="0.95"/>
<circle cx="284.5" cy="188.89" r="2.8" fill="#fff" stroke="#2a5996" stroke-width="0.95"/>
<circle cx="288.56" cy="184.48" r="2.8" fill="#fff" stroke="#2a5996" stroke-width="0.95"/>
<text x="5.5" y="11.8" font-size="13.5" fill="#111" font-weight="bold">a</text>
<text x="43.2" y="21.4" font-size="15.2" fill="#1a1a1a" text-anchor="end">100</text>
<text x="40.7" y="107.1" font-size="15.2" fill="#1a1a1a" text-anchor="end">10</text>
<text x="38.8" y="194" font-size="15.2" fill="#1a1a1a" text-anchor="end">1</text>
<text x="41" y="228.5" font-size="15.4" fill="#1a1a1a">1×10<tspan font-size="10" dy="-6">14</tspan></text>
<text x="150.2" y="228.5" font-size="15.4" fill="#1a1a1a">1×10<tspan font-size="10" dy="-6">15</tspan></text>
<text x="251.5" y="228.5" font-size="15.4" fill="#1a1a1a">1×10<tspan font-size="10" dy="-6">16</tspan></text>
<text x="70" y="245.2" font-size="16.2" fill="#1a1a1a">Minority carrier density (cm<tspan font-size="10" dy="-6.5">-3</tspan><tspan dy="6.5">)</tspan></text>
<text x="15.3" y="110" font-size="15.5" fill="#1a1a1a" text-anchor="middle" transform="rotate(-90 15.3 110)"><tspan font-style="italic">τ</tspan><tspan font-size="9.5" dy="3" font-style="italic">eff</tspan><tspan dy="-3"> (ms)</tspan></text>
<text x="186.8" y="89.3" font-size="11.5" fill="#2a5996">8.90 ms</text>
<line x1="174.5" y1="104.6" x2="186" y2="94.8" stroke="#2a5996" stroke-width="0.9"/>
<path d="M188.6,92.6 L183.3,94.6 L185.9,97.6 Z" fill="#2a5996"/>
<text x="133" y="165.7" font-size="11.5" fill="#d99035">2.96 ms</text>
<line x1="174.5" y1="142" x2="163.2" y2="154.5" stroke="#d99035" stroke-width="0.9"/>
<path d="M160.9,157 L162,151.7 L165,154.4 Z" fill="#d99035"/>
<text x="177.3" y="200" font-size="11.4" fill="#1a1a1a">TOPCon</text>
<circle cx="59.5" cy="186" r="3" fill="#fff" stroke="#2a5996" stroke-width="0.9"/>
<text x="66.6" y="189.5" font-size="11.55" fill="#1a1a1a">passivating pinhole</text>
<rect x="56.7" y="199.6" width="5.6" height="5.6" fill="#fff" stroke="#d99035" stroke-width="0.9"/>
<text x="66.6" y="205.8" font-size="11.55" fill="#1a1a1a">control</text>
<line x1="423.65" y1="212.3" x2="423.65" y2="209.3" stroke="#262626" stroke-width="1"/>
<line x1="464.8" y1="212.3" x2="464.8" y2="207.3" stroke="#262626" stroke-width="1"/>
<line x1="505.95" y1="212.3" x2="505.95" y2="209.3" stroke="#262626" stroke-width="1"/>
<line x1="547.1" y1="212.3" x2="547.1" y2="207.3" stroke="#262626" stroke-width="1"/>
<line x1="588.25" y1="212.3" x2="588.25" y2="209.3" stroke="#262626" stroke-width="1"/>
<line x1="382.5" y1="187.5" x2="385.5" y2="187.5" stroke="#262626" stroke-width="1"/>
<line x1="382.5" y1="162.7" x2="387.5" y2="162.7" stroke="#262626" stroke-width="1"/>
<line x1="382.5" y1="137.9" x2="385.5" y2="137.9" stroke="#262626" stroke-width="1"/>
<line x1="382.5" y1="113.1" x2="387.5" y2="113.1" stroke="#262626" stroke-width="1"/>
<line x1="382.5" y1="88.3" x2="385.5" y2="88.3" stroke="#262626" stroke-width="1"/>
<line x1="382.5" y1="63.5" x2="387.5" y2="63.5" stroke="#262626" stroke-width="1"/>
<line x1="382.5" y1="38.7" x2="385.5" y2="38.7" stroke="#262626" stroke-width="1"/>
<rect x="382.5" y="13.9" width="245" height="198.4" fill="none" stroke="#262626" stroke-width="1.3"/>
<circle cx="383.31" cy="210.08" r="2.9" fill="#fff" stroke="#32609e" stroke-width="0.95"/>
<circle cx="383.26" cy="207.01" r="2.9" fill="#fff" stroke="#32609e" stroke-width="0.95"/>
<circle cx="383.33" cy="203.74" r="2.9" fill="#fff" stroke="#32609e" stroke-width="0.95"/>
<circle cx="383.57" cy="200.47" r="2.9" fill="#fff" stroke="#32609e" stroke-width="0.95"/>
<circle cx="384.51" cy="199.62" r="2.9" fill="#fff" stroke="#32609e" stroke-width="0.95"/>
<circle cx="384.24" cy="196.09" r="2.9" fill="#fff" stroke="#32609e" stroke-width="0.95"/>
<circle cx="385.57" cy="191.27" r="2.9" fill="#fff" stroke="#32609e" stroke-width="0.95"/>
<circle cx="385.87" cy="189.5" r="2.9" fill="#fff" stroke="#32609e" stroke-width="0.95"/>
<circle cx="386.01" cy="188.07" r="2.9" fill="#fff" stroke="#32609e" stroke-width="0.95"/>
<circle cx="386.17" cy="185.03" r="2.9" fill="#fff" stroke="#32609e" stroke-width="0.95"/>
<circle cx="386.67" cy="186.32" r="2.9" fill="#fff" stroke="#32609e" stroke-width="0.95"/>
<circle cx="386.39" cy="184.86" r="2.9" fill="#fff" stroke="#32609e" stroke-width="0.95"/>
<circle cx="386.97" cy="183.2" r="2.9" fill="#fff" stroke="#32609e" stroke-width="0.95"/>
<circle cx="386.75" cy="181.13" r="2.9" fill="#fff" stroke="#32609e" stroke-width="0.95"/>
<circle cx="386.47" cy="179.37" r="2.9" fill="#fff" stroke="#32609e" stroke-width="0.95"/>
<circle cx="386.67" cy="181.18" r="2.9" fill="#fff" stroke="#32609e" stroke-width="0.95"/>
<circle cx="387.08" cy="177.77" r="2.9" fill="#fff" stroke="#32609e" stroke-width="0.95"/>
<circle cx="387.06" cy="179.88" r="2.9" fill="#fff" stroke="#32609e" stroke-width="0.95"/>
<circle cx="388.19" cy="178.25" r="2.9" fill="#fff" stroke="#32609e" stroke-width="0.95"/>
<circle cx="387.68" cy="175.49" r="2.9" fill="#fff" stroke="#32609e" stroke-width="0.95"/>
<circle cx="387.88" cy="175.57" r="2.9" fill="#fff" stroke="#32609e" stroke-width="0.95"/>
<circle cx="387.9" cy="174.64" r="2.9" fill="#fff" stroke="#32609e" stroke-width="0.95"/>
<circle cx="388.22" cy="176.03" r="2.9" fill="#fff" stroke="#32609e" stroke-width="0.95"/>
<circle cx="389.31" cy="173.35" r="2.9" fill="#fff" stroke="#32609e" stroke-width="0.95"/>
<circle cx="388.68" cy="174.33" r="2.9" fill="#fff" stroke="#32609e" stroke-width="0.95"/>
<circle cx="389" cy="170.8" r="2.9" fill="#fff" stroke="#32609e" stroke-width="0.95"/>
<circle cx="388.87" cy="170.05" r="2.9" fill="#fff" stroke="#32609e" stroke-width="0.95"/>
<circle cx="389.68" cy="169.73" r="2.9" fill="#fff" stroke="#32609e" stroke-width="0.95"/>
<circle cx="389.6" cy="168.88" r="2.9" fill="#fff" stroke="#32609e" stroke-width="0.95"/>
<circle cx="389.61" cy="166.96" r="2.9" fill="#fff" stroke="#32609e" stroke-width="0.95"/>
<circle cx="390.16" cy="166.68" r="2.9" fill="#fff" stroke="#32609e" stroke-width="0.95"/>
<circle cx="390.55" cy="164.15" r="2.9" fill="#fff" stroke="#32609e" stroke-width="0.95"/>
<circle cx="391.32" cy="164.2" r="2.9" fill="#fff" stroke="#32609e" stroke-width="0.95"/>
<circle cx="392.1" cy="164.63" r="2.9" fill="#fff" stroke="#32609e" stroke-width="0.95"/>
<circle cx="393.3" cy="165.44" r="2.9" fill="#fff" stroke="#32609e" stroke-width="0.95"/>
<circle cx="394.26" cy="166.67" r="2.9" fill="#fff" stroke="#32609e" stroke-width="0.95"/>
<circle cx="394.37" cy="164.98" r="2.9" fill="#fff" stroke="#32609e" stroke-width="0.95"/>
<circle cx="395.58" cy="164.96" r="2.9" fill="#fff" stroke="#32609e" stroke-width="0.95"/>
<circle cx="395.77" cy="167.88" r="2.9" fill="#fff" stroke="#32609e" stroke-width="0.95"/>
<circle cx="395.45" cy="169.48" r="2.9" fill="#fff" stroke="#32609e" stroke-width="0.95"/>
<circle cx="396.97" cy="169.31" r="2.9" fill="#fff" stroke="#32609e" stroke-width="0.95"/>
<circle cx="397.28" cy="170.87" r="2.9" fill="#fff" stroke="#32609e" stroke-width="0.95"/>
<circle cx="397.07" cy="170.35" r="2.9" fill="#fff" stroke="#32609e" stroke-width="0.95"/>
<circle cx="398.01" cy="172.47" r="2.9" fill="#fff" stroke="#32609e" stroke-width="0.95"/>
<circle cx="399.2" cy="172.77" r="2.9" fill="#fff" stroke="#32609e" stroke-width="0.95"/>
<circle cx="399.77" cy="173.4" r="2.9" fill="#fff" stroke="#32609e" stroke-width="0.95"/>
<circle cx="400.72" cy="172.85" r="2.9" fill="#fff" stroke="#32609e" stroke-width="0.95"/>
<circle cx="400.8" cy="169.31" r="2.9" fill="#fff" stroke="#32609e" stroke-width="0.95"/>
<circle cx="401.31" cy="170.14" r="2.9" fill="#fff" stroke="#32609e" stroke-width="0.95"/>
<circle cx="401.9" cy="171.6" r="2.9" fill="#fff" stroke="#32609e" stroke-width="0.95"/>
<circle cx="403.07" cy="170.06" r="2.9" fill="#fff" stroke="#32609e" stroke-width="0.95"/>
<circle cx="403.65" cy="169.49" r="2.9" fill="#fff" stroke="#32609e" stroke-width="0.95"/>
<circle cx="403.99" cy="165.71" r="2.9" fill="#fff" stroke="#32609e" stroke-width="0.95"/>
<circle cx="404.86" cy="168.19" r="2.9" fill="#fff" stroke="#32609e" stroke-width="0.95"/>
<circle cx="405.5" cy="165.55" r="2.9" fill="#fff" stroke="#32609e" stroke-width="0.95"/>
<circle cx="406.94" cy="163.64" r="2.9" fill="#fff" stroke="#32609e" stroke-width="0.95"/>
<circle cx="408.28" cy="162.65" r="2.9" fill="#fff" stroke="#32609e" stroke-width="0.95"/>
<circle cx="409.09" cy="162.07" r="2.9" fill="#fff" stroke="#32609e" stroke-width="0.95"/>
<circle cx="411.48" cy="161.39" r="2.9" fill="#fff" stroke="#32609e" stroke-width="0.95"/>
<circle cx="413.09" cy="161.87" r="2.9" fill="#fff" stroke="#32609e" stroke-width="0.95"/>
<circle cx="414.39" cy="160.44" r="2.9" fill="#fff" stroke="#32609e" stroke-width="0.95"/>
<circle cx="415.97" cy="160.26" r="2.9" fill="#fff" stroke="#32609e" stroke-width="0.95"/>
<circle cx="417.92" cy="159.56" r="2.9" fill="#fff" stroke="#32609e" stroke-width="0.95"/>
<circle cx="419.37" cy="158.21" r="2.9" fill="#fff" stroke="#32609e" stroke-width="0.95"/>
<circle cx="420.35" cy="157.81" r="2.9" fill="#fff" stroke="#32609e" stroke-width="0.95"/>
<circle cx="422.6" cy="157.19" r="2.9" fill="#fff" stroke="#32609e" stroke-width="0.95"/>
<circle cx="423.93" cy="156.09" r="2.9" fill="#fff" stroke="#32609e" stroke-width="0.95"/>
<circle cx="424.86" cy="155.75" r="2.9" fill="#fff" stroke="#32609e" stroke-width="0.95"/>
<circle cx="427.13" cy="155.65" r="2.9" fill="#fff" stroke="#32609e" stroke-width="0.95"/>
<circle cx="428.67" cy="154.4" r="2.9" fill="#fff" stroke="#32609e" stroke-width="0.95"/>
<circle cx="430.02" cy="153.95" r="2.9" fill="#fff" stroke="#32609e" stroke-width="0.95"/>
<circle cx="431.5" cy="152.85" r="2.9" fill="#fff" stroke="#32609e" stroke-width="0.95"/>
<circle cx="433.55" cy="152.35" r="2.9" fill="#fff" stroke="#32609e" stroke-width="0.95"/>
<circle cx="435.19" cy="152.76" r="2.9" fill="#fff" stroke="#32609e" stroke-width="0.95"/>
<circle cx="435.57" cy="151.48" r="2.9" fill="#fff" stroke="#32609e" stroke-width="0.95"/>
<circle cx="438.08" cy="151.58" r="2.9" fill="#fff" stroke="#32609e" stroke-width="0.95"/>
<circle cx="439.17" cy="149.98" r="2.9" fill="#fff" stroke="#32609e" stroke-width="0.95"/>
<circle cx="440.42" cy="150.32" r="2.9" fill="#fff" stroke="#32609e" stroke-width="0.95"/>
<circle cx="441.96" cy="149.19" r="2.9" fill="#fff" stroke="#32609e" stroke-width="0.95"/>
<circle cx="443.42" cy="148.5" r="2.9" fill="#fff" stroke="#32609e" stroke-width="0.95"/>
<circle cx="445.93" cy="147.33" r="2.9" fill="#fff" stroke="#32609e" stroke-width="0.95"/>
<circle cx="447.31" cy="147.24" r="2.9" fill="#fff" stroke="#32609e" stroke-width="0.95"/>
<circle cx="448.93" cy="146.9" r="2.9" fill="#fff" stroke="#32609e" stroke-width="0.95"/>
<circle cx="451.22" cy="145.79" r="2.9" fill="#fff" stroke="#32609e" stroke-width="0.95"/>
<circle cx="454.6" cy="143.03" r="2.9" fill="#fff" stroke="#32609e" stroke-width="0.95"/>
<circle cx="457.1" cy="142.14" r="2.9" fill="#fff" stroke="#32609e" stroke-width="0.95"/>
<circle cx="460.71" cy="140.42" r="2.9" fill="#fff" stroke="#32609e" stroke-width="0.95"/>
<circle cx="463.42" cy="139.24" r="2.9" fill="#fff" stroke="#32609e" stroke-width="0.95"/>
<circle cx="466.7" cy="138.71" r="2.9" fill="#fff" stroke="#32609e" stroke-width="0.95"/>
<circle cx="469.4" cy="137.35" r="2.9" fill="#fff" stroke="#32609e" stroke-width="0.95"/>
<circle cx="473.48" cy="134.93" r="2.9" fill="#fff" stroke="#32609e" stroke-width="0.95"/>
<circle cx="476.67" cy="134.22" r="2.9" fill="#fff" stroke="#32609e" stroke-width="0.95"/>
<circle cx="479.71" cy="132.09" r="2.9" fill="#fff" stroke="#32609e" stroke-width="0.95"/>
<circle cx="482.2" cy="130.91" r="2.9" fill="#fff" stroke="#32609e" stroke-width="0.95"/>
<circle cx="486.1" cy="129.92" r="2.9" fill="#fff" stroke="#32609e" stroke-width="0.95"/>
<circle cx="488.48" cy="128.44" r="2.9" fill="#fff" stroke="#32609e" stroke-width="0.95"/>
<circle cx="497" cy="124.5" r="2.9" fill="#fff" stroke="#32609e" stroke-width="0.95"/>
<circle cx="502.3" cy="121.5" r="2.9" fill="#fff" stroke="#32609e" stroke-width="0.95"/>
<circle cx="509" cy="118" r="2.9" fill="#fff" stroke="#32609e" stroke-width="0.95"/>
<circle cx="516.6" cy="114.6" r="2.9" fill="#fff" stroke="#32609e" stroke-width="0.95"/>
<circle cx="522.75" cy="112" r="2.9" fill="#fff" stroke="#32609e" stroke-width="0.95"/>
<circle cx="529" cy="109" r="2.9" fill="#fff" stroke="#32609e" stroke-width="0.95"/>
<circle cx="535.75" cy="105.25" r="2.9" fill="#fff" stroke="#32609e" stroke-width="0.95"/>
<circle cx="542.75" cy="101.25" r="2.9" fill="#fff" stroke="#32609e" stroke-width="0.95"/>
<circle cx="550.75" cy="96.75" r="2.9" fill="#fff" stroke="#32609e" stroke-width="0.95"/>
<circle cx="559.5" cy="91.5" r="2.9" fill="#fff" stroke="#32609e" stroke-width="0.95"/>
<circle cx="569.5" cy="85.5" r="2.9" fill="#fff" stroke="#32609e" stroke-width="0.95"/>
<circle cx="579.75" cy="78.25" r="2.9" fill="#fff" stroke="#32609e" stroke-width="0.95"/>
<circle cx="592" cy="69.75" r="2.9" fill="#fff" stroke="#32609e" stroke-width="0.95"/>
<circle cx="605.25" cy="59.25" r="2.9" fill="#fff" stroke="#32609e" stroke-width="0.95"/>
<circle cx="620.25" cy="45.75" r="2.9" fill="#fff" stroke="#32609e" stroke-width="0.95"/>
<rect x="380.25" y="52.8" width="5.8" height="5.8" fill="#fff" fill-opacity="0.6" stroke="#e09440" stroke-width="0.85"/>
<rect x="379.8" y="73.7" width="5.8" height="5.8" fill="#fff" fill-opacity="0.6" stroke="#e09440" stroke-width="0.85"/>
<rect x="379.9" y="78" width="5.8" height="5.8" fill="#fff" fill-opacity="0.6" stroke="#e09440" stroke-width="0.85"/>
<rect x="381.37" y="82.2" width="5.8" height="5.8" fill="#fff" fill-opacity="0.6" stroke="#e09440" stroke-width="0.85"/>
<rect x="380.27" y="86.5" width="5.8" height="5.8" fill="#fff" fill-opacity="0.6" stroke="#e09440" stroke-width="0.85"/>
<rect x="381.57" y="101.4" width="5.8" height="5.8" fill="#fff" fill-opacity="0.6" stroke="#e09440" stroke-width="0.85"/>
<rect x="380.2" y="113.1" width="5.8" height="5.8" fill="#fff" fill-opacity="0.6" stroke="#e09440" stroke-width="0.85"/>
<rect x="380.23" y="115.6" width="5.8" height="5.8" fill="#fff" fill-opacity="0.6" stroke="#e09440" stroke-width="0.85"/>
<rect x="380.72" y="120.5" width="5.8" height="5.8" fill="#fff" fill-opacity="0.6" stroke="#e09440" stroke-width="0.85"/>
<rect x="380.08" y="126.9" width="5.8" height="5.8" fill="#fff" fill-opacity="0.6" stroke="#e09440" stroke-width="0.85"/>
<rect x="380.45" y="133.3" width="5.8" height="5.8" fill="#fff" fill-opacity="0.6" stroke="#e09440" stroke-width="0.85"/>
<rect x="381.61" y="138.1" width="5.8" height="5.8" fill="#fff" fill-opacity="0.6" stroke="#e09440" stroke-width="0.85"/>
<rect x="381.47" y="145" width="5.8" height="5.8" fill="#fff" fill-opacity="0.6" stroke="#e09440" stroke-width="0.85"/>
<rect x="381.32" y="150.1" width="5.8" height="5.8" fill="#fff" fill-opacity="0.6" stroke="#e09440" stroke-width="0.85"/>
<rect x="380.96" y="155.1" width="5.8" height="5.8" fill="#fff" fill-opacity="0.6" stroke="#e09440" stroke-width="0.85"/>
<rect x="381.53" y="158.8" width="5.8" height="5.8" fill="#fff" fill-opacity="0.6" stroke="#e09440" stroke-width="0.85"/>
<rect x="381.58" y="163.1" width="5.8" height="5.8" fill="#fff" fill-opacity="0.6" stroke="#e09440" stroke-width="0.85"/>
<rect x="380.8" y="167.3" width="5.8" height="5.8" fill="#fff" fill-opacity="0.6" stroke="#e09440" stroke-width="0.85"/>
<rect x="381.14" y="172.1" width="5.8" height="5.8" fill="#fff" fill-opacity="0.6" stroke="#e09440" stroke-width="0.85"/>
<rect x="379.8" y="178.1" width="5.8" height="5.8" fill="#fff" fill-opacity="0.6" stroke="#e09440" stroke-width="0.85"/>
<rect x="381.16" y="182.1" width="5.8" height="5.8" fill="#fff" fill-opacity="0.6" stroke="#e09440" stroke-width="0.85"/>
<rect x="380.6" y="186.5" width="5.8" height="5.8" fill="#fff" fill-opacity="0.6" stroke="#e09440" stroke-width="0.85"/>
<rect x="381.21" y="192.1" width="5.8" height="5.8" fill="#fff" fill-opacity="0.6" stroke="#e09440" stroke-width="0.85"/>
<rect x="380.99" y="197.1" width="5.8" height="5.8" fill="#fff" fill-opacity="0.6" stroke="#e09440" stroke-width="0.85"/>
<rect x="380.27" y="203.1" width="5.8" height="5.8" fill="#fff" fill-opacity="0.6" stroke="#e09440" stroke-width="0.85"/>
<rect x="379.8" y="209.4" width="5.8" height="5.8" fill="#fff" fill-opacity="0.6" stroke="#e09440" stroke-width="0.85"/>
<rect x="381.6" y="163.38" width="5.8" height="5.8" fill="#fff" fill-opacity="0.6" stroke="#e09440" stroke-width="0.85"/>
<rect x="381.77" y="159.32" width="5.8" height="5.8" fill="#fff" fill-opacity="0.6" stroke="#e09440" stroke-width="0.85"/>
<rect x="381.93" y="158.68" width="5.8" height="5.8" fill="#fff" fill-opacity="0.6" stroke="#e09440" stroke-width="0.85"/>
<rect x="382.1" y="156.63" width="5.8" height="5.8" fill="#fff" fill-opacity="0.6" stroke="#e09440" stroke-width="0.85"/>
<rect x="382.27" y="154.83" width="5.8" height="5.8" fill="#fff" fill-opacity="0.6" stroke="#e09440" stroke-width="0.85"/>
<rect x="382.43" y="154.48" width="5.8" height="5.8" fill="#fff" fill-opacity="0.6" stroke="#e09440" stroke-width="0.85"/>
<rect x="382.6" y="153.53" width="5.8" height="5.8" fill="#fff" fill-opacity="0.6" stroke="#e09440" stroke-width="0.85"/>
<rect x="382.77" y="149.71" width="5.8" height="5.8" fill="#fff" fill-opacity="0.6" stroke="#e09440" stroke-width="0.85"/>
<rect x="382.93" y="149.23" width="5.8" height="5.8" fill="#fff" fill-opacity="0.6" stroke="#e09440" stroke-width="0.85"/>
<rect x="383.1" y="146.5" width="5.8" height="5.8" fill="#fff" fill-opacity="0.6" stroke="#e09440" stroke-width="0.85"/>
<rect x="383.48" y="145.65" width="5.8" height="5.8" fill="#fff" fill-opacity="0.6" stroke="#e09440" stroke-width="0.85"/>
<rect x="383.85" y="143.53" width="5.8" height="5.8" fill="#fff" fill-opacity="0.6" stroke="#e09440" stroke-width="0.85"/>
<rect x="384.23" y="141.23" width="5.8" height="5.8" fill="#fff" fill-opacity="0.6" stroke="#e09440" stroke-width="0.85"/>
<rect x="384.6" y="139.58" width="5.8" height="5.8" fill="#fff" fill-opacity="0.6" stroke="#e09440" stroke-width="0.85"/>
<rect x="385.6" y="141.12" width="5.8" height="5.8" fill="#fff" fill-opacity="0.6" stroke="#e09440" stroke-width="0.85"/>
<rect x="386.6" y="144.62" width="5.8" height="5.8" fill="#fff" fill-opacity="0.6" stroke="#e09440" stroke-width="0.85"/>
<rect x="387.31" y="144.95" width="5.8" height="5.8" fill="#fff" fill-opacity="0.6" stroke="#e09440" stroke-width="0.85"/>
<rect x="387.74" y="145.83" width="5.8" height="5.8" fill="#fff" fill-opacity="0.6" stroke="#e09440" stroke-width="0.85"/>
<rect x="388.17" y="149.6" width="5.8" height="5.8" fill="#fff" fill-opacity="0.6" stroke="#e09440" stroke-width="0.85"/>
<rect x="388.6" y="151.59" width="5.8" height="5.8" fill="#fff" fill-opacity="0.6" stroke="#e09440" stroke-width="0.85"/>
<rect x="389.27" y="151.62" width="5.8" height="5.8" fill="#fff" fill-opacity="0.6" stroke="#e09440" stroke-width="0.85"/>
<rect x="389.93" y="152.35" width="5.8" height="5.8" fill="#fff" fill-opacity="0.6" stroke="#e09440" stroke-width="0.85"/>
<rect x="390.6" y="154.18" width="5.8" height="5.8" fill="#fff" fill-opacity="0.6" stroke="#e09440" stroke-width="0.85"/>
<rect x="391.1" y="152.27" width="5.8" height="5.8" fill="#fff" fill-opacity="0.6" stroke="#e09440" stroke-width="0.85"/>
<rect x="391.6" y="151.43" width="5.8" height="5.8" fill="#fff" fill-opacity="0.6" stroke="#e09440" stroke-width="0.85"/>
<rect x="392.1" y="149.07" width="5.8" height="5.8" fill="#fff" fill-opacity="0.6" stroke="#e09440" stroke-width="0.85"/>
<rect x="392.6" y="147.92" width="5.8" height="5.8" fill="#fff" fill-opacity="0.6" stroke="#e09440" stroke-width="0.85"/>
<rect x="393.1" y="146.38" width="5.8" height="5.8" fill="#fff" fill-opacity="0.6" stroke="#e09440" stroke-width="0.85"/>
<rect x="393.9" y="145.71" width="5.8" height="5.8" fill="#fff" fill-opacity="0.6" stroke="#e09440" stroke-width="0.85"/>
<rect x="394.7" y="145.06" width="5.8" height="5.8" fill="#fff" fill-opacity="0.6" stroke="#e09440" stroke-width="0.85"/>
<rect x="396.3" y="145.05" width="5.8" height="5.8" fill="#fff" fill-opacity="0.6" stroke="#e09440" stroke-width="0.85"/>
<rect x="397.5" y="145.24" width="5.8" height="5.8" fill="#fff" fill-opacity="0.6" stroke="#e09440" stroke-width="0.85"/>
<rect x="398.7" y="145.24" width="5.8" height="5.8" fill="#fff" fill-opacity="0.6" stroke="#e09440" stroke-width="0.85"/>
<rect x="399.9" y="144.37" width="5.8" height="5.8" fill="#fff" fill-opacity="0.6" stroke="#e09440" stroke-width="0.85"/>
<rect x="401.1" y="142.73" width="5.8" height="5.8" fill="#fff" fill-opacity="0.6" stroke="#e09440" stroke-width="0.85"/>
<rect x="402.35" y="141.11" width="5.8" height="5.8" fill="#fff" fill-opacity="0.6" stroke="#e09440" stroke-width="0.85"/>
<rect x="403.6" y="138.79" width="5.8" height="5.8" fill="#fff" fill-opacity="0.6" stroke="#e09440" stroke-width="0.85"/>
<rect x="405.17" y="139" width="5.8" height="5.8" fill="#fff" fill-opacity="0.6" stroke="#e09440" stroke-width="0.85"/>
<rect x="406.74" y="140.65" width="5.8" height="5.8" fill="#fff" fill-opacity="0.6" stroke="#e09440" stroke-width="0.85"/>
<rect x="408.31" y="137.69" width="5.8" height="5.8" fill="#fff" fill-opacity="0.6" stroke="#e09440" stroke-width="0.85"/>
<rect x="409.95" y="138.54" width="5.8" height="5.8" fill="#fff" fill-opacity="0.6" stroke="#e09440" stroke-width="0.85"/>
<rect x="411.65" y="138.52" width="5.8" height="5.8" fill="#fff" fill-opacity="0.6" stroke="#e09440" stroke-width="0.85"/>
<rect x="413.35" y="138.58" width="5.8" height="5.8" fill="#fff" fill-opacity="0.6" stroke="#e09440" stroke-width="0.85"/>
<rect x="415.05" y="137.94" width="5.8" height="5.8" fill="#fff" fill-opacity="0.6" stroke="#e09440" stroke-width="0.85"/>
<rect x="416.59" y="137.47" width="5.8" height="5.8" fill="#fff" fill-opacity="0.6" stroke="#e09440" stroke-width="0.85"/>
<rect x="419.34" y="135.68" width="5.8" height="5.8" fill="#fff" fill-opacity="0.6" stroke="#e09440" stroke-width="0.85"/>
<rect x="422.1" y="134.02" width="5.8" height="5.8" fill="#fff" fill-opacity="0.6" stroke="#e09440" stroke-width="0.85"/>
<rect x="424.23" y="132.56" width="5.8" height="5.8" fill="#fff" fill-opacity="0.6" stroke="#e09440" stroke-width="0.85"/>
<rect x="426.35" y="131.46" width="5.8" height="5.8" fill="#fff" fill-opacity="0.6" stroke="#e09440" stroke-width="0.85"/>
<rect x="428.48" y="129.88" width="5.8" height="5.8" fill="#fff" fill-opacity="0.6" stroke="#e09440" stroke-width="0.85"/>
<rect x="431.34" y="128.07" width="5.8" height="5.8" fill="#fff" fill-opacity="0.6" stroke="#e09440" stroke-width="0.85"/>
<rect x="434.21" y="125.75" width="5.8" height="5.8" fill="#fff" fill-opacity="0.6" stroke="#e09440" stroke-width="0.85"/>
<rect x="437.08" y="124.11" width="5.8" height="5.8" fill="#fff" fill-opacity="0.6" stroke="#e09440" stroke-width="0.85"/>
<rect x="439.95" y="123" width="5.8" height="5.8" fill="#fff" fill-opacity="0.6" stroke="#e09440" stroke-width="0.85"/>
<rect x="442.83" y="121.59" width="5.8" height="5.8" fill="#fff" fill-opacity="0.6" stroke="#e09440" stroke-width="0.85"/>
<rect x="445.77" y="119.93" width="5.8" height="5.8" fill="#fff" fill-opacity="0.6" stroke="#e09440" stroke-width="0.85"/>
<rect x="450.17" y="118.05" width="5.8" height="5.8" fill="#fff" fill-opacity="0.6" stroke="#e09440" stroke-width="0.85"/>
<rect x="454.57" y="115.6" width="5.8" height="5.8" fill="#fff" fill-opacity="0.6" stroke="#e09440" stroke-width="0.85"/>
<rect x="458.97" y="113.94" width="5.8" height="5.8" fill="#fff" fill-opacity="0.6" stroke="#e09440" stroke-width="0.85"/>
<rect x="463.33" y="112.15" width="5.8" height="5.8" fill="#fff" fill-opacity="0.6" stroke="#e09440" stroke-width="0.85"/>
<rect x="467.68" y="109.79" width="5.8" height="5.8" fill="#fff" fill-opacity="0.6" stroke="#e09440" stroke-width="0.85"/>
<rect x="472.03" y="107.54" width="5.8" height="5.8" fill="#fff" fill-opacity="0.6" stroke="#e09440" stroke-width="0.85"/>
<rect x="476.38" y="105.36" width="5.8" height="5.8" fill="#fff" fill-opacity="0.6" stroke="#e09440" stroke-width="0.85"/>
<rect x="480.72" y="102.63" width="5.8" height="5.8" fill="#fff" fill-opacity="0.6" stroke="#e09440" stroke-width="0.85"/>
<rect x="485.06" y="100.4" width="5.8" height="5.8" fill="#fff" fill-opacity="0.6" stroke="#e09440" stroke-width="0.85"/>
<rect x="489.4" y="98.32" width="5.8" height="5.8" fill="#fff" fill-opacity="0.6" stroke="#e09440" stroke-width="0.85"/>
<rect x="494.1" y="94.94" width="5.8" height="5.8" fill="#fff" fill-opacity="0.6" stroke="#e09440" stroke-width="0.85"/>
<rect x="499.85" y="91.64" width="5.8" height="5.8" fill="#fff" fill-opacity="0.6" stroke="#e09440" stroke-width="0.85"/>
<rect x="505.6" y="88.33" width="5.8" height="5.8" fill="#fff" fill-opacity="0.6" stroke="#e09440" stroke-width="0.85"/>
<rect x="511.35" y="85.03" width="5.8" height="5.8" fill="#fff" fill-opacity="0.6" stroke="#e09440" stroke-width="0.85"/>
<rect x="517.1" y="81.73" width="5.8" height="5.8" fill="#fff" fill-opacity="0.6" stroke="#e09440" stroke-width="0.85"/>
<rect x="522.85" y="78.42" width="5.8" height="5.8" fill="#fff" fill-opacity="0.6" stroke="#e09440" stroke-width="0.85"/>
<rect x="528.6" y="75.12" width="5.8" height="5.8" fill="#fff" fill-opacity="0.6" stroke="#e09440" stroke-width="0.85"/>
<rect x="534.35" y="71.82" width="5.8" height="5.8" fill="#fff" fill-opacity="0.6" stroke="#e09440" stroke-width="0.85"/>
<rect x="540.1" y="68.51" width="5.8" height="5.8" fill="#fff" fill-opacity="0.6" stroke="#e09440" stroke-width="0.85"/>
<rect x="545.85" y="65.21" width="5.8" height="5.8" fill="#fff" fill-opacity="0.6" stroke="#e09440" stroke-width="0.85"/>
<rect x="551.6" y="61.9" width="5.8" height="5.8" fill="#fff" fill-opacity="0.6" stroke="#e09440" stroke-width="0.85"/>
<rect x="557.35" y="58.6" width="5.8" height="5.8" fill="#fff" fill-opacity="0.6" stroke="#e09440" stroke-width="0.85"/>
<rect x="563.1" y="55.3" width="5.8" height="5.8" fill="#fff" fill-opacity="0.6" stroke="#e09440" stroke-width="0.85"/>
<rect x="568.85" y="51.99" width="5.8" height="5.8" fill="#fff" fill-opacity="0.6" stroke="#e09440" stroke-width="0.85"/>
<rect x="574.6" y="48.69" width="5.8" height="5.8" fill="#fff" fill-opacity="0.6" stroke="#e09440" stroke-width="0.85"/>
<rect x="580.35" y="45.39" width="5.8" height="5.8" fill="#fff" fill-opacity="0.6" stroke="#e09440" stroke-width="0.85"/>
<rect x="586.1" y="42.08" width="5.8" height="5.8" fill="#fff" fill-opacity="0.6" stroke="#e09440" stroke-width="0.85"/>
<rect x="591.85" y="38.78" width="5.8" height="5.8" fill="#fff" fill-opacity="0.6" stroke="#e09440" stroke-width="0.85"/>
<rect x="597.6" y="35.48" width="5.8" height="5.8" fill="#fff" fill-opacity="0.6" stroke="#e09440" stroke-width="0.85"/>
<rect x="603.35" y="32.17" width="5.8" height="5.8" fill="#fff" fill-opacity="0.6" stroke="#e09440" stroke-width="0.85"/>
<rect x="609.1" y="28.87" width="5.8" height="5.8" fill="#fff" fill-opacity="0.6" stroke="#e09440" stroke-width="0.85"/>
<rect x="614.85" y="25.56" width="5.8" height="5.8" fill="#fff" fill-opacity="0.6" stroke="#e09440" stroke-width="0.85"/>
<rect x="620.6" y="22.26" width="5.8" height="5.8" fill="#fff" fill-opacity="0.6" stroke="#e09440" stroke-width="0.85"/>
<rect x="626.35" y="18.96" width="5.8" height="5.8" fill="#fff" fill-opacity="0.6" stroke="#e09440" stroke-width="0.85"/>
<text x="332.8" y="11.7" font-size="13.5" fill="#111" font-weight="bold">b</text>
<text x="375.6" y="216.7" font-size="15.3" fill="#1a1a1a" text-anchor="end">0</text>
<text x="375.6" y="168.5" font-size="15.3" fill="#1a1a1a" text-anchor="end">200</text>
<text x="375.6" y="119.2" font-size="15.3" fill="#1a1a1a" text-anchor="end">400</text>
<text x="375.6" y="70.5" font-size="15.3" fill="#1a1a1a" text-anchor="end">600</text>
<text x="375.6" y="21.6" font-size="15.3" fill="#1a1a1a" text-anchor="end">800</text>
<text x="377.8" y="229.5" font-size="15.4" fill="#1a1a1a" text-anchor="middle">0</text>
<text x="446.6" y="229.5" font-size="15.4" fill="#1a1a1a">3×10<tspan font-size="10" dy="-6">15</tspan></text>
<text x="530.1" y="229.5" font-size="15.4" fill="#1a1a1a">6×10<tspan font-size="10" dy="-6">15</tspan></text>
<text x="615.9" y="229.5" font-size="15.4" fill="#1a1a1a">9×10<tspan font-size="10" dy="-6">15</tspan></text>
<text x="398" y="245.2" font-size="16.2" fill="#1a1a1a">Minority carrier density (cm<tspan font-size="10" dy="-6.5">-3</tspan><tspan dy="6.5">)</tspan></text>
<text x="338.3" y="106.5" font-size="16" fill="#1a1a1a" text-anchor="middle" transform="rotate(-90 338.3 106.5)">1/τ<tspan font-size="10.5" dy="3.5">eff</tspan><tspan dy="-3.5">-1/τ</tspan><tspan font-size="10.5" dy="3.5">Auger</tspan><tspan dy="-3.5">(s</tspan><tspan font-size="10.5" dy="-6.5">-1</tspan><tspan dy="6.5">)</tspan></text>
<text x="444" y="68.4" font-size="10.1" fill="#d4882c">J<tspan font-size="6.8" dy="2.5">0</tspan><tspan dy="-2.5">=10.64 fA/cm</tspan><tspan font-size="6.8" dy="-4">2</tspan></text>
<line x1="481.8" y1="103" x2="481" y2="80" stroke="#d4882c" stroke-width="0.9"/>
<path d="M481,75.5 L478.6,81.5 L483.4,81.5 Z" fill="#d4882c"/>
<text x="509.9" y="155.8" font-size="11.3" fill="#2e5a96">J<tspan font-size="7.6" dy="2.8">0</tspan><tspan dy="-2.8">=2.60 fA/cm</tspan><tspan font-size="7.6" dy="-4.4">2</tspan></text>
<line x1="504.3" y1="127.2" x2="520.5" y2="141" stroke="#2e5a96" stroke-width="0.9"/>
<path d="M523.2,143.3 L516.9,141.1 L519.9,137.6 Z" fill="#2e5a96"/>
<line x1="82.03" y1="1001.5" x2="82.03" y2="998.5" stroke="#262626" stroke-width="1"/>
<line x1="112.55" y1="1001.5" x2="112.55" y2="996.5" stroke="#262626" stroke-width="1"/>
<line x1="143.07" y1="1001.5" x2="143.07" y2="998.5" stroke="#262626" stroke-width="1"/>
<line x1="173.6" y1="1001.5" x2="173.6" y2="996.5" stroke="#262626" stroke-width="1"/>
<line x1="204.12" y1="1001.5" x2="204.12" y2="998.5" stroke="#262626" stroke-width="1"/>
<line x1="234.65" y1="1001.5" x2="234.65" y2="996.5" stroke="#262626" stroke-width="1"/>
<line x1="265.17" y1="1001.5" x2="265.17" y2="998.5" stroke="#262626" stroke-width="1"/>
<line x1="51.5" y1="981.6" x2="54.5" y2="981.6" stroke="#262626" stroke-width="1"/>
<line x1="51.5" y1="961.7" x2="56.5" y2="961.7" stroke="#262626" stroke-width="1"/>
<line x1="51.5" y1="941.8" x2="54.5" y2="941.8" stroke="#262626" stroke-width="1"/>
<line x1="51.5" y1="921.9" x2="56.5" y2="921.9" stroke="#262626" stroke-width="1"/>
<line x1="51.5" y1="902" x2="54.5" y2="902" stroke="#262626" stroke-width="1"/>
<line x1="51.5" y1="882.1" x2="56.5" y2="882.1" stroke="#262626" stroke-width="1"/>
<line x1="51.5" y1="862.2" x2="54.5" y2="862.2" stroke="#262626" stroke-width="1"/>
<line x1="51.5" y1="842.3" x2="56.5" y2="842.3" stroke="#262626" stroke-width="1"/>
<line x1="51.5" y1="822.4" x2="54.5" y2="822.4" stroke="#262626" stroke-width="1"/>
<polyline points="51.5,837.6 52.11,837.61 52.72,837.62 53.33,837.63 53.94,837.64 54.55,837.64 55.16,837.65 55.77,837.66 56.38,837.67 56.99,837.68 57.61,837.68 58.22,837.69 58.83,837.7 59.44,837.71 60.05,837.72 60.66,837.72 61.27,837.73 61.88,837.74 62.49,837.75 63.1,837.75 63.71,837.76 64.32,837.77 64.93,837.78 65.54,837.79 66.15,837.79 66.76,837.8 67.37,837.81 67.98,837.82 68.59,837.83 69.2,837.83 69.82,837.84 70.43,837.85 71.04,837.86 71.65,837.87 72.26,837.87 72.87,837.88 73.48,837.89 74.09,837.9 74.7,837.91 75.31,837.91 75.92,837.92 76.53,837.93 77.14,837.94 77.75,837.95 78.36,837.95 78.97,837.96 79.58,837.97 80.19,837.98 80.8,837.99 81.41,837.99 82.03,838 82.64,838.01 83.25,838.02 83.86,838.03 84.47,838.03 85.08,838.04 85.69,838.05 86.3,838.06 86.91,838.07 87.52,838.07 88.13,838.08 88.74,838.09 89.35,838.1 89.96,838.11 90.57,838.11 91.18,838.12 91.79,838.13 92.4,838.14 93.01,838.14 93.62,838.15 94.24,838.16 94.85,838.17 95.46,838.18 96.07,838.18 96.68,838.19 97.29,838.2 97.9,838.21 98.51,838.22 99.12,838.22 99.73,838.23 100.34,838.24 100.95,838.25 101.56,838.26 102.17,838.26 102.78,838.27 103.39,838.28 104,838.29 104.61,838.3 105.22,838.3 105.83,838.31 106.45,838.32 107.06,838.33 107.67,838.34 108.28,838.34 108.89,838.35 109.5,838.36 110.11,838.37 110.72,838.38 111.33,838.38 111.94,838.39 112.55,838.4 113.16,838.41 113.77,838.42 114.38,838.42 114.99,838.43 115.6,838.44 116.21,838.45 116.82,838.46 117.43,838.46 118.04,838.47 118.66,838.48 119.27,838.49 119.88,838.5 120.49,838.5 121.1,838.51 121.71,838.52 122.32,838.53 122.93,838.53 123.54,838.54 124.15,838.55 124.76,838.56 125.37,838.57 125.98,838.57 126.59,838.58 127.2,838.59 127.81,838.6 128.42,838.61 129.03,838.61 129.64,838.62 130.25,838.63 130.87,838.64 131.48,838.65 132.09,838.65 132.7,838.66 133.31,838.67 133.92,838.68 134.53,838.69 135.14,838.69 135.75,838.7 136.36,838.71 136.97,838.72 137.58,838.73 138.19,838.73 138.8,838.74 139.41,838.75 140.02,838.76 140.63,838.77 141.24,838.77 141.85,838.78 142.46,838.79 143.08,838.8 143.69,838.81 144.3,838.81 144.91,838.82 145.52,838.83 146.13,838.84 146.74,838.85 147.35,838.85 147.96,838.86 148.57,838.87 149.18,838.88 149.79,838.89 150.4,838.89 151.01,838.9 151.62,838.91 152.23,838.92 152.84,838.92 153.45,838.93 154.06,838.94 154.67,838.95 155.29,838.96 155.9,838.96 156.51,838.97 157.12,838.98 157.73,838.99 158.34,839 158.95,839 159.56,839.01 160.17,839.02 160.78,839.03 161.39,839.04 162,839.04 162.61,839.05 163.22,839.06 163.83,839.07 164.44,839.08 165.05,839.08 165.66,839.09 166.27,839.1 166.88,839.11 167.5,839.12 168.11,839.12 168.72,839.13 169.33,839.14 169.94,839.15 170.55,839.16 171.16,839.16 171.77,839.17 172.38,839.18 172.99,839.19 173.6,839.2 174.21,839.2 174.82,839.21 175.43,839.22 176.04,839.23 176.65,839.24 177.26,839.24 177.87,839.25 178.48,839.26 179.09,839.27 179.71,839.28 180.32,839.28 180.93,839.29 181.54,839.3 182.15,839.31 182.76,839.32 183.37,839.32 183.98,839.33 184.59,839.34 185.2,839.35 185.81,839.36 186.42,839.36 187.03,839.37 187.64,839.38 188.25,839.39 188.86,839.39 189.47,839.4 190.08,839.41 190.69,839.42 191.3,839.43 191.92,839.44 192.53,839.44 193.14,839.45 193.75,839.46 194.36,839.47 194.97,839.48 195.58,839.48 196.19,839.49 196.8,839.5 197.41,839.51 198.02,839.52 198.63,839.52 199.24,839.53 199.85,839.54 200.46,839.55 201.07,839.56 201.68,839.56 202.29,839.57 202.9,839.58 203.51,839.59 204.13,839.6 204.74,839.61 205.35,839.61 205.96,839.62 206.57,839.63 207.18,839.64 207.79,839.65 208.4,839.66 209.01,839.66 209.62,839.67 210.23,839.68 210.84,839.69 211.45,839.7 212.06,839.71 212.67,839.72 213.28,839.73 213.89,839.74 214.5,839.75 215.11,839.75 215.72,839.76 216.34,839.77 216.95,839.78 217.56,839.79 218.17,839.8 218.78,839.81 219.39,839.83 220,839.84 220.61,839.85 221.22,839.86 221.83,839.87 222.44,839.88 223.05,839.9 223.66,839.91 224.27,839.92 224.88,839.94 225.49,839.95 226.1,839.97 226.71,839.98 227.32,840 227.93,840.02 228.55,840.04 229.16,840.06 229.77,840.08 230.38,840.1 230.99,840.12 231.6,840.15 232.21,840.17 232.82,840.2 233.43,840.23 234.04,840.26 234.65,840.3 235.26,840.33 235.87,840.37 236.48,840.41 237.09,840.46 237.7,840.51 238.31,840.56 238.92,840.62 239.53,840.68 240.14,840.74 240.76,840.81 241.37,840.89 241.98,840.97 242.59,841.07 243.2,841.16 243.81,841.27 244.42,841.39 245.03,841.51 245.64,841.65 246.25,841.8 246.86,841.96 247.47,842.13 248.08,842.33 248.69,842.54 249.3,842.76 249.91,843.01 250.52,843.28 251.13,843.57 251.74,843.9 252.35,844.25 252.97,844.63 253.58,845.04 254.19,845.5 254.8,846 255.41,846.54 256.02,847.13 256.63,847.77 257.24,848.48 257.85,849.25 258.46,850.09 259.07,851.01 259.68,852.01 260.29,853.1 260.9,854.3 261.51,855.61 262.12,857.03 262.73,858.59 263.34,860.29 263.95,862.16 264.56,864.19 265.18,866.41 265.79,868.84 266.4,871.49 267.01,874.38 267.62,877.55 268.23,881.01 268.84,884.79 269.45,888.92 270.06,893.44 270.67,898.37 271.28,903.76 271.89,909.65 272.5,916.09 273.11,923.13 273.72,930.82 274.33,939.22 274.94,948.4 275.55,958.44 276.16,969.41 276.77,981.4 277.39,994.5 277.69,1001.5" fill="none" stroke="#2b5892" stroke-width="2.6" stroke-dasharray="5,3"/>
<polyline points="51.5,837.25 52.11,837.25 52.72,837.26 53.33,837.27 53.94,837.28 54.55,837.29 55.16,837.29 55.77,837.3 56.38,837.31 56.99,837.32 57.61,837.33 58.22,837.33 58.83,837.34 59.44,837.35 60.05,837.36 60.66,837.36 61.27,837.37 61.88,837.38 62.49,837.39 63.1,837.4 63.71,837.4 64.32,837.41 64.93,837.42 65.54,837.43 66.15,837.44 66.76,837.44 67.37,837.45 67.98,837.46 68.59,837.47 69.2,837.48 69.82,837.48 70.43,837.49 71.04,837.5 71.65,837.51 72.26,837.52 72.87,837.52 73.48,837.53 74.09,837.54 74.7,837.55 75.31,837.56 75.92,837.56 76.53,837.57 77.14,837.58 77.75,837.59 78.36,837.6 78.97,837.6 79.58,837.61 80.19,837.62 80.8,837.63 81.41,837.64 82.03,837.64 82.64,837.65 83.25,837.66 83.86,837.67 84.47,837.68 85.08,837.68 85.69,837.69 86.3,837.7 86.91,837.71 87.52,837.72 88.13,837.72 88.74,837.73 89.35,837.74 89.96,837.75 90.57,837.75 91.18,837.76 91.79,837.77 92.4,837.78 93.01,837.79 93.62,837.79 94.24,837.8 94.85,837.81 95.46,837.82 96.07,837.83 96.68,837.83 97.29,837.84 97.9,837.85 98.51,837.86 99.12,837.87 99.73,837.87 100.34,837.88 100.95,837.89 101.56,837.9 102.17,837.91 102.78,837.91 103.39,837.92 104,837.93 104.61,837.94 105.22,837.95 105.83,837.95 106.45,837.96 107.06,837.97 107.67,837.98 108.28,837.99 108.89,837.99 109.5,838 110.11,838.01 110.72,838.02 111.33,838.03 111.94,838.03 112.55,838.04 113.16,838.05 113.77,838.06 114.38,838.07 114.99,838.07 115.6,838.08 116.21,838.09 116.82,838.1 117.43,838.11 118.04,838.11 118.66,838.12 119.27,838.13 119.88,838.14 120.49,838.14 121.1,838.15 121.71,838.16 122.32,838.17 122.93,838.18 123.54,838.18 124.15,838.19 124.76,838.2 125.37,838.21 125.98,838.22 126.59,838.22 127.2,838.23 127.81,838.24 128.42,838.25 129.03,838.26 129.64,838.26 130.25,838.27 130.87,838.28 131.48,838.29 132.09,838.3 132.7,838.3 133.31,838.31 133.92,838.32 134.53,838.33 135.14,838.34 135.75,838.34 136.36,838.35 136.97,838.36 137.58,838.37 138.19,838.38 138.8,838.38 139.41,838.39 140.02,838.4 140.63,838.41 141.24,838.42 141.85,838.42 142.46,838.43 143.08,838.44 143.69,838.45 144.3,838.46 144.91,838.46 145.52,838.47 146.13,838.48 146.74,838.49 147.35,838.5 147.96,838.5 148.57,838.51 149.18,838.52 149.79,838.53 150.4,838.53 151.01,838.54 151.62,838.55 152.23,838.56 152.84,838.57 153.45,838.57 154.06,838.58 154.67,838.59 155.29,838.6 155.9,838.61 156.51,838.61 157.12,838.62 157.73,838.63 158.34,838.64 158.95,838.65 159.56,838.65 160.17,838.66 160.78,838.67 161.39,838.68 162,838.69 162.61,838.69 163.22,838.7 163.83,838.71 164.44,838.72 165.05,838.73 165.66,838.73 166.27,838.74 166.88,838.75 167.5,838.76 168.11,838.77 168.72,838.77 169.33,838.78 169.94,838.79 170.55,838.8 171.16,838.81 171.77,838.81 172.38,838.82 172.99,838.83 173.6,838.84 174.21,838.85 174.82,838.85 175.43,838.86 176.04,838.87 176.65,838.88 177.26,838.89 177.87,838.89 178.48,838.9 179.09,838.91 179.71,838.92 180.32,838.93 180.93,838.93 181.54,838.94 182.15,838.95 182.76,838.96 183.37,838.97 183.98,838.97 184.59,838.98 185.2,838.99 185.81,839 186.42,839.01 187.03,839.01 187.64,839.02 188.25,839.03 188.86,839.04 189.47,839.05 190.08,839.05 190.69,839.06 191.3,839.07 191.92,839.08 192.53,839.09 193.14,839.09 193.75,839.1 194.36,839.11 194.97,839.12 195.58,839.13 196.19,839.13 196.8,839.14 197.41,839.15 198.02,839.16 198.63,839.17 199.24,839.18 199.85,839.18 200.46,839.19 201.07,839.2 201.68,839.21 202.29,839.22 202.9,839.23 203.51,839.23 204.13,839.24 204.74,839.25 205.35,839.26 205.96,839.27 206.57,839.28 207.18,839.29 207.79,839.3 208.4,839.31 209.01,839.31 209.62,839.32 210.23,839.33 210.84,839.34 211.45,839.35 212.06,839.36 212.67,839.37 213.28,839.38 213.89,839.39 214.5,839.4 215.11,839.42 215.72,839.43 216.34,839.44 216.95,839.45 217.56,839.46 218.17,839.48 218.78,839.49 219.39,839.5 220,839.52 220.61,839.53 221.22,839.55 221.83,839.57 222.44,839.58 223.05,839.6 223.66,839.62 224.27,839.64 224.88,839.66 225.49,839.68 226.1,839.71 226.71,839.73 227.32,839.76 227.93,839.79 228.55,839.82 229.16,839.85 229.77,839.88 230.38,839.92 230.99,839.96 231.6,840 232.21,840.05 232.82,840.1 233.43,840.15 234.04,840.21 234.65,840.27 235.26,840.34 235.87,840.41 236.48,840.49 237.09,840.58 237.7,840.67 238.31,840.77 238.92,840.88 239.53,841 240.14,841.13 240.76,841.27 241.37,841.42 241.98,841.59 242.59,841.77 243.2,841.97 243.81,842.18 244.42,842.42 245.03,842.67 245.64,842.95 246.25,843.25 246.86,843.58 247.47,843.94 248.08,844.34 248.69,844.77 249.3,845.23 249.91,845.74 250.52,846.3 251.13,846.91 251.74,847.58 252.35,848.3 252.97,849.09 253.58,849.96 254.19,850.9 254.8,851.94 255.41,853.06 256.02,854.29 256.63,855.64 257.24,857.11 257.85,858.71 258.46,860.47 259.07,862.38 259.68,864.47 260.29,866.76 260.9,869.26 261.51,871.99 262.12,874.97 262.73,878.23 263.34,881.8 263.95,885.69 264.56,889.94 265.18,894.59 265.79,899.67 266.4,905.22 267.01,911.29 267.62,917.92 268.23,925.16 268.84,933.08 269.45,941.73 270.06,951.19 270.67,961.52 271.28,972.82 271.89,985.16 272.5,998.65 272.62,1001.5" fill="none" stroke="#e8902a" stroke-width="2.6" stroke-dasharray="5,3"/>
<rect x="51.5" y="802.5" width="244.2" height="199" fill="none" stroke="#262626" stroke-width="1.3"/>
<text x="5.8" y="796.9" font-size="13.5" fill="#111" font-weight="bold">g</text>
<text x="47.9" y="1004.2" font-size="16" fill="#1a1a1a" text-anchor="end">0</text>
<text x="47.9" y="968.2" font-size="16" fill="#1a1a1a" text-anchor="end">10</text>
<text x="47.9" y="928.4" font-size="16" fill="#1a1a1a" text-anchor="end">20</text>
<text x="47.9" y="888.6" font-size="16" fill="#1a1a1a" text-anchor="end">30</text>
<text x="47.9" y="848.8" font-size="16" fill="#1a1a1a" text-anchor="end">40</text>
<text x="47.9" y="809" font-size="16" fill="#1a1a1a" text-anchor="end">50</text>
<text x="51.5" y="1015" font-size="16" fill="#1a1a1a" text-anchor="middle">0.0</text>
<text x="112.55" y="1015" font-size="16" fill="#1a1a1a" text-anchor="middle">0.2</text>
<text x="173.6" y="1015" font-size="16" fill="#1a1a1a" text-anchor="middle">0.4</text>
<text x="234.65" y="1015" font-size="16" fill="#1a1a1a" text-anchor="middle">0.6</text>
<text x="295.7" y="1015" font-size="16" fill="#1a1a1a" text-anchor="middle">0.8</text>
<text x="169.9" y="1030.5" font-size="16" fill="#1a1a1a" text-anchor="middle">Voltage (V)</text>
<text x="22.3" y="901.5" font-size="16" fill="#1a1a1a" text-anchor="middle" transform="rotate(-90 22.3 901.5)">Current density (mA/cm<tspan font-size="10.5" dy="-6.5">2</tspan><tspan dy="6.5">)</tspan></text>
<text x="288.3" y="816.3" font-size="11.4" fill="#1a1a1a" text-anchor="end">Suns-<tspan font-style="italic">V</tspan><tspan font-size="7.5" dy="3">oc</tspan><tspan dy="-3"> J-V</tspan></text>
<text x="101.7" y="880.2" font-size="11.57" fill="#2f5e9e">passivating pinhole</text>
<text x="210.6" y="880.2" font-size="11.6" fill="#d98b2c">control</text>
<text x="64.2" y="898.6" font-size="11.6" fill="#1a1a1a"><tspan font-style="italic">V</tspan><tspan font-size="7.5" dy="3">oc</tspan><tspan dy="-3"> (mV):</tspan></text>
<text x="136.8" y="898.6" font-size="11.5" fill="#2f5e9e">741.0</text>
<text x="211.2" y="898.6" font-size="11.5" fill="#d98b2c">724.4</text>
<text x="64.2" y="922.5" font-size="11.6" fill="#1a1a1a"><tspan font-style="italic">J</tspan><tspan font-size="7.5" dy="3">sc</tspan><tspan dy="-3"> (mA/cm</tspan><tspan font-size="7.5" dy="-4">2</tspan><tspan dy="4">):</tspan></text>
<text x="137.3" y="922.5" font-size="11.5" fill="#2f5e9e">41.18</text>
<text x="211.8" y="922.5" font-size="11.5" fill="#d98b2c">41.27</text>
<text x="64.2" y="949.1" font-size="11.6" fill="#1a1a1a">pFF (%):</text>
<text x="138.8" y="949.1" font-size="11.5" fill="#2f5e9e">85.36</text>
<text x="213.2" y="949.1" font-size="11.5" fill="#d98b2c">84.75</text>
<text x="64.2" y="973" font-size="11.6" fill="#1a1a1a">PCE (%):</text>
<text x="138.8" y="973" font-size="11.5" fill="#2f5e9e">26.05</text>
<text x="213.2" y="973" font-size="11.5" fill="#d98b2c">25.33</text>
<line x1="399.69" y1="1001.5" x2="399.69" y2="998.5" stroke="#262626" stroke-width="1"/>
<line x1="417.17" y1="1001.5" x2="417.17" y2="996.5" stroke="#262626" stroke-width="1"/>
<line x1="434.66" y1="1001.5" x2="434.66" y2="998.5" stroke="#262626" stroke-width="1"/>
<line x1="452.14" y1="1001.5" x2="452.14" y2="996.5" stroke="#262626" stroke-width="1"/>
<line x1="469.63" y1="1001.5" x2="469.63" y2="998.5" stroke="#262626" stroke-width="1"/>
<line x1="487.11" y1="1001.5" x2="487.11" y2="996.5" stroke="#262626" stroke-width="1"/>
<line x1="504.6" y1="1001.5" x2="504.6" y2="998.5" stroke="#262626" stroke-width="1"/>
<line x1="522.09" y1="1001.5" x2="522.09" y2="996.5" stroke="#262626" stroke-width="1"/>
<line x1="539.57" y1="1001.5" x2="539.57" y2="998.5" stroke="#262626" stroke-width="1"/>
<line x1="557.06" y1="1001.5" x2="557.06" y2="996.5" stroke="#262626" stroke-width="1"/>
<line x1="574.54" y1="1001.5" x2="574.54" y2="998.5" stroke="#262626" stroke-width="1"/>
<line x1="592.03" y1="1001.5" x2="592.03" y2="996.5" stroke="#262626" stroke-width="1"/>
<line x1="609.51" y1="1001.5" x2="609.51" y2="998.5" stroke="#262626" stroke-width="1"/>
<line x1="382.2" y1="978.09" x2="385.2" y2="978.09" stroke="#262626" stroke-width="1"/>
<line x1="382.2" y1="954.67" x2="387.2" y2="954.67" stroke="#262626" stroke-width="1"/>
<line x1="382.2" y1="931.26" x2="385.2" y2="931.26" stroke="#262626" stroke-width="1"/>
<line x1="382.2" y1="907.85" x2="387.2" y2="907.85" stroke="#262626" stroke-width="1"/>
<line x1="382.2" y1="884.44" x2="385.2" y2="884.44" stroke="#262626" stroke-width="1"/>
<line x1="382.2" y1="861.03" x2="387.2" y2="861.03" stroke="#262626" stroke-width="1"/>
<line x1="382.2" y1="837.61" x2="385.2" y2="837.61" stroke="#262626" stroke-width="1"/>
<line x1="382.2" y1="814.2" x2="387.2" y2="814.2" stroke="#262626" stroke-width="1"/>
<line x1="399.69" y1="961.7" x2="609.51" y2="824.27" stroke="#e8952e" stroke-width="1.8"/>
<line x1="399.69" y1="968.72" x2="609.51" y2="855.64" stroke="#2b4f86" stroke-width="1.8"/>
<rect x="396.39" y="957.23" width="6.6" height="6.6" fill="none" stroke="#e8952e" stroke-width="1.2"/>
<rect x="396.39" y="954.42" width="6.6" height="6.6" fill="none" stroke="#e8952e" stroke-width="1.2"/>
<rect x="448.84" y="923.28" width="6.6" height="6.6" fill="none" stroke="#e8952e" stroke-width="1.2"/>
<rect x="448.84" y="919.53" width="6.6" height="6.6" fill="none" stroke="#e8952e" stroke-width="1.2"/>
<rect x="501.3" y="888.16" width="6.6" height="6.6" fill="none" stroke="#e8952e" stroke-width="1.2"/>
<rect x="501.3" y="886.76" width="6.6" height="6.6" fill="none" stroke="#e8952e" stroke-width="1.2"/>
<rect x="553.76" y="854.92" width="6.6" height="6.6" fill="none" stroke="#e8952e" stroke-width="1.2"/>
<rect x="553.76" y="853.51" width="6.6" height="6.6" fill="none" stroke="#e8952e" stroke-width="1.2"/>
<rect x="606.21" y="820.97" width="6.6" height="6.6" fill="none" stroke="#e8952e" stroke-width="1.2"/>
<circle cx="399.69" cy="968.72" r="3.6" fill="none" stroke="#2b4f86" stroke-width="1.3"/>
<circle cx="399.69" cy="965.68" r="3.6" fill="none" stroke="#2b4f86" stroke-width="1.3"/>
<circle cx="452.14" cy="940.63" r="3.6" fill="none" stroke="#2b4f86" stroke-width="1.3"/>
<circle cx="452.14" cy="934.77" r="3.6" fill="none" stroke="#2b4f86" stroke-width="1.3"/>
<circle cx="504.6" cy="913.47" r="3.6" fill="none" stroke="#2b4f86" stroke-width="1.3"/>
<circle cx="504.6" cy="911.13" r="3.6" fill="none" stroke="#2b4f86" stroke-width="1.3"/>
<circle cx="557.06" cy="883.97" r="3.6" fill="none" stroke="#2b4f86" stroke-width="1.3"/>
<circle cx="609.51" cy="855.64" r="3.6" fill="none" stroke="#2b4f86" stroke-width="1.3"/>
<rect x="382.2" y="802.5" width="244.8" height="199" fill="none" stroke="#262626" stroke-width="1.3"/>
<text x="332.2" y="796.9" font-size="13.5" fill="#111" font-weight="bold">h</text>
<text x="379" y="1007.3" font-size="15.2" fill="#1a1a1a" text-anchor="end">0</text>
<text x="379" y="960.97" font-size="15.2" fill="#1a1a1a" text-anchor="end">20</text>
<text x="379" y="914.15" font-size="15.2" fill="#1a1a1a" text-anchor="end">40</text>
<text x="379" y="867.33" font-size="15.2" fill="#1a1a1a" text-anchor="end">60</text>
<text x="379" y="820.5" font-size="15.2" fill="#1a1a1a" text-anchor="end">80</text>
<text x="382.2" y="1015.5" font-size="15.2" fill="#1a1a1a" text-anchor="middle">1</text>
<text x="417.17" y="1015.5" font-size="15.2" fill="#1a1a1a" text-anchor="middle">2</text>
<text x="452.14" y="1015.5" font-size="15.2" fill="#1a1a1a" text-anchor="middle">3</text>
<text x="487.11" y="1015.5" font-size="15.2" fill="#1a1a1a" text-anchor="middle">4</text>
<text x="522.09" y="1015.5" font-size="15.2" fill="#1a1a1a" text-anchor="middle">5</text>
<text x="557.06" y="1015.5" font-size="15.2" fill="#1a1a1a" text-anchor="middle">6</text>
<text x="592.03" y="1015.5" font-size="15.2" fill="#1a1a1a" text-anchor="middle">7</text>
<text x="627" y="1015.5" font-size="15.2" fill="#1a1a1a" text-anchor="middle">8</text>
<text x="505.4" y="1031" font-size="16" fill="#1a1a1a" text-anchor="middle">Distance (mm)</text>
<text x="355.5" y="898.1" font-size="16.5" fill="#1a1a1a" text-anchor="middle" transform="rotate(-90 355.5 898.1)">Resistance (Ω)</text>
<rect x="405.8" y="823.4" width="6.6" height="6.6" fill="none" stroke="#e8952e" stroke-width="1.2"/>
<text x="420" y="830.6" font-size="11.8" fill="#d98a2c">ρc= 5.4 mΩ•cm²</text>
<circle cx="409.2" cy="842.6" r="3.4" fill="none" stroke="#2b4f86" stroke-width="1.3"/>
<text x="419.6" y="847.9" font-size="11.8" fill="#2e5390">ρc = 4.6 mΩ•cm²</text>
<g>
<rect x="31.7" y="258.4" width="257.2" height="258.3" fill="#ecf25a"/>
<rect x="31.7" y="258.4" width="257.2" height="258.3" fill="url(#cctr)"/>
<rect x="31.7" y="258.4" width="257.2" height="258.3" fill="url(#cside)"/>
<rect x="31.7" y="258.4" width="257.2" height="258.3" fill="url(#ctop)"/>
<rect x="31.7" y="258.4" width="257.2" height="258.3" fill="url(#fingc)"/>
<rect x="155.5" y="258.4" width="1.8" height="258.3" fill="#fafad0" fill-opacity="0.3"/>
<rect x="31.7" y="271" width="257.2" height="1.6" fill="#f8ee60" style="mix-blend-mode:multiply"/>
<rect x="145.5" y="270.2" width="21.9" height="3.2" fill="none" stroke="#ecd070" stroke-opacity="0.8" stroke-width="0.6" style="mix-blend-mode:multiply"/>
<rect x="279.6" y="270.2" width="9.3" height="3.2" fill="none" stroke="#ecd070" stroke-opacity="0.8" stroke-width="0.7" style="mix-blend-mode:multiply"/>
<circle cx="32.5" cy="271.8" r="1.4" fill="#96201a" fill-opacity="0.85"/>
<circle cx="54" cy="271.8" r="1.0" fill="#96201a" fill-opacity="0.85"/>
<circle cx="77.7" cy="271.8" r="1.0" fill="#96201a" fill-opacity="0.85"/>
<circle cx="99.7" cy="271.8" r="1.0" fill="#96201a" fill-opacity="0.85"/>
<circle cx="123.3" cy="271.8" r="1.0" fill="#96201a" fill-opacity="0.85"/>
<circle cx="145.5" cy="271.8" r="1.4" fill="#96201a" fill-opacity="0.85"/>
<circle cx="167.4" cy="271.8" r="1.4" fill="#96201a" fill-opacity="0.85"/>
<circle cx="189.7" cy="271.8" r="1.0" fill="#96201a" fill-opacity="0.85"/>
<circle cx="213.3" cy="271.8" r="1.0" fill="#96201a" fill-opacity="0.85"/>
<circle cx="234.8" cy="271.8" r="1.0" fill="#96201a" fill-opacity="0.85"/>
<circle cx="257.6" cy="271.8" r="1.0" fill="#96201a" fill-opacity="0.85"/>
<circle cx="279.6" cy="271.8" r="1.4" fill="#96201a" fill-opacity="0.85"/>
<circle cx="156.4" cy="271.8" r="1.1" fill="#fcfce0" fill-opacity="0.7"/>
<rect x="31.7" y="286.93" width="257.2" height="1.6" fill="#f8ee60" style="mix-blend-mode:multiply"/>
<rect x="145.5" y="286.13" width="21.9" height="3.2" fill="none" stroke="#ecd070" stroke-opacity="0.8" stroke-width="0.6" style="mix-blend-mode:multiply"/>
<rect x="279.6" y="286.13" width="9.3" height="3.2" fill="none" stroke="#ecd070" stroke-opacity="0.8" stroke-width="0.7" style="mix-blend-mode:multiply"/>
<circle cx="32.5" cy="287.73" r="1.4" fill="#96201a" fill-opacity="0.85"/>
<circle cx="54" cy="287.73" r="1.0" fill="#96201a" fill-opacity="0.85"/>
<circle cx="77.7" cy="287.73" r="1.0" fill="#96201a" fill-opacity="0.85"/>
<circle cx="99.7" cy="287.73" r="1.0" fill="#96201a" fill-opacity="0.85"/>
<circle cx="123.3" cy="287.73" r="1.0" fill="#96201a" fill-opacity="0.85"/>
<circle cx="145.5" cy="287.73" r="1.4" fill="#96201a" fill-opacity="0.85"/>
<circle cx="167.4" cy="287.73" r="1.4" fill="#96201a" fill-opacity="0.85"/>
<circle cx="189.7" cy="287.73" r="1.0" fill="#96201a" fill-opacity="0.85"/>
<circle cx="213.3" cy="287.73" r="1.0" fill="#96201a" fill-opacity="0.85"/>
<circle cx="234.8" cy="287.73" r="1.0" fill="#96201a" fill-opacity="0.85"/>
<circle cx="257.6" cy="287.73" r="1.0" fill="#96201a" fill-opacity="0.85"/>
<circle cx="279.6" cy="287.73" r="1.4" fill="#96201a" fill-opacity="0.85"/>
<circle cx="156.4" cy="287.73" r="1.1" fill="#fcfce0" fill-opacity="0.7"/>
<rect x="31.7" y="302.86" width="257.2" height="1.6" fill="#f8ee60" style="mix-blend-mode:multiply"/>
<rect x="145.5" y="302.06" width="21.9" height="3.2" fill="none" stroke="#ecd070" stroke-opacity="0.8" stroke-width="0.6" style="mix-blend-mode:multiply"/>
<rect x="279.6" y="302.06" width="9.3" height="3.2" fill="none" stroke="#ecd070" stroke-opacity="0.8" stroke-width="0.7" style="mix-blend-mode:multiply"/>
<circle cx="32.5" cy="303.66" r="1.4" fill="#96201a" fill-opacity="0.85"/>
<circle cx="54" cy="303.66" r="1.0" fill="#96201a" fill-opacity="0.85"/>
<circle cx="77.7" cy="303.66" r="1.0" fill="#96201a" fill-opacity="0.85"/>
<circle cx="99.7" cy="303.66" r="1.0" fill="#96201a" fill-opacity="0.85"/>
<circle cx="123.3" cy="303.66" r="1.0" fill="#96201a" fill-opacity="0.85"/>
<circle cx="145.5" cy="303.66" r="1.4" fill="#96201a" fill-opacity="0.85"/>
<circle cx="167.4" cy="303.66" r="1.4" fill="#96201a" fill-opacity="0.85"/>
<circle cx="189.7" cy="303.66" r="1.0" fill="#96201a" fill-opacity="0.85"/>
<circle cx="213.3" cy="303.66" r="1.0" fill="#96201a" fill-opacity="0.85"/>
<circle cx="234.8" cy="303.66" r="1.0" fill="#96201a" fill-opacity="0.85"/>
<circle cx="257.6" cy="303.66" r="1.0" fill="#96201a" fill-opacity="0.85"/>
<circle cx="279.6" cy="303.66" r="1.4" fill="#96201a" fill-opacity="0.85"/>
<circle cx="156.4" cy="303.66" r="1.1" fill="#fcfce0" fill-opacity="0.7"/>
<rect x="31.7" y="318.79" width="257.2" height="1.6" fill="#f8ee60" style="mix-blend-mode:multiply"/>
<rect x="145.5" y="317.99" width="21.9" height="3.2" fill="none" stroke="#ecd070" stroke-opacity="0.8" stroke-width="0.6" style="mix-blend-mode:multiply"/>
<rect x="279.6" y="317.99" width="9.3" height="3.2" fill="none" stroke="#ecd070" stroke-opacity="0.8" stroke-width="0.7" style="mix-blend-mode:multiply"/>
<circle cx="32.5" cy="319.59" r="1.4" fill="#96201a" fill-opacity="0.85"/>
<circle cx="54" cy="319.59" r="1.0" fill="#96201a" fill-opacity="0.85"/>
<circle cx="77.7" cy="319.59" r="1.0" fill="#96201a" fill-opacity="0.85"/>
<circle cx="99.7" cy="319.59" r="1.0" fill="#96201a" fill-opacity="0.85"/>
<circle cx="123.3" cy="319.59" r="1.0" fill="#96201a" fill-opacity="0.85"/>
<circle cx="145.5" cy="319.59" r="1.4" fill="#96201a" fill-opacity="0.85"/>
<circle cx="167.4" cy="319.59" r="1.4" fill="#96201a" fill-opacity="0.85"/>
<circle cx="189.7" cy="319.59" r="1.0" fill="#96201a" fill-opacity="0.85"/>
<circle cx="213.3" cy="319.59" r="1.0" fill="#96201a" fill-opacity="0.85"/>
<circle cx="234.8" cy="319.59" r="1.0" fill="#96201a" fill-opacity="0.85"/>
<circle cx="257.6" cy="319.59" r="1.0" fill="#96201a" fill-opacity="0.85"/>
<circle cx="279.6" cy="319.59" r="1.4" fill="#96201a" fill-opacity="0.85"/>
<circle cx="156.4" cy="319.59" r="1.1" fill="#fcfce0" fill-opacity="0.7"/>
<rect x="31.7" y="334.72" width="257.2" height="1.6" fill="#f8ee60" style="mix-blend-mode:multiply"/>
<rect x="145.5" y="333.92" width="21.9" height="3.2" fill="none" stroke="#ecd070" stroke-opacity="0.8" stroke-width="0.6" style="mix-blend-mode:multiply"/>
<rect x="279.6" y="333.92" width="9.3" height="3.2" fill="none" stroke="#ecd070" stroke-opacity="0.8" stroke-width="0.7" style="mix-blend-mode:multiply"/>
<circle cx="32.5" cy="335.52" r="1.4" fill="#96201a" fill-opacity="0.85"/>
<circle cx="54" cy="335.52" r="1.0" fill="#96201a" fill-opacity="0.85"/>
<circle cx="77.7" cy="335.52" r="1.0" fill="#96201a" fill-opacity="0.85"/>
<circle cx="99.7" cy="335.52" r="1.0" fill="#96201a" fill-opacity="0.85"/>
<circle cx="123.3" cy="335.52" r="1.0" fill="#96201a" fill-opacity="0.85"/>
<circle cx="145.5" cy="335.52" r="1.4" fill="#96201a" fill-opacity="0.85"/>
<circle cx="167.4" cy="335.52" r="1.4" fill="#96201a" fill-opacity="0.85"/>
<circle cx="189.7" cy="335.52" r="1.0" fill="#96201a" fill-opacity="0.85"/>
<circle cx="213.3" cy="335.52" r="1.0" fill="#96201a" fill-opacity="0.85"/>
<circle cx="234.8" cy="335.52" r="1.0" fill="#96201a" fill-opacity="0.85"/>
<circle cx="257.6" cy="335.52" r="1.0" fill="#96201a" fill-opacity="0.85"/>
<circle cx="279.6" cy="335.52" r="1.4" fill="#96201a" fill-opacity="0.85"/>
<circle cx="156.4" cy="335.52" r="1.1" fill="#fcfce0" fill-opacity="0.7"/>
<rect x="31.7" y="350.65" width="257.2" height="1.6" fill="#f8ee60" style="mix-blend-mode:multiply"/>
<rect x="145.5" y="349.85" width="21.9" height="3.2" fill="none" stroke="#ecd070" stroke-opacity="0.8" stroke-width="0.6" style="mix-blend-mode:multiply"/>
<rect x="279.6" y="349.85" width="9.3" height="3.2" fill="none" stroke="#ecd070" stroke-opacity="0.8" stroke-width="0.7" style="mix-blend-mode:multiply"/>
<circle cx="32.5" cy="351.45" r="1.4" fill="#96201a" fill-opacity="0.85"/>
<circle cx="54" cy="351.45" r="1.0" fill="#96201a" fill-opacity="0.85"/>
<circle cx="77.7" cy="351.45" r="1.0" fill="#96201a" fill-opacity="0.85"/>
<circle cx="99.7" cy="351.45" r="1.0" fill="#96201a" fill-opacity="0.85"/>
<circle cx="123.3" cy="351.45" r="1.0" fill="#96201a" fill-opacity="0.85"/>
<circle cx="145.5" cy="351.45" r="1.4" fill="#96201a" fill-opacity="0.85"/>
<circle cx="167.4" cy="351.45" r="1.4" fill="#96201a" fill-opacity="0.85"/>
<circle cx="189.7" cy="351.45" r="1.0" fill="#96201a" fill-opacity="0.85"/>
<circle cx="213.3" cy="351.45" r="1.0" fill="#96201a" fill-opacity="0.85"/>
<circle cx="234.8" cy="351.45" r="1.0" fill="#96201a" fill-opacity="0.85"/>
<circle cx="257.6" cy="351.45" r="1.0" fill="#96201a" fill-opacity="0.85"/>
<circle cx="279.6" cy="351.45" r="1.4" fill="#96201a" fill-opacity="0.85"/>
<circle cx="156.4" cy="351.45" r="1.1" fill="#fcfce0" fill-opacity="0.7"/>
<rect x="31.7" y="366.58" width="257.2" height="1.6" fill="#f8ee60" style="mix-blend-mode:multiply"/>
<rect x="145.5" y="365.78" width="21.9" height="3.2" fill="none" stroke="#ecd070" stroke-opacity="0.8" stroke-width="0.6" style="mix-blend-mode:multiply"/>
<rect x="279.6" y="365.78" width="9.3" height="3.2" fill="none" stroke="#ecd070" stroke-opacity="0.8" stroke-width="0.7" style="mix-blend-mode:multiply"/>
<circle cx="32.5" cy="367.38" r="1.4" fill="#96201a" fill-opacity="0.85"/>
<circle cx="54" cy="367.38" r="1.0" fill="#96201a" fill-opacity="0.85"/>
<circle cx="77.7" cy="367.38" r="1.0" fill="#96201a" fill-opacity="0.85"/>
<circle cx="99.7" cy="367.38" r="1.0" fill="#96201a" fill-opacity="0.85"/>
<circle cx="123.3" cy="367.38" r="1.0" fill="#96201a" fill-opacity="0.85"/>
<circle cx="145.5" cy="367.38" r="1.4" fill="#96201a" fill-opacity="0.85"/>
<circle cx="167.4" cy="367.38" r="1.4" fill="#96201a" fill-opacity="0.85"/>
<circle cx="189.7" cy="367.38" r="1.0" fill="#96201a" fill-opacity="0.85"/>
<circle cx="213.3" cy="367.38" r="1.0" fill="#96201a" fill-opacity="0.85"/>
<circle cx="234.8" cy="367.38" r="1.0" fill="#96201a" fill-opacity="0.85"/>
<circle cx="257.6" cy="367.38" r="1.0" fill="#96201a" fill-opacity="0.85"/>
<circle cx="279.6" cy="367.38" r="1.4" fill="#96201a" fill-opacity="0.85"/>
<circle cx="156.4" cy="367.38" r="1.1" fill="#fcfce0" fill-opacity="0.7"/>
<rect x="31.7" y="382.51" width="257.2" height="1.6" fill="#f8ee60" style="mix-blend-mode:multiply"/>
<rect x="145.5" y="381.71" width="21.9" height="3.2" fill="none" stroke="#ecd070" stroke-opacity="0.8" stroke-width="0.6" style="mix-blend-mode:multiply"/>
<rect x="279.6" y="381.71" width="9.3" height="3.2" fill="none" stroke="#ecd070" stroke-opacity="0.8" stroke-width="0.7" style="mix-blend-mode:multiply"/>
<circle cx="32.5" cy="383.31" r="1.4" fill="#96201a" fill-opacity="0.85"/>
<circle cx="54" cy="383.31" r="1.0" fill="#96201a" fill-opacity="0.85"/>
<circle cx="77.7" cy="383.31" r="1.0" fill="#96201a" fill-opacity="0.85"/>
<circle cx="99.7" cy="383.31" r="1.0" fill="#96201a" fill-opacity="0.85"/>
<circle cx="123.3" cy="383.31" r="1.0" fill="#96201a" fill-opacity="0.85"/>
<circle cx="145.5" cy="383.31" r="1.4" fill="#96201a" fill-opacity="0.85"/>
<circle cx="167.4" cy="383.31" r="1.4" fill="#96201a" fill-opacity="0.85"/>
<circle cx="189.7" cy="383.31" r="1.0" fill="#96201a" fill-opacity="0.85"/>
<circle cx="213.3" cy="383.31" r="1.0" fill="#96201a" fill-opacity="0.85"/>
<circle cx="234.8" cy="383.31" r="1.0" fill="#96201a" fill-opacity="0.85"/>
<circle cx="257.6" cy="383.31" r="1.0" fill="#96201a" fill-opacity="0.85"/>
<circle cx="279.6" cy="383.31" r="1.4" fill="#96201a" fill-opacity="0.85"/>
<circle cx="156.4" cy="383.31" r="1.1" fill="#fcfce0" fill-opacity="0.7"/>
<rect x="31.7" y="398.44" width="257.2" height="1.6" fill="#f8ee60" style="mix-blend-mode:multiply"/>
<rect x="145.5" y="397.64" width="21.9" height="3.2" fill="none" stroke="#ecd070" stroke-opacity="0.8" stroke-width="0.6" style="mix-blend-mode:multiply"/>
<rect x="279.6" y="397.64" width="9.3" height="3.2" fill="none" stroke="#ecd070" stroke-opacity="0.8" stroke-width="0.7" style="mix-blend-mode:multiply"/>
<circle cx="32.5" cy="399.24" r="1.4" fill="#96201a" fill-opacity="0.85"/>
<circle cx="54" cy="399.24" r="1.0" fill="#96201a" fill-opacity="0.85"/>
<circle cx="77.7" cy="399.24" r="1.0" fill="#96201a" fill-opacity="0.85"/>
<circle cx="99.7" cy="399.24" r="1.0" fill="#96201a" fill-opacity="0.85"/>
<circle cx="123.3" cy="399.24" r="1.0" fill="#96201a" fill-opacity="0.85"/>
<circle cx="145.5" cy="399.24" r="1.4" fill="#96201a" fill-opacity="0.85"/>
<circle cx="167.4" cy="399.24" r="1.4" fill="#96201a" fill-opacity="0.85"/>
<circle cx="189.7" cy="399.24" r="1.0" fill="#96201a" fill-opacity="0.85"/>
<circle cx="213.3" cy="399.24" r="1.0" fill="#96201a" fill-opacity="0.85"/>
<circle cx="234.8" cy="399.24" r="1.0" fill="#96201a" fill-opacity="0.85"/>
<circle cx="257.6" cy="399.24" r="1.0" fill="#96201a" fill-opacity="0.85"/>
<circle cx="279.6" cy="399.24" r="1.4" fill="#96201a" fill-opacity="0.85"/>
<circle cx="156.4" cy="399.24" r="1.1" fill="#fcfce0" fill-opacity="0.7"/>
<rect x="31.7" y="414.37" width="257.2" height="1.6" fill="#f8ee60" style="mix-blend-mode:multiply"/>
<rect x="145.5" y="413.57" width="21.9" height="3.2" fill="none" stroke="#ecd070" stroke-opacity="0.8" stroke-width="0.6" style="mix-blend-mode:multiply"/>
<rect x="279.6" y="413.57" width="9.3" height="3.2" fill="none" stroke="#ecd070" stroke-opacity="0.8" stroke-width="0.7" style="mix-blend-mode:multiply"/>
<circle cx="32.5" cy="415.17" r="1.4" fill="#96201a" fill-opacity="0.85"/>
<circle cx="54" cy="415.17" r="1.0" fill="#96201a" fill-opacity="0.85"/>
<circle cx="77.7" cy="415.17" r="1.0" fill="#96201a" fill-opacity="0.85"/>
<circle cx="99.7" cy="415.17" r="1.0" fill="#96201a" fill-opacity="0.85"/>
<circle cx="123.3" cy="415.17" r="1.0" fill="#96201a" fill-opacity="0.85"/>
<circle cx="145.5" cy="415.17" r="1.4" fill="#96201a" fill-opacity="0.85"/>
<circle cx="167.4" cy="415.17" r="1.4" fill="#96201a" fill-opacity="0.85"/>
<circle cx="189.7" cy="415.17" r="1.0" fill="#96201a" fill-opacity="0.85"/>
<circle cx="213.3" cy="415.17" r="1.0" fill="#96201a" fill-opacity="0.85"/>
<circle cx="234.8" cy="415.17" r="1.0" fill="#96201a" fill-opacity="0.85"/>
<circle cx="257.6" cy="415.17" r="1.0" fill="#96201a" fill-opacity="0.85"/>
<circle cx="279.6" cy="415.17" r="1.4" fill="#96201a" fill-opacity="0.85"/>
<circle cx="156.4" cy="415.17" r="1.1" fill="#fcfce0" fill-opacity="0.7"/>
<rect x="31.7" y="430.3" width="257.2" height="1.6" fill="#f8ee60" style="mix-blend-mode:multiply"/>
<rect x="145.5" y="429.5" width="21.9" height="3.2" fill="none" stroke="#ecd070" stroke-opacity="0.8" stroke-width="0.6" style="mix-blend-mode:multiply"/>
<rect x="279.6" y="429.5" width="9.3" height="3.2" fill="none" stroke="#ecd070" stroke-opacity="0.8" stroke-width="0.7" style="mix-blend-mode:multiply"/>
<circle cx="32.5" cy="431.1" r="1.4" fill="#96201a" fill-opacity="0.85"/>
<circle cx="54" cy="431.1" r="1.0" fill="#96201a" fill-opacity="0.85"/>
<circle cx="77.7" cy="431.1" r="1.0" fill="#96201a" fill-opacity="0.85"/>
<circle cx="99.7" cy="431.1" r="1.0" fill="#96201a" fill-opacity="0.85"/>
<circle cx="123.3" cy="431.1" r="1.0" fill="#96201a" fill-opacity="0.85"/>
<circle cx="145.5" cy="431.1" r="1.4" fill="#96201a" fill-opacity="0.85"/>
<circle cx="167.4" cy="431.1" r="1.4" fill="#96201a" fill-opacity="0.85"/>
<circle cx="189.7" cy="431.1" r="1.0" fill="#96201a" fill-opacity="0.85"/>
<circle cx="213.3" cy="431.1" r="1.0" fill="#96201a" fill-opacity="0.85"/>
<circle cx="234.8" cy="431.1" r="1.0" fill="#96201a" fill-opacity="0.85"/>
<circle cx="257.6" cy="431.1" r="1.0" fill="#96201a" fill-opacity="0.85"/>
<circle cx="279.6" cy="431.1" r="1.4" fill="#96201a" fill-opacity="0.85"/>
<circle cx="156.4" cy="431.1" r="1.1" fill="#fcfce0" fill-opacity="0.7"/>
<rect x="31.7" y="446.23" width="257.2" height="1.6" fill="#f8ee60" style="mix-blend-mode:multiply"/>
<rect x="145.5" y="445.43" width="21.9" height="3.2" fill="none" stroke="#ecd070" stroke-opacity="0.8" stroke-width="0.6" style="mix-blend-mode:multiply"/>
<rect x="279.6" y="445.43" width="9.3" height="3.2" fill="none" stroke="#ecd070" stroke-opacity="0.8" stroke-width="0.7" style="mix-blend-mode:multiply"/>
<circle cx="32.5" cy="447.03" r="1.4" fill="#96201a" fill-opacity="0.85"/>
<circle cx="54" cy="447.03" r="1.0" fill="#96201a" fill-opacity="0.85"/>
<circle cx="77.7" cy="447.03" r="1.0" fill="#96201a" fill-opacity="0.85"/>
<circle cx="99.7" cy="447.03" r="1.0" fill="#96201a" fill-opacity="0.85"/>
<circle cx="123.3" cy="447.03" r="1.0" fill="#96201a" fill-opacity="0.85"/>
<circle cx="145.5" cy="447.03" r="1.4" fill="#96201a" fill-opacity="0.85"/>
<circle cx="167.4" cy="447.03" r="1.4" fill="#96201a" fill-opacity="0.85"/>
<circle cx="189.7" cy="447.03" r="1.0" fill="#96201a" fill-opacity="0.85"/>
<circle cx="213.3" cy="447.03" r="1.0" fill="#96201a" fill-opacity="0.85"/>
<circle cx="234.8" cy="447.03" r="1.0" fill="#96201a" fill-opacity="0.85"/>
<circle cx="257.6" cy="447.03" r="1.0" fill="#96201a" fill-opacity="0.85"/>
<circle cx="279.6" cy="447.03" r="1.4" fill="#96201a" fill-opacity="0.85"/>
<circle cx="156.4" cy="447.03" r="1.1" fill="#fcfce0" fill-opacity="0.7"/>
<rect x="31.7" y="462.16" width="257.2" height="1.6" fill="#f8ee60" style="mix-blend-mode:multiply"/>
<rect x="145.5" y="461.36" width="21.9" height="3.2" fill="none" stroke="#ecd070" stroke-opacity="0.8" stroke-width="0.6" style="mix-blend-mode:multiply"/>
<rect x="279.6" y="461.36" width="9.3" height="3.2" fill="none" stroke="#ecd070" stroke-opacity="0.8" stroke-width="0.7" style="mix-blend-mode:multiply"/>
<circle cx="32.5" cy="462.96" r="1.4" fill="#96201a" fill-opacity="0.85"/>
<circle cx="54" cy="462.96" r="1.0" fill="#96201a" fill-opacity="0.85"/>
<circle cx="77.7" cy="462.96" r="1.0" fill="#96201a" fill-opacity="0.85"/>
<circle cx="99.7" cy="462.96" r="1.0" fill="#96201a" fill-opacity="0.85"/>
<circle cx="123.3" cy="462.96" r="1.0" fill="#96201a" fill-opacity="0.85"/>
<circle cx="145.5" cy="462.96" r="1.4" fill="#96201a" fill-opacity="0.85"/>
<circle cx="167.4" cy="462.96" r="1.4" fill="#96201a" fill-opacity="0.85"/>
<circle cx="189.7" cy="462.96" r="1.0" fill="#96201a" fill-opacity="0.85"/>
<circle cx="213.3" cy="462.96" r="1.0" fill="#96201a" fill-opacity="0.85"/>
<circle cx="234.8" cy="462.96" r="1.0" fill="#96201a" fill-opacity="0.85"/>
<circle cx="257.6" cy="462.96" r="1.0" fill="#96201a" fill-opacity="0.85"/>
<circle cx="279.6" cy="462.96" r="1.4" fill="#96201a" fill-opacity="0.85"/>
<circle cx="156.4" cy="462.96" r="1.1" fill="#fcfce0" fill-opacity="0.7"/>
<rect x="31.7" y="478.09" width="257.2" height="1.6" fill="#f8ee60" style="mix-blend-mode:multiply"/>
<rect x="145.5" y="477.29" width="21.9" height="3.2" fill="none" stroke="#ecd070" stroke-opacity="0.8" stroke-width="0.6" style="mix-blend-mode:multiply"/>
<rect x="279.6" y="477.29" width="9.3" height="3.2" fill="none" stroke="#ecd070" stroke-opacity="0.8" stroke-width="0.7" style="mix-blend-mode:multiply"/>
<circle cx="32.5" cy="478.89" r="1.4" fill="#96201a" fill-opacity="0.85"/>
<circle cx="54" cy="478.89" r="1.0" fill="#96201a" fill-opacity="0.85"/>
<circle cx="77.7" cy="478.89" r="1.0" fill="#96201a" fill-opacity="0.85"/>
<circle cx="99.7" cy="478.89" r="1.0" fill="#96201a" fill-opacity="0.85"/>
<circle cx="123.3" cy="478.89" r="1.0" fill="#96201a" fill-opacity="0.85"/>
<circle cx="145.5" cy="478.89" r="1.4" fill="#96201a" fill-opacity="0.85"/>
<circle cx="167.4" cy="478.89" r="1.4" fill="#96201a" fill-opacity="0.85"/>
<circle cx="189.7" cy="478.89" r="1.0" fill="#96201a" fill-opacity="0.85"/>
<circle cx="213.3" cy="478.89" r="1.0" fill="#96201a" fill-opacity="0.85"/>
<circle cx="234.8" cy="478.89" r="1.0" fill="#96201a" fill-opacity="0.85"/>
<circle cx="257.6" cy="478.89" r="1.0" fill="#96201a" fill-opacity="0.85"/>
<circle cx="279.6" cy="478.89" r="1.4" fill="#96201a" fill-opacity="0.85"/>
<circle cx="156.4" cy="478.89" r="1.1" fill="#fcfce0" fill-opacity="0.7"/>
<rect x="31.7" y="494.02" width="257.2" height="1.6" fill="#f8ee60" style="mix-blend-mode:multiply"/>
<rect x="145.5" y="493.22" width="21.9" height="3.2" fill="none" stroke="#ecd070" stroke-opacity="0.8" stroke-width="0.6" style="mix-blend-mode:multiply"/>
<rect x="279.6" y="493.22" width="9.3" height="3.2" fill="none" stroke="#ecd070" stroke-opacity="0.8" stroke-width="0.7" style="mix-blend-mode:multiply"/>
<circle cx="32.5" cy="494.82" r="1.4" fill="#96201a" fill-opacity="0.85"/>
<circle cx="54" cy="494.82" r="1.0" fill="#96201a" fill-opacity="0.85"/>
<circle cx="77.7" cy="494.82" r="1.0" fill="#96201a" fill-opacity="0.85"/>
<circle cx="99.7" cy="494.82" r="1.0" fill="#96201a" fill-opacity="0.85"/>
<circle cx="123.3" cy="494.82" r="1.0" fill="#96201a" fill-opacity="0.85"/>
<circle cx="145.5" cy="494.82" r="1.4" fill="#96201a" fill-opacity="0.85"/>
<circle cx="167.4" cy="494.82" r="1.4" fill="#96201a" fill-opacity="0.85"/>
<circle cx="189.7" cy="494.82" r="1.0" fill="#96201a" fill-opacity="0.85"/>
<circle cx="213.3" cy="494.82" r="1.0" fill="#96201a" fill-opacity="0.85"/>
<circle cx="234.8" cy="494.82" r="1.0" fill="#96201a" fill-opacity="0.85"/>
<circle cx="257.6" cy="494.82" r="1.0" fill="#96201a" fill-opacity="0.85"/>
<circle cx="279.6" cy="494.82" r="1.4" fill="#96201a" fill-opacity="0.85"/>
<circle cx="156.4" cy="494.82" r="1.1" fill="#fcfce0" fill-opacity="0.7"/>
<rect x="31.7" y="509.95" width="257.2" height="1.6" fill="#f8ee60" style="mix-blend-mode:multiply"/>
<rect x="145.5" y="509.15" width="21.9" height="3.2" fill="none" stroke="#ecd070" stroke-opacity="0.8" stroke-width="0.6" style="mix-blend-mode:multiply"/>
<rect x="279.6" y="509.15" width="9.3" height="3.2" fill="none" stroke="#ecd070" stroke-opacity="0.8" stroke-width="0.7" style="mix-blend-mode:multiply"/>
<circle cx="32.5" cy="510.75" r="1.4" fill="#96201a" fill-opacity="0.85"/>
<circle cx="54" cy="510.75" r="1.0" fill="#96201a" fill-opacity="0.85"/>
<circle cx="77.7" cy="510.75" r="1.0" fill="#96201a" fill-opacity="0.85"/>
<circle cx="99.7" cy="510.75" r="1.0" fill="#96201a" fill-opacity="0.85"/>
<circle cx="123.3" cy="510.75" r="1.0" fill="#96201a" fill-opacity="0.85"/>
<circle cx="145.5" cy="510.75" r="1.4" fill="#96201a" fill-opacity="0.85"/>
<circle cx="167.4" cy="510.75" r="1.4" fill="#96201a" fill-opacity="0.85"/>
<circle cx="189.7" cy="510.75" r="1.0" fill="#96201a" fill-opacity="0.85"/>
<circle cx="213.3" cy="510.75" r="1.0" fill="#96201a" fill-opacity="0.85"/>
<circle cx="234.8" cy="510.75" r="1.0" fill="#96201a" fill-opacity="0.85"/>
<circle cx="257.6" cy="510.75" r="1.0" fill="#96201a" fill-opacity="0.85"/>
<circle cx="279.6" cy="510.75" r="1.4" fill="#96201a" fill-opacity="0.85"/>
<circle cx="156.4" cy="510.75" r="1.1" fill="#fcfce0" fill-opacity="0.7"/>
<path d="M279.9,258.4 L288.9,258.4 L288.9,267.4 Z" fill="#111"/>
<path d="M285.4,516.7 L288.9,516.7 L288.9,513.2 Z" fill="#222"/>
<rect x="45.3" y="505.3" width="14.6" height="1.7" fill="#111"/>
</g>
<g>
<rect x="348.2" y="258" width="258.2" height="258.5" fill="#e42a1c"/>
<rect x="348.2" y="258" width="258.2" height="258.5" fill="url(#dctr)"/>
<rect x="348.2" y="258" width="258.2" height="258.5" fill="url(#dside)"/>
<rect x="348.2" y="258" width="258.2" height="258.5" fill="url(#dtop)"/>
<rect x="348.2" y="258" width="258.2" height="258.5" fill="url(#fingd)"/>
<rect x="348.2" y="271.75" width="258.2" height="0.9" fill="#4a0808" fill-opacity="0.3"/>
<rect x="461.33" y="270.6" width="21.9" height="3.2" fill="none" stroke="#4a0808" stroke-opacity="0.18" stroke-width="0.6"/>
<rect x="596.8" y="270.6" width="9.6" height="3.2" fill="none" stroke="#4a0808" stroke-opacity="0.3" stroke-width="0.7"/>
<circle cx="368.9" cy="272.2" r="1.0" fill="#1a0505" fill-opacity="0.85"/>
<circle cx="392.84" cy="272.2" r="1.0" fill="#1a0505" fill-opacity="0.85"/>
<circle cx="415.07" cy="272.2" r="1.0" fill="#1a0505" fill-opacity="0.85"/>
<circle cx="438.91" cy="272.2" r="1.0" fill="#1a0505" fill-opacity="0.85"/>
<circle cx="461.33" cy="272.2" r="1.4" fill="#1a0505" fill-opacity="0.85"/>
<circle cx="483.46" cy="272.2" r="1.4" fill="#1a0505" fill-opacity="0.85"/>
<circle cx="505.98" cy="272.2" r="1.0" fill="#1a0505" fill-opacity="0.85"/>
<circle cx="529.82" cy="272.2" r="1.0" fill="#1a0505" fill-opacity="0.85"/>
<circle cx="551.54" cy="272.2" r="1.0" fill="#1a0505" fill-opacity="0.85"/>
<circle cx="574.58" cy="272.2" r="1.0" fill="#1a0505" fill-opacity="0.85"/>
<circle cx="596.8" cy="272.2" r="1.4" fill="#1a0505" fill-opacity="0.85"/>
<circle cx="472.34" cy="272.2" r="1.2" fill="#f49a40" fill-opacity="0.75"/>
<rect x="348.2" y="287.68" width="258.2" height="0.9" fill="#4a0808" fill-opacity="0.3"/>
<rect x="461.33" y="286.53" width="21.9" height="3.2" fill="none" stroke="#4a0808" stroke-opacity="0.18" stroke-width="0.6"/>
<rect x="596.8" y="286.53" width="9.6" height="3.2" fill="none" stroke="#4a0808" stroke-opacity="0.3" stroke-width="0.7"/>
<circle cx="368.9" cy="288.13" r="1.0" fill="#1a0505" fill-opacity="0.85"/>
<circle cx="392.84" cy="288.13" r="1.0" fill="#1a0505" fill-opacity="0.85"/>
<circle cx="415.07" cy="288.13" r="1.0" fill="#1a0505" fill-opacity="0.85"/>
<circle cx="438.91" cy="288.13" r="1.0" fill="#1a0505" fill-opacity="0.85"/>
<circle cx="461.33" cy="288.13" r="1.4" fill="#1a0505" fill-opacity="0.85"/>
<circle cx="483.46" cy="288.13" r="1.4" fill="#1a0505" fill-opacity="0.85"/>
<circle cx="505.98" cy="288.13" r="1.0" fill="#1a0505" fill-opacity="0.85"/>
<circle cx="529.82" cy="288.13" r="1.0" fill="#1a0505" fill-opacity="0.85"/>
<circle cx="551.54" cy="288.13" r="1.0" fill="#1a0505" fill-opacity="0.85"/>
<circle cx="574.58" cy="288.13" r="1.0" fill="#1a0505" fill-opacity="0.85"/>
<circle cx="596.8" cy="288.13" r="1.4" fill="#1a0505" fill-opacity="0.85"/>
<circle cx="472.34" cy="288.13" r="1.2" fill="#f49a40" fill-opacity="0.75"/>
<rect x="348.2" y="303.61" width="258.2" height="0.9" fill="#4a0808" fill-opacity="0.3"/>
<rect x="461.33" y="302.46" width="21.9" height="3.2" fill="none" stroke="#4a0808" stroke-opacity="0.18" stroke-width="0.6"/>
<rect x="596.8" y="302.46" width="9.6" height="3.2" fill="none" stroke="#4a0808" stroke-opacity="0.3" stroke-width="0.7"/>
<circle cx="368.9" cy="304.06" r="1.0" fill="#1a0505" fill-opacity="0.85"/>
<circle cx="392.84" cy="304.06" r="1.0" fill="#1a0505" fill-opacity="0.85"/>
<circle cx="415.07" cy="304.06" r="1.0" fill="#1a0505" fill-opacity="0.85"/>
<circle cx="438.91" cy="304.06" r="1.0" fill="#1a0505" fill-opacity="0.85"/>
<circle cx="461.33" cy="304.06" r="1.4" fill="#1a0505" fill-opacity="0.85"/>
<circle cx="483.46" cy="304.06" r="1.4" fill="#1a0505" fill-opacity="0.85"/>
<circle cx="505.98" cy="304.06" r="1.0" fill="#1a0505" fill-opacity="0.85"/>
<circle cx="529.82" cy="304.06" r="1.0" fill="#1a0505" fill-opacity="0.85"/>
<circle cx="551.54" cy="304.06" r="1.0" fill="#1a0505" fill-opacity="0.85"/>
<circle cx="574.58" cy="304.06" r="1.0" fill="#1a0505" fill-opacity="0.85"/>
<circle cx="596.8" cy="304.06" r="1.4" fill="#1a0505" fill-opacity="0.85"/>
<circle cx="472.34" cy="304.06" r="1.2" fill="#f49a40" fill-opacity="0.75"/>
<rect x="348.2" y="319.54" width="258.2" height="0.9" fill="#4a0808" fill-opacity="0.3"/>
<rect x="461.33" y="318.39" width="21.9" height="3.2" fill="none" stroke="#4a0808" stroke-opacity="0.18" stroke-width="0.6"/>
<rect x="596.8" y="318.39" width="9.6" height="3.2" fill="none" stroke="#4a0808" stroke-opacity="0.3" stroke-width="0.7"/>
<circle cx="368.9" cy="319.99" r="1.0" fill="#1a0505" fill-opacity="0.85"/>
<circle cx="392.84" cy="319.99" r="1.0" fill="#1a0505" fill-opacity="0.85"/>
<circle cx="415.07" cy="319.99" r="1.0" fill="#1a0505" fill-opacity="0.85"/>
<circle cx="438.91" cy="319.99" r="1.0" fill="#1a0505" fill-opacity="0.85"/>
<circle cx="461.33" cy="319.99" r="1.4" fill="#1a0505" fill-opacity="0.85"/>
<circle cx="483.46" cy="319.99" r="1.4" fill="#1a0505" fill-opacity="0.85"/>
<circle cx="505.98" cy="319.99" r="1.0" fill="#1a0505" fill-opacity="0.85"/>
<circle cx="529.82" cy="319.99" r="1.0" fill="#1a0505" fill-opacity="0.85"/>
<circle cx="551.54" cy="319.99" r="1.0" fill="#1a0505" fill-opacity="0.85"/>
<circle cx="574.58" cy="319.99" r="1.0" fill="#1a0505" fill-opacity="0.85"/>
<circle cx="596.8" cy="319.99" r="1.4" fill="#1a0505" fill-opacity="0.85"/>
<circle cx="472.34" cy="319.99" r="1.2" fill="#f49a40" fill-opacity="0.75"/>
<rect x="348.2" y="335.47" width="258.2" height="0.9" fill="#4a0808" fill-opacity="0.3"/>
<rect x="461.33" y="334.32" width="21.9" height="3.2" fill="none" stroke="#4a0808" stroke-opacity="0.18" stroke-width="0.6"/>
<rect x="596.8" y="334.32" width="9.6" height="3.2" fill="none" stroke="#4a0808" stroke-opacity="0.3" stroke-width="0.7"/>
<circle cx="368.9" cy="335.92" r="1.0" fill="#1a0505" fill-opacity="0.85"/>
<circle cx="392.84" cy="335.92" r="1.0" fill="#1a0505" fill-opacity="0.85"/>
<circle cx="415.07" cy="335.92" r="1.0" fill="#1a0505" fill-opacity="0.85"/>
<circle cx="438.91" cy="335.92" r="1.0" fill="#1a0505" fill-opacity="0.85"/>
<circle cx="461.33" cy="335.92" r="1.4" fill="#1a0505" fill-opacity="0.85"/>
<circle cx="483.46" cy="335.92" r="1.4" fill="#1a0505" fill-opacity="0.85"/>
<circle cx="505.98" cy="335.92" r="1.0" fill="#1a0505" fill-opacity="0.85"/>
<circle cx="529.82" cy="335.92" r="1.0" fill="#1a0505" fill-opacity="0.85"/>
<circle cx="551.54" cy="335.92" r="1.0" fill="#1a0505" fill-opacity="0.85"/>
<circle cx="574.58" cy="335.92" r="1.0" fill="#1a0505" fill-opacity="0.85"/>
<circle cx="596.8" cy="335.92" r="1.4" fill="#1a0505" fill-opacity="0.85"/>
<circle cx="472.34" cy="335.92" r="1.2" fill="#f49a40" fill-opacity="0.75"/>
<rect x="348.2" y="351.4" width="258.2" height="0.9" fill="#4a0808" fill-opacity="0.3"/>
<rect x="461.33" y="350.25" width="21.9" height="3.2" fill="none" stroke="#4a0808" stroke-opacity="0.18" stroke-width="0.6"/>
<rect x="596.8" y="350.25" width="9.6" height="3.2" fill="none" stroke="#4a0808" stroke-opacity="0.3" stroke-width="0.7"/>
<circle cx="368.9" cy="351.85" r="1.0" fill="#1a0505" fill-opacity="0.85"/>
<circle cx="392.84" cy="351.85" r="1.0" fill="#1a0505" fill-opacity="0.85"/>
<circle cx="415.07" cy="351.85" r="1.0" fill="#1a0505" fill-opacity="0.85"/>
<circle cx="438.91" cy="351.85" r="1.0" fill="#1a0505" fill-opacity="0.85"/>
<circle cx="461.33" cy="351.85" r="1.4" fill="#1a0505" fill-opacity="0.85"/>
<circle cx="483.46" cy="351.85" r="1.4" fill="#1a0505" fill-opacity="0.85"/>
<circle cx="505.98" cy="351.85" r="1.0" fill="#1a0505" fill-opacity="0.85"/>
<circle cx="529.82" cy="351.85" r="1.0" fill="#1a0505" fill-opacity="0.85"/>
<circle cx="551.54" cy="351.85" r="1.0" fill="#1a0505" fill-opacity="0.85"/>
<circle cx="574.58" cy="351.85" r="1.0" fill="#1a0505" fill-opacity="0.85"/>
<circle cx="596.8" cy="351.85" r="1.4" fill="#1a0505" fill-opacity="0.85"/>
<circle cx="472.34" cy="351.85" r="1.2" fill="#f49a40" fill-opacity="0.75"/>
<rect x="348.2" y="367.33" width="258.2" height="0.9" fill="#4a0808" fill-opacity="0.3"/>
<rect x="461.33" y="366.18" width="21.9" height="3.2" fill="none" stroke="#4a0808" stroke-opacity="0.18" stroke-width="0.6"/>
<rect x="596.8" y="366.18" width="9.6" height="3.2" fill="none" stroke="#4a0808" stroke-opacity="0.3" stroke-width="0.7"/>
<circle cx="368.9" cy="367.78" r="1.0" fill="#1a0505" fill-opacity="0.85"/>
<circle cx="392.84" cy="367.78" r="1.0" fill="#1a0505" fill-opacity="0.85"/>
<circle cx="415.07" cy="367.78" r="1.0" fill="#1a0505" fill-opacity="0.85"/>
<circle cx="438.91" cy="367.78" r="1.0" fill="#1a0505" fill-opacity="0.85"/>
<circle cx="461.33" cy="367.78" r="1.4" fill="#1a0505" fill-opacity="0.85"/>
<circle cx="483.46" cy="367.78" r="1.4" fill="#1a0505" fill-opacity="0.85"/>
<circle cx="505.98" cy="367.78" r="1.0" fill="#1a0505" fill-opacity="0.85"/>
<circle cx="529.82" cy="367.78" r="1.0" fill="#1a0505" fill-opacity="0.85"/>
<circle cx="551.54" cy="367.78" r="1.0" fill="#1a0505" fill-opacity="0.85"/>
<circle cx="574.58" cy="367.78" r="1.0" fill="#1a0505" fill-opacity="0.85"/>
<circle cx="596.8" cy="367.78" r="1.4" fill="#1a0505" fill-opacity="0.85"/>
<circle cx="472.34" cy="367.78" r="1.2" fill="#f49a40" fill-opacity="0.75"/>
<rect x="348.2" y="383.26" width="258.2" height="0.9" fill="#4a0808" fill-opacity="0.3"/>
<rect x="461.33" y="382.11" width="21.9" height="3.2" fill="none" stroke="#4a0808" stroke-opacity="0.18" stroke-width="0.6"/>
<rect x="596.8" y="382.11" width="9.6" height="3.2" fill="none" stroke="#4a0808" stroke-opacity="0.3" stroke-width="0.7"/>
<circle cx="368.9" cy="383.71" r="1.0" fill="#1a0505" fill-opacity="0.85"/>
<circle cx="392.84" cy="383.71" r="1.0" fill="#1a0505" fill-opacity="0.85"/>
<circle cx="415.07" cy="383.71" r="1.0" fill="#1a0505" fill-opacity="0.85"/>
<circle cx="438.91" cy="383.71" r="1.0" fill="#1a0505" fill-opacity="0.85"/>
<circle cx="461.33" cy="383.71" r="1.4" fill="#1a0505" fill-opacity="0.85"/>
<circle cx="483.46" cy="383.71" r="1.4" fill="#1a0505" fill-opacity="0.85"/>
<circle cx="505.98" cy="383.71" r="1.0" fill="#1a0505" fill-opacity="0.85"/>
<circle cx="529.82" cy="383.71" r="1.0" fill="#1a0505" fill-opacity="0.85"/>
<circle cx="551.54" cy="383.71" r="1.0" fill="#1a0505" fill-opacity="0.85"/>
<circle cx="574.58" cy="383.71" r="1.0" fill="#1a0505" fill-opacity="0.85"/>
<circle cx="596.8" cy="383.71" r="1.4" fill="#1a0505" fill-opacity="0.85"/>
<circle cx="472.34" cy="383.71" r="1.2" fill="#f49a40" fill-opacity="0.75"/>
<rect x="348.2" y="399.19" width="258.2" height="0.9" fill="#4a0808" fill-opacity="0.3"/>
<rect x="461.33" y="398.04" width="21.9" height="3.2" fill="none" stroke="#4a0808" stroke-opacity="0.18" stroke-width="0.6"/>
<rect x="596.8" y="398.04" width="9.6" height="3.2" fill="none" stroke="#4a0808" stroke-opacity="0.3" stroke-width="0.7"/>
<circle cx="368.9" cy="399.64" r="1.0" fill="#1a0505" fill-opacity="0.85"/>
<circle cx="392.84" cy="399.64" r="1.0" fill="#1a0505" fill-opacity="0.85"/>
<circle cx="415.07" cy="399.64" r="1.0" fill="#1a0505" fill-opacity="0.85"/>
<circle cx="438.91" cy="399.64" r="1.0" fill="#1a0505" fill-opacity="0.85"/>
<circle cx="461.33" cy="399.64" r="1.4" fill="#1a0505" fill-opacity="0.85"/>
<circle cx="483.46" cy="399.64" r="1.4" fill="#1a0505" fill-opacity="0.85"/>
<circle cx="505.98" cy="399.64" r="1.0" fill="#1a0505" fill-opacity="0.85"/>
<circle cx="529.82" cy="399.64" r="1.0" fill="#1a0505" fill-opacity="0.85"/>
<circle cx="551.54" cy="399.64" r="1.0" fill="#1a0505" fill-opacity="0.85"/>
<circle cx="574.58" cy="399.64" r="1.0" fill="#1a0505" fill-opacity="0.85"/>
<circle cx="596.8" cy="399.64" r="1.4" fill="#1a0505" fill-opacity="0.85"/>
<circle cx="472.34" cy="399.64" r="1.2" fill="#f49a40" fill-opacity="0.75"/>
<rect x="348.2" y="415.12" width="258.2" height="0.9" fill="#4a0808" fill-opacity="0.3"/>
<rect x="461.33" y="413.97" width="21.9" height="3.2" fill="none" stroke="#4a0808" stroke-opacity="0.18" stroke-width="0.6"/>
<rect x="596.8" y="413.97" width="9.6" height="3.2" fill="none" stroke="#4a0808" stroke-opacity="0.3" stroke-width="0.7"/>
<circle cx="368.9" cy="415.57" r="1.0" fill="#1a0505" fill-opacity="0.85"/>
<circle cx="392.84" cy="415.57" r="1.0" fill="#1a0505" fill-opacity="0.85"/>
<circle cx="415.07" cy="415.57" r="1.0" fill="#1a0505" fill-opacity="0.85"/>
<circle cx="438.91" cy="415.57" r="1.0" fill="#1a0505" fill-opacity="0.85"/>
<circle cx="461.33" cy="415.57" r="1.4" fill="#1a0505" fill-opacity="0.85"/>
<circle cx="483.46" cy="415.57" r="1.4" fill="#1a0505" fill-opacity="0.85"/>
<circle cx="505.98" cy="415.57" r="1.0" fill="#1a0505" fill-opacity="0.85"/>
<circle cx="529.82" cy="415.57" r="1.0" fill="#1a0505" fill-opacity="0.85"/>
<circle cx="551.54" cy="415.57" r="1.0" fill="#1a0505" fill-opacity="0.85"/>
<circle cx="574.58" cy="415.57" r="1.0" fill="#1a0505" fill-opacity="0.85"/>
<circle cx="596.8" cy="415.57" r="1.4" fill="#1a0505" fill-opacity="0.85"/>
<circle cx="472.34" cy="415.57" r="1.2" fill="#f49a40" fill-opacity="0.75"/>
<rect x="348.2" y="431.05" width="258.2" height="0.9" fill="#4a0808" fill-opacity="0.3"/>
<rect x="461.33" y="429.9" width="21.9" height="3.2" fill="none" stroke="#4a0808" stroke-opacity="0.18" stroke-width="0.6"/>
<rect x="596.8" y="429.9" width="9.6" height="3.2" fill="none" stroke="#4a0808" stroke-opacity="0.3" stroke-width="0.7"/>
<circle cx="368.9" cy="431.5" r="1.0" fill="#1a0505" fill-opacity="0.85"/>
<circle cx="392.84" cy="431.5" r="1.0" fill="#1a0505" fill-opacity="0.85"/>
<circle cx="415.07" cy="431.5" r="1.0" fill="#1a0505" fill-opacity="0.85"/>
<circle cx="438.91" cy="431.5" r="1.0" fill="#1a0505" fill-opacity="0.85"/>
<circle cx="461.33" cy="431.5" r="1.4" fill="#1a0505" fill-opacity="0.85"/>
<circle cx="483.46" cy="431.5" r="1.4" fill="#1a0505" fill-opacity="0.85"/>
<circle cx="505.98" cy="431.5" r="1.0" fill="#1a0505" fill-opacity="0.85"/>
<circle cx="529.82" cy="431.5" r="1.0" fill="#1a0505" fill-opacity="0.85"/>
<circle cx="551.54" cy="431.5" r="1.0" fill="#1a0505" fill-opacity="0.85"/>
<circle cx="574.58" cy="431.5" r="1.0" fill="#1a0505" fill-opacity="0.85"/>
<circle cx="596.8" cy="431.5" r="1.4" fill="#1a0505" fill-opacity="0.85"/>
<circle cx="472.34" cy="431.5" r="1.2" fill="#f49a40" fill-opacity="0.75"/>
<rect x="348.2" y="446.98" width="258.2" height="0.9" fill="#4a0808" fill-opacity="0.3"/>
<rect x="461.33" y="445.83" width="21.9" height="3.2" fill="none" stroke="#4a0808" stroke-opacity="0.18" stroke-width="0.6"/>
<rect x="596.8" y="445.83" width="9.6" height="3.2" fill="none" stroke="#4a0808" stroke-opacity="0.3" stroke-width="0.7"/>
<circle cx="368.9" cy="447.43" r="1.0" fill="#1a0505" fill-opacity="0.85"/>
<circle cx="392.84" cy="447.43" r="1.0" fill="#1a0505" fill-opacity="0.85"/>
<circle cx="415.07" cy="447.43" r="1.0" fill="#1a0505" fill-opacity="0.85"/>
<circle cx="438.91" cy="447.43" r="1.0" fill="#1a0505" fill-opacity="0.85"/>
<circle cx="461.33" cy="447.43" r="1.4" fill="#1a0505" fill-opacity="0.85"/>
<circle cx="483.46" cy="447.43" r="1.4" fill="#1a0505" fill-opacity="0.85"/>
<circle cx="505.98" cy="447.43" r="1.0" fill="#1a0505" fill-opacity="0.85"/>
<circle cx="529.82" cy="447.43" r="1.0" fill="#1a0505" fill-opacity="0.85"/>
<circle cx="551.54" cy="447.43" r="1.0" fill="#1a0505" fill-opacity="0.85"/>
<circle cx="574.58" cy="447.43" r="1.0" fill="#1a0505" fill-opacity="0.85"/>
<circle cx="596.8" cy="447.43" r="1.4" fill="#1a0505" fill-opacity="0.85"/>
<circle cx="472.34" cy="447.43" r="1.2" fill="#f49a40" fill-opacity="0.75"/>
<rect x="348.2" y="462.91" width="258.2" height="0.9" fill="#4a0808" fill-opacity="0.3"/>
<rect x="461.33" y="461.76" width="21.9" height="3.2" fill="none" stroke="#4a0808" stroke-opacity="0.18" stroke-width="0.6"/>
<rect x="596.8" y="461.76" width="9.6" height="3.2" fill="none" stroke="#4a0808" stroke-opacity="0.3" stroke-width="0.7"/>
<circle cx="368.9" cy="463.36" r="1.0" fill="#1a0505" fill-opacity="0.85"/>
<circle cx="392.84" cy="463.36" r="1.0" fill="#1a0505" fill-opacity="0.85"/>
<circle cx="415.07" cy="463.36" r="1.0" fill="#1a0505" fill-opacity="0.85"/>
<circle cx="438.91" cy="463.36" r="1.0" fill="#1a0505" fill-opacity="0.85"/>
<circle cx="461.33" cy="463.36" r="1.4" fill="#1a0505" fill-opacity="0.85"/>
<circle cx="483.46" cy="463.36" r="1.4" fill="#1a0505" fill-opacity="0.85"/>
<circle cx="505.98" cy="463.36" r="1.0" fill="#1a0505" fill-opacity="0.85"/>
<circle cx="529.82" cy="463.36" r="1.0" fill="#1a0505" fill-opacity="0.85"/>
<circle cx="551.54" cy="463.36" r="1.0" fill="#1a0505" fill-opacity="0.85"/>
<circle cx="574.58" cy="463.36" r="1.0" fill="#1a0505" fill-opacity="0.85"/>
<circle cx="596.8" cy="463.36" r="1.4" fill="#1a0505" fill-opacity="0.85"/>
<circle cx="472.34" cy="463.36" r="1.2" fill="#f49a40" fill-opacity="0.75"/>
<rect x="348.2" y="478.84" width="258.2" height="0.9" fill="#4a0808" fill-opacity="0.3"/>
<rect x="461.33" y="477.69" width="21.9" height="3.2" fill="none" stroke="#4a0808" stroke-opacity="0.18" stroke-width="0.6"/>
<rect x="596.8" y="477.69" width="9.6" height="3.2" fill="none" stroke="#4a0808" stroke-opacity="0.3" stroke-width="0.7"/>
<circle cx="368.9" cy="479.29" r="1.0" fill="#1a0505" fill-opacity="0.85"/>
<circle cx="392.84" cy="479.29" r="1.0" fill="#1a0505" fill-opacity="0.85"/>
<circle cx="415.07" cy="479.29" r="1.0" fill="#1a0505" fill-opacity="0.85"/>
<circle cx="438.91" cy="479.29" r="1.0" fill="#1a0505" fill-opacity="0.85"/>
<circle cx="461.33" cy="479.29" r="1.4" fill="#1a0505" fill-opacity="0.85"/>
<circle cx="483.46" cy="479.29" r="1.4" fill="#1a0505" fill-opacity="0.85"/>
<circle cx="505.98" cy="479.29" r="1.0" fill="#1a0505" fill-opacity="0.85"/>
<circle cx="529.82" cy="479.29" r="1.0" fill="#1a0505" fill-opacity="0.85"/>
<circle cx="551.54" cy="479.29" r="1.0" fill="#1a0505" fill-opacity="0.85"/>
<circle cx="574.58" cy="479.29" r="1.0" fill="#1a0505" fill-opacity="0.85"/>
<circle cx="596.8" cy="479.29" r="1.4" fill="#1a0505" fill-opacity="0.85"/>
<circle cx="472.34" cy="479.29" r="1.2" fill="#f49a40" fill-opacity="0.75"/>
<rect x="348.2" y="494.77" width="258.2" height="0.9" fill="#4a0808" fill-opacity="0.3"/>
<rect x="461.33" y="493.62" width="21.9" height="3.2" fill="none" stroke="#4a0808" stroke-opacity="0.18" stroke-width="0.6"/>
<rect x="596.8" y="493.62" width="9.6" height="3.2" fill="none" stroke="#4a0808" stroke-opacity="0.3" stroke-width="0.7"/>
<circle cx="368.9" cy="495.22" r="1.0" fill="#1a0505" fill-opacity="0.85"/>
<circle cx="392.84" cy="495.22" r="1.0" fill="#1a0505" fill-opacity="0.85"/>
<circle cx="415.07" cy="495.22" r="1.0" fill="#1a0505" fill-opacity="0.85"/>
<circle cx="438.91" cy="495.22" r="1.0" fill="#1a0505" fill-opacity="0.85"/>
<circle cx="461.33" cy="495.22" r="1.4" fill="#1a0505" fill-opacity="0.85"/>
<circle cx="483.46" cy="495.22" r="1.4" fill="#1a0505" fill-opacity="0.85"/>
<circle cx="505.98" cy="495.22" r="1.0" fill="#1a0505" fill-opacity="0.85"/>
<circle cx="529.82" cy="495.22" r="1.0" fill="#1a0505" fill-opacity="0.85"/>
<circle cx="551.54" cy="495.22" r="1.0" fill="#1a0505" fill-opacity="0.85"/>
<circle cx="574.58" cy="495.22" r="1.0" fill="#1a0505" fill-opacity="0.85"/>
<circle cx="596.8" cy="495.22" r="1.4" fill="#1a0505" fill-opacity="0.85"/>
<circle cx="472.34" cy="495.22" r="1.2" fill="#f49a40" fill-opacity="0.75"/>
<rect x="348.2" y="510.7" width="258.2" height="0.9" fill="#4a0808" fill-opacity="0.3"/>
<rect x="461.33" y="509.55" width="21.9" height="3.2" fill="none" stroke="#4a0808" stroke-opacity="0.18" stroke-width="0.6"/>
<rect x="596.8" y="509.55" width="9.6" height="3.2" fill="none" stroke="#4a0808" stroke-opacity="0.3" stroke-width="0.7"/>
<circle cx="368.9" cy="511.15" r="1.0" fill="#1a0505" fill-opacity="0.85"/>
<circle cx="392.84" cy="511.15" r="1.0" fill="#1a0505" fill-opacity="0.85"/>
<circle cx="415.07" cy="511.15" r="1.0" fill="#1a0505" fill-opacity="0.85"/>
<circle cx="438.91" cy="511.15" r="1.0" fill="#1a0505" fill-opacity="0.85"/>
<circle cx="461.33" cy="511.15" r="1.4" fill="#1a0505" fill-opacity="0.85"/>
<circle cx="483.46" cy="511.15" r="1.4" fill="#1a0505" fill-opacity="0.85"/>
<circle cx="505.98" cy="511.15" r="1.0" fill="#1a0505" fill-opacity="0.85"/>
<circle cx="529.82" cy="511.15" r="1.0" fill="#1a0505" fill-opacity="0.85"/>
<circle cx="551.54" cy="511.15" r="1.0" fill="#1a0505" fill-opacity="0.85"/>
<circle cx="574.58" cy="511.15" r="1.0" fill="#1a0505" fill-opacity="0.85"/>
<circle cx="596.8" cy="511.15" r="1.4" fill="#1a0505" fill-opacity="0.85"/>
<circle cx="472.34" cy="511.15" r="1.2" fill="#f49a40" fill-opacity="0.75"/>
<path d="M597.4,258 L606.4,258 L606.4,267 Z" fill="#111"/>
<path d="M602.9,516.5 L606.4,516.5 L606.4,513 Z" fill="#222"/>
<rect x="361.8" y="505.1" width="14.6" height="1.7" fill="#111"/>
</g>
<text x="5.8" y="262.9" font-size="13.5" fill="#111" font-weight="bold">c</text>
<text x="332.4" y="262.7" font-size="13.5" fill="#111" font-weight="bold">d</text>
<rect x="608.2" y="261.4" width="7.6" height="252" fill="url(#cbd)"/>
<line x1="615.9" y1="261.4" x2="615.9" y2="513.4" stroke="#555" stroke-width="0.8"/>
<line x1="615.9" y1="261.4" x2="618" y2="261.4" stroke="#555" stroke-width="0.8"/>
<text x="618.2" y="266.4" font-size="13.9" fill="#1a1a1a">20000</text>
<line x1="615.9" y1="293.92" x2="618" y2="293.92" stroke="#555" stroke-width="0.8"/>
<text x="618.2" y="298.92" font-size="13.9" fill="#1a1a1a">18000</text>
<line x1="615.9" y1="326.43" x2="618" y2="326.43" stroke="#555" stroke-width="0.8"/>
<text x="618.2" y="331.43" font-size="13.9" fill="#1a1a1a">16000</text>
<line x1="615.9" y1="358.95" x2="618" y2="358.95" stroke="#555" stroke-width="0.8"/>
<text x="618.2" y="363.95" font-size="13.9" fill="#1a1a1a">14000</text>
<line x1="615.9" y1="391.46" x2="618" y2="391.46" stroke="#555" stroke-width="0.8"/>
<text x="618.2" y="396.46" font-size="13.9" fill="#1a1a1a">12000</text>
<line x1="615.9" y1="423.98" x2="618" y2="423.98" stroke="#555" stroke-width="0.8"/>
<text x="618.2" y="428.98" font-size="13.9" fill="#1a1a1a">10000</text>
<line x1="615.9" y1="456.5" x2="618" y2="456.5" stroke="#555" stroke-width="0.8"/>
<text x="618.2" y="461.5" font-size="13.9" fill="#1a1a1a">8000</text>
<line x1="615.9" y1="489.01" x2="618" y2="489.01" stroke="#555" stroke-width="0.8"/>
<text x="618.2" y="494.01" font-size="13.9" fill="#1a1a1a">6000</text>
<line x1="615.9" y1="513.4" x2="618" y2="513.4" stroke="#555" stroke-width="0.8"/>
<text x="618.2" y="518.4" font-size="13.9" fill="#1a1a1a">4500</text>
<text x="672.3" y="386.5" font-size="14.2" fill="#1a1a1a" text-anchor="middle" transform="rotate(-90 672.3 386.5)">Photoluminescence intensity (a.u.)</text>
<line x1="77.5" y1="583.43" x2="77.5" y2="589.93" stroke="#333" stroke-width="1"/>
<line x1="194.26" y1="532.42" x2="194.26" y2="538.92" stroke="#333" stroke-width="1"/>
<line x1="89.4" y1="576.86" x2="89.4" y2="583.36" stroke="#333" stroke-width="1"/>
<line x1="203.92" y1="540.54" x2="203.92" y2="547.04" stroke="#333" stroke-width="1"/>
<line x1="101.3" y1="570.29" x2="101.3" y2="576.79" stroke="#333" stroke-width="1"/>
<line x1="213.58" y1="548.66" x2="213.58" y2="555.16" stroke="#333" stroke-width="1"/>
<line x1="113.2" y1="563.72" x2="113.2" y2="570.22" stroke="#333" stroke-width="1"/>
<line x1="223.24" y1="556.78" x2="223.24" y2="563.28" stroke="#333" stroke-width="1"/>
<line x1="125.1" y1="557.15" x2="125.1" y2="563.65" stroke="#333" stroke-width="1"/>
<line x1="232.9" y1="564.9" x2="232.9" y2="571.4" stroke="#333" stroke-width="1"/>
<line x1="137" y1="550.58" x2="137" y2="557.08" stroke="#333" stroke-width="1"/>
<line x1="242.56" y1="573.02" x2="242.56" y2="579.52" stroke="#333" stroke-width="1"/>
<line x1="148.9" y1="544.01" x2="148.9" y2="550.51" stroke="#333" stroke-width="1"/>
<line x1="252.22" y1="581.14" x2="252.22" y2="587.64" stroke="#333" stroke-width="1"/>
<line x1="160.8" y1="537.44" x2="160.8" y2="543.94" stroke="#333" stroke-width="1"/>
<line x1="261.88" y1="589.26" x2="261.88" y2="595.76" stroke="#333" stroke-width="1"/>
<line x1="172.7" y1="530.87" x2="172.7" y2="537.37" stroke="#333" stroke-width="1"/>
<line x1="271.54" y1="597.38" x2="271.54" y2="603.88" stroke="#333" stroke-width="1"/>
<line x1="184.6" y1="524.3" x2="184.6" y2="530.8" stroke="#333" stroke-width="1"/>
<line x1="65.6" y1="600.3" x2="72.14" y2="596.69" stroke="#333" stroke-width="0.9"/>
<line x1="281.2" y1="615.5" x2="275.89" y2="611.03" stroke="#333" stroke-width="0.9"/>
<line x1="65.6" y1="611.3" x2="72.14" y2="607.69" stroke="#333" stroke-width="0.9"/>
<line x1="281.2" y1="626.5" x2="275.89" y2="622.03" stroke="#333" stroke-width="0.9"/>
<line x1="65.6" y1="622.3" x2="72.14" y2="618.69" stroke="#333" stroke-width="0.9"/>
<line x1="281.2" y1="637.5" x2="275.89" y2="633.03" stroke="#333" stroke-width="0.9"/>
<line x1="65.6" y1="633.3" x2="72.14" y2="629.69" stroke="#333" stroke-width="0.9"/>
<line x1="281.2" y1="648.5" x2="275.89" y2="644.03" stroke="#333" stroke-width="0.9"/>
<line x1="65.6" y1="644.3" x2="72.14" y2="640.69" stroke="#333" stroke-width="0.9"/>
<line x1="281.2" y1="659.5" x2="275.89" y2="655.03" stroke="#333" stroke-width="0.9"/>
<line x1="65.6" y1="655.3" x2="72.14" y2="651.69" stroke="#333" stroke-width="0.9"/>
<line x1="281.2" y1="670.5" x2="275.89" y2="666.03" stroke="#333" stroke-width="0.9"/>
<line x1="65.6" y1="666.3" x2="72.14" y2="662.69" stroke="#333" stroke-width="0.9"/>
<line x1="281.2" y1="681.5" x2="275.89" y2="677.03" stroke="#333" stroke-width="0.9"/>
<line x1="65.6" y1="677.3" x2="72.14" y2="673.69" stroke="#333" stroke-width="0.9"/>
<line x1="281.2" y1="692.5" x2="275.89" y2="688.03" stroke="#333" stroke-width="0.9"/>
<line x1="65.6" y1="688.3" x2="72.14" y2="684.69" stroke="#333" stroke-width="0.9"/>
<line x1="281.2" y1="703.5" x2="275.89" y2="699.03" stroke="#333" stroke-width="0.9"/>
<line x1="65.6" y1="699.3" x2="72.14" y2="695.69" stroke="#333" stroke-width="0.9"/>
<line x1="281.2" y1="714.5" x2="275.89" y2="710.03" stroke="#333" stroke-width="0.9"/>
<polyline points="65.7,700 65.6,590 184.6,524.3 281.2,605.5 281.2,715.5" fill="none" stroke="#333" stroke-width="1.1"/>
<polyline points="65.7,700 163,781.5 281.2,715.5" fill="none" stroke="#333" stroke-width="1.1"/>
<line x1="163" y1="781.5" x2="159.8" y2="783.3" stroke="#333" stroke-width="0.8"/>
<line x1="163" y1="781.5" x2="165.6" y2="783.7" stroke="#333" stroke-width="0.8"/>
<line x1="153.27" y1="773.35" x2="150.07" y2="775.15" stroke="#333" stroke-width="0.8"/>
<line x1="174.82" y1="774.9" x2="177.42" y2="777.1" stroke="#333" stroke-width="0.8"/>
<line x1="143.54" y1="765.2" x2="140.34" y2="767" stroke="#333" stroke-width="0.8"/>
<line x1="186.64" y1="768.3" x2="189.24" y2="770.5" stroke="#333" stroke-width="0.8"/>
<line x1="133.81" y1="757.05" x2="130.61" y2="758.85" stroke="#333" stroke-width="0.8"/>
<line x1="198.46" y1="761.7" x2="201.06" y2="763.9" stroke="#333" stroke-width="0.8"/>
<line x1="124.08" y1="748.9" x2="120.88" y2="750.7" stroke="#333" stroke-width="0.8"/>
<line x1="210.28" y1="755.1" x2="212.88" y2="757.3" stroke="#333" stroke-width="0.8"/>
<line x1="114.35" y1="740.75" x2="111.15" y2="742.55" stroke="#333" stroke-width="0.8"/>
<line x1="222.1" y1="748.5" x2="224.7" y2="750.7" stroke="#333" stroke-width="0.8"/>
<line x1="104.62" y1="732.6" x2="101.42" y2="734.4" stroke="#333" stroke-width="0.8"/>
<line x1="233.92" y1="741.9" x2="236.52" y2="744.1" stroke="#333" stroke-width="0.8"/>
<line x1="94.89" y1="724.45" x2="91.69" y2="726.25" stroke="#333" stroke-width="0.8"/>
<line x1="245.74" y1="735.3" x2="248.34" y2="737.5" stroke="#333" stroke-width="0.8"/>
<line x1="85.16" y1="716.3" x2="81.96" y2="718.1" stroke="#333" stroke-width="0.8"/>
<line x1="257.56" y1="728.7" x2="260.16" y2="730.9" stroke="#333" stroke-width="0.8"/>
<line x1="75.43" y1="708.15" x2="72.23" y2="709.95" stroke="#333" stroke-width="0.8"/>
<line x1="269.38" y1="722.1" x2="271.98" y2="724.3" stroke="#333" stroke-width="0.8"/>
<line x1="65.7" y1="700" x2="62.5" y2="701.8" stroke="#333" stroke-width="0.8"/>
<line x1="281.2" y1="715.5" x2="283.8" y2="717.7" stroke="#333" stroke-width="0.8"/>
<g filter="url(#soft)">
<g clip-path="url(#fc1)">
<rect x="0" y="-0.02" width="2.2" height="1.04" fill="url(#rg1)" transform="matrix(3.27,2.68,0,105.57,71,599.4)"/>
<rect x="0" y="-0.02" width="2.2" height="1.04" fill="url(#rg2)" transform="matrix(3.27,2.68,0,105.51,74.27,602.08)"/>
<rect x="0" y="-0.02" width="2.2" height="1.04" fill="url(#rg3)" transform="matrix(3.27,2.68,0,105.46,77.54,604.76)"/>
<rect x="0" y="-0.02" width="2.2" height="1.04" fill="url(#rg4)" transform="matrix(3.27,2.68,0,105.4,80.8,607.45)"/>
<rect x="0" y="-0.02" width="2.2" height="1.04" fill="url(#rg5)" transform="matrix(3.27,2.68,0,105.34,84.07,610.13)"/>
<rect x="0" y="-0.02" width="2.2" height="1.04" fill="url(#rg6)" transform="matrix(3.27,2.68,0,105.29,87.34,612.81)"/>
<rect x="0" y="-0.02" width="2.2" height="1.04" fill="url(#rg7)" transform="matrix(3.27,2.68,0,105.23,90.61,615.49)"/>
<rect x="0" y="-0.02" width="2.2" height="1.04" fill="url(#rg8)" transform="matrix(3.27,2.68,0,105.17,93.88,618.17)"/>
<rect x="0" y="-0.02" width="2.2" height="1.04" fill="url(#rg9)" transform="matrix(3.27,2.68,0,105.11,97.14,620.86)"/>
<rect x="0" y="-0.02" width="2.2" height="1.04" fill="url(#rg10)" transform="matrix(3.27,2.68,0,105.06,100.41,623.54)"/>
<rect x="0" y="-0.02" width="2.2" height="1.04" fill="url(#rg11)" transform="matrix(3.27,2.68,0,105,103.68,626.22)"/>
<rect x="0" y="-0.02" width="2.2" height="1.04" fill="url(#rg12)" transform="matrix(3.27,2.68,0,104.94,106.95,628.9)"/>
<rect x="0" y="-0.02" width="2.2" height="1.04" fill="url(#rg13)" transform="matrix(3.27,2.68,0,104.89,110.21,631.59)"/>
<rect x="0" y="-0.02" width="2.2" height="1.04" fill="url(#rg14)" transform="matrix(3.27,2.68,0,104.83,113.48,634.27)"/>
<rect x="0" y="-0.02" width="2.2" height="1.04" fill="url(#rg15)" transform="matrix(3.27,2.68,0,104.77,116.75,636.95)"/>
<rect x="0" y="-0.02" width="2.2" height="1.04" fill="url(#rg16)" transform="matrix(3.27,2.68,0,104.71,120.02,639.63)"/>
<rect x="0" y="-0.02" width="2.2" height="1.04" fill="url(#rg17)" transform="matrix(3.27,2.68,0,104.66,123.29,642.31)"/>
<rect x="0" y="-0.02" width="2.2" height="1.04" fill="url(#rg18)" transform="matrix(3.27,2.68,0,104.6,126.55,645)"/>
<rect x="0" y="-0.02" width="2.2" height="1.04" fill="url(#rg19)" transform="matrix(3.27,2.68,0,104.54,129.82,647.68)"/>
<rect x="0" y="-0.02" width="2.2" height="1.04" fill="url(#rg20)" transform="matrix(3.27,2.68,0,104.49,133.09,650.36)"/>
<rect x="0" y="-0.02" width="2.2" height="1.04" fill="url(#rg21)" transform="matrix(3.27,2.68,0,104.43,136.36,653.04)"/>
<rect x="0" y="-0.02" width="2.2" height="1.04" fill="url(#rg22)" transform="matrix(3.27,2.68,0,104.37,139.62,655.73)"/>
<rect x="0" y="-0.02" width="2.2" height="1.04" fill="url(#rg23)" transform="matrix(3.27,2.68,0,104.31,142.89,658.41)"/>
<rect x="0" y="-0.02" width="2.2" height="1.04" fill="url(#rg24)" transform="matrix(3.27,2.68,0,104.26,146.16,661.09)"/>
<rect x="0" y="-0.02" width="2.2" height="1.04" fill="url(#rg25)" transform="matrix(3.27,2.68,0,104.2,149.43,663.77)"/>
<rect x="0" y="-0.02" width="2.2" height="1.04" fill="url(#rg26)" transform="matrix(3.27,2.68,0,104.14,152.7,666.45)"/>
<rect x="0" y="-0.02" width="2.2" height="1.04" fill="url(#rg27)" transform="matrix(3.27,2.68,0,104.09,155.96,669.14)"/>
<rect x="0" y="-0.02" width="2.2" height="1.04" fill="url(#rg28)" transform="matrix(3.27,2.68,0,104.03,159.23,671.82)"/>
</g>
<g clip-path="url(#fc2)">
<rect x="0" y="-0.02" width="2.2" height="1.04" fill="url(#rg29)" transform="matrix(4.06,-2.23,0,104.03,162.5,674.5)"/>
<rect x="0" y="-0.02" width="2.2" height="1.04" fill="url(#rg30)" transform="matrix(4.06,-2.23,0,104.08,166.56,672.27)"/>
<rect x="0" y="-0.02" width="2.2" height="1.04" fill="url(#rg31)" transform="matrix(4.06,-2.23,0,104.13,170.62,670.04)"/>
<rect x="0" y="-0.02" width="2.2" height="1.04" fill="url(#rg32)" transform="matrix(4.06,-2.23,0,104.19,174.68,667.8)"/>
<rect x="0" y="-0.02" width="2.2" height="1.04" fill="url(#rg33)" transform="matrix(4.06,-2.23,0,104.24,178.74,665.57)"/>
<rect x="0" y="-0.02" width="2.2" height="1.04" fill="url(#rg34)" transform="matrix(4.06,-2.23,0,104.29,182.8,663.34)"/>
<rect x="0" y="-0.02" width="2.2" height="1.04" fill="url(#rg35)" transform="matrix(4.06,-2.23,0,104.35,186.86,661.11)"/>
<rect x="0" y="-0.02" width="2.2" height="1.04" fill="url(#rg36)" transform="matrix(4.06,-2.23,0,104.4,190.93,658.88)"/>
<rect x="0" y="-0.02" width="2.2" height="1.04" fill="url(#rg37)" transform="matrix(4.06,-2.23,0,104.46,194.99,656.64)"/>
<rect x="0" y="-0.02" width="2.2" height="1.04" fill="url(#rg38)" transform="matrix(4.06,-2.23,0,104.51,199.05,654.41)"/>
<rect x="0" y="-0.02" width="2.2" height="1.04" fill="url(#rg39)" transform="matrix(4.06,-2.23,0,104.56,203.11,652.18)"/>
<rect x="0" y="-0.02" width="2.2" height="1.04" fill="url(#rg40)" transform="matrix(4.06,-2.23,0,104.62,207.17,649.95)"/>
<rect x="0" y="-0.02" width="2.2" height="1.04" fill="url(#rg41)" transform="matrix(4.06,-2.23,0,104.67,211.23,647.71)"/>
<rect x="0" y="-0.02" width="2.2" height="1.04" fill="url(#rg42)" transform="matrix(4.06,-2.23,0,104.72,215.29,645.48)"/>
<rect x="0" y="-0.02" width="2.2" height="1.04" fill="url(#rg43)" transform="matrix(4.06,-2.23,0,104.78,219.35,643.25)"/>
<rect x="0" y="-0.02" width="2.2" height="1.04" fill="url(#rg44)" transform="matrix(4.06,-2.23,0,104.83,223.41,641.02)"/>
<rect x="0" y="-0.02" width="2.2" height="1.04" fill="url(#rg45)" transform="matrix(4.06,-2.23,0,104.88,227.47,638.79)"/>
<rect x="0" y="-0.02" width="2.2" height="1.04" fill="url(#rg46)" transform="matrix(4.06,-2.23,0,104.94,231.53,636.55)"/>
<rect x="0" y="-0.02" width="2.2" height="1.04" fill="url(#rg47)" transform="matrix(4.06,-2.23,0,104.99,235.59,634.32)"/>
<rect x="0" y="-0.02" width="2.2" height="1.04" fill="url(#rg48)" transform="matrix(4.06,-2.23,0,105.04,239.65,632.09)"/>
<rect x="0" y="-0.02" width="2.2" height="1.04" fill="url(#rg49)" transform="matrix(4.06,-2.23,0,105.1,243.71,629.86)"/>
<rect x="0" y="-0.02" width="2.2" height="1.04" fill="url(#rg50)" transform="matrix(4.06,-2.23,0,105.15,247.77,627.62)"/>
<rect x="0" y="-0.02" width="2.2" height="1.04" fill="url(#rg51)" transform="matrix(4.06,-2.23,0,105.21,251.84,625.39)"/>
<rect x="0" y="-0.02" width="2.2" height="1.04" fill="url(#rg52)" transform="matrix(4.06,-2.23,0,105.26,255.9,623.16)"/>
<rect x="0" y="-0.02" width="2.2" height="1.04" fill="url(#rg53)" transform="matrix(4.06,-2.23,0,105.31,259.96,620.93)"/>
<rect x="0" y="-0.02" width="2.2" height="1.04" fill="url(#rg54)" transform="matrix(4.06,-2.23,0,105.37,264.02,618.7)"/>
<rect x="0" y="-0.02" width="2.2" height="1.04" fill="url(#rg55)" transform="matrix(4.06,-2.23,0,105.42,268.08,616.46)"/>
<rect x="0" y="-0.02" width="2.2" height="1.04" fill="url(#rg56)" transform="matrix(4.06,-2.23,0,105.47,272.14,614.23)"/>
</g>
<path d="M71,599.4 L185,531.5 L276.2,612 L162.5,674.5 Z" fill="#f2cacb"/>
<polyline points="72,600.9 162.5,675.5 275.2,613.5" fill="none" stroke="#fff" stroke-opacity="0.45" stroke-width="2"/>
</g>
<text x="0" y="3.1" font-size="8.6" fill="#2a2a2a" text-anchor="middle" transform="matrix(0.8500,-0.5300,0.1500,1.0000,53.5,598.6)">700</text>
<text x="0" y="3.1" font-size="8.6" fill="#2a2a2a" text-anchor="middle" transform="matrix(0.8500,-0.5300,0.1500,1.0000,53.83,609.6)">630</text>
<text x="0" y="3.1" font-size="8.6" fill="#2a2a2a" text-anchor="middle" transform="matrix(0.8500,-0.5300,0.1500,1.0000,54.16,620.6)">560</text>
<text x="0" y="3.1" font-size="8.6" fill="#2a2a2a" text-anchor="middle" transform="matrix(0.8500,-0.5300,0.1500,1.0000,54.49,631.6)">490</text>
<text x="0" y="3.1" font-size="8.6" fill="#2a2a2a" text-anchor="middle" transform="matrix(0.8500,-0.5300,0.1500,1.0000,54.82,642.6)">420</text>
<text x="0" y="3.1" font-size="8.6" fill="#2a2a2a" text-anchor="middle" transform="matrix(0.8500,-0.5300,0.1500,1.0000,55.15,653.6)">350</text>
<text x="0" y="3.1" font-size="8.6" fill="#2a2a2a" text-anchor="middle" transform="matrix(0.8500,-0.5300,0.1500,1.0000,55.48,664.6)">280</text>
<text x="0" y="3.1" font-size="8.6" fill="#2a2a2a" text-anchor="middle" transform="matrix(0.8500,-0.5300,0.1500,1.0000,55.81,675.6)">210</text>
<text x="0" y="3.1" font-size="8.6" fill="#2a2a2a" text-anchor="middle" transform="matrix(0.8500,-0.5300,0.1500,1.0000,56.14,686.6)">140</text>
<text x="0" y="3.1" font-size="8.6" fill="#2a2a2a" text-anchor="middle" transform="matrix(0.8500,-0.5300,0.1500,1.0000,56.47,697.6)">70</text>
<text x="0" y="3.17" font-size="8.8" fill="#2a2a2a" text-anchor="middle" transform="matrix(0.9000,-0.4200,0.3000,0.8000,58.3,713)">182.5</text>
<text x="0" y="3.17" font-size="8.8" fill="#2a2a2a" text-anchor="middle" transform="matrix(0.9000,-0.4200,0.3000,0.8000,67.7,721.7)">164.2</text>
<text x="0" y="3.17" font-size="8.8" fill="#2a2a2a" text-anchor="middle" transform="matrix(0.9000,-0.4200,0.3000,0.8000,77.4,729.4)">146.0</text>
<text x="0" y="3.17" font-size="8.8" fill="#2a2a2a" text-anchor="middle" transform="matrix(0.9000,-0.4200,0.3000,0.8000,86.8,737)">127.7</text>
<text x="0" y="3.17" font-size="8.8" fill="#2a2a2a" text-anchor="middle" transform="matrix(0.9000,-0.4200,0.3000,0.8000,97,745.8)">109.5</text>
<text x="0" y="3.17" font-size="8.8" fill="#2a2a2a" text-anchor="middle" transform="matrix(0.9000,-0.4200,0.3000,0.8000,107.6,754.6)">91.2</text>
<text x="0" y="3.17" font-size="8.8" fill="#2a2a2a" text-anchor="middle" transform="matrix(0.9000,-0.4200,0.3000,0.8000,118,762.3)">73.0</text>
<text x="0" y="3.17" font-size="8.8" fill="#2a2a2a" text-anchor="middle" transform="matrix(0.9000,-0.4200,0.3000,0.8000,128.4,770)">36.5</text>
<text x="0" y="3.17" font-size="8.8" fill="#2a2a2a" text-anchor="middle" transform="matrix(0.9000,-0.4200,0.3000,0.8000,138.2,779.8)">18.25</text>
<text x="0" y="3.17" font-size="8.8" fill="#2a2a2a" text-anchor="middle" transform="matrix(0.9000,-0.4200,0.3000,0.8000,154.7,785.2)">0</text>
<text x="0" y="3.17" font-size="8.8" fill="#2a2a2a" text-anchor="middle" transform="matrix(0.8700,0.4900,-0.4200,0.8000,166.4,787.7)">0</text>
<text x="0" y="3.17" font-size="8.8" fill="#2a2a2a" text-anchor="middle" transform="matrix(0.8700,0.4900,-0.4200,0.8000,182.7,783.7)">18.3</text>
<text x="0" y="3.17" font-size="8.8" fill="#2a2a2a" text-anchor="middle" transform="matrix(0.8700,0.4900,-0.4200,0.8000,196.7,776.7)">36.5</text>
<text x="0" y="3.17" font-size="8.8" fill="#2a2a2a" text-anchor="middle" transform="matrix(0.8700,0.4900,-0.4200,0.8000,208.4,769.7)">54.8</text>
<text x="0" y="3.17" font-size="8.8" fill="#2a2a2a" text-anchor="middle" transform="matrix(0.8700,0.4900,-0.4200,0.8000,220,762.7)">73.0</text>
<text x="0" y="3.17" font-size="8.8" fill="#2a2a2a" text-anchor="middle" transform="matrix(0.8700,0.4900,-0.4200,0.8000,230.6,755.7)">91.3</text>
<text x="0" y="3.17" font-size="8.8" fill="#2a2a2a" text-anchor="middle" transform="matrix(0.8700,0.4900,-0.4200,0.8000,242.3,749.8)">109.5</text>
<text x="0" y="3.17" font-size="8.8" fill="#2a2a2a" text-anchor="middle" transform="matrix(0.8700,0.4900,-0.4200,0.8000,252.8,742.8)">127.8</text>
<text x="0" y="3.17" font-size="8.8" fill="#2a2a2a" text-anchor="middle" transform="matrix(0.8700,0.4900,-0.4200,0.8000,263.3,735.8)">146.0</text>
<text x="0" y="3.17" font-size="8.8" fill="#2a2a2a" text-anchor="middle" transform="matrix(0.8700,0.4900,-0.4200,0.8000,273.8,730)">164.3</text>
<text x="0" y="3.17" font-size="8.8" fill="#2a2a2a" text-anchor="middle" transform="matrix(0.8700,0.4900,-0.4200,0.8000,284.3,724)">182.5</text>
<text x="0" y="3.42" font-size="9.5" fill="#2a2a2a" text-anchor="middle" transform="matrix(0.8200,0.5700,-0.3000,0.9500,75.5,762)">Position (mm)</text>
<text x="0" y="3.42" font-size="9.5" fill="#2a2a2a" text-anchor="middle" transform="matrix(0.8800,-0.4700,0.4400,0.8500,254,769.5)">Position (nm)</text>
<text x="40.5" y="651.5" font-size="12" fill="#222" text-anchor="middle" transform="rotate(-90 40.5 651.5)">V<tspan font-size="7.5" dy="2.5">oc</tspan><tspan dy="-2.5"> (mV)</tspan></text>
<path d="M384.4,588.8 L501.8,525.6 L598.7,605.4 L598.7,715.5 L501.8,635.8 L384.4,699 Z" fill="#f7f8fa"/>
<line x1="396.14" y1="582.48" x2="396.14" y2="593.48" stroke="#333" stroke-width="1"/>
<line x1="511.49" y1="533.58" x2="511.49" y2="544.58" stroke="#333" stroke-width="1"/>
<line x1="407.88" y1="576.16" x2="407.88" y2="587.16" stroke="#333" stroke-width="1"/>
<line x1="521.18" y1="541.56" x2="521.18" y2="552.56" stroke="#333" stroke-width="1"/>
<line x1="419.62" y1="569.84" x2="419.62" y2="580.84" stroke="#333" stroke-width="1"/>
<line x1="530.87" y1="549.54" x2="530.87" y2="560.54" stroke="#333" stroke-width="1"/>
<line x1="431.36" y1="563.52" x2="431.36" y2="574.52" stroke="#333" stroke-width="1"/>
<line x1="540.56" y1="557.52" x2="540.56" y2="568.52" stroke="#333" stroke-width="1"/>
<line x1="443.1" y1="557.2" x2="443.1" y2="568.2" stroke="#333" stroke-width="1"/>
<line x1="550.25" y1="565.5" x2="550.25" y2="576.5" stroke="#333" stroke-width="1"/>
<line x1="454.84" y1="550.88" x2="454.84" y2="561.88" stroke="#333" stroke-width="1"/>
<line x1="559.94" y1="573.48" x2="559.94" y2="584.48" stroke="#333" stroke-width="1"/>
<line x1="466.58" y1="544.56" x2="466.58" y2="555.56" stroke="#333" stroke-width="1"/>
<line x1="569.63" y1="581.46" x2="569.63" y2="592.46" stroke="#333" stroke-width="1"/>
<line x1="478.32" y1="538.24" x2="478.32" y2="549.24" stroke="#333" stroke-width="1"/>
<line x1="579.32" y1="589.44" x2="579.32" y2="600.44" stroke="#333" stroke-width="1"/>
<line x1="490.06" y1="531.92" x2="490.06" y2="542.92" stroke="#333" stroke-width="1"/>
<line x1="589.01" y1="597.42" x2="589.01" y2="608.42" stroke="#333" stroke-width="1"/>
<line x1="501.8" y1="525.6" x2="501.8" y2="536.6" stroke="#333" stroke-width="1"/>
<line x1="384.4" y1="599.5" x2="390.86" y2="596.02" stroke="#333" stroke-width="0.9"/>
<line x1="598.7" y1="616" x2="593.37" y2="611.61" stroke="#333" stroke-width="0.9"/>
<line x1="384.4" y1="610.8" x2="390.86" y2="607.32" stroke="#333" stroke-width="0.9"/>
<line x1="598.7" y1="627.3" x2="593.37" y2="622.91" stroke="#333" stroke-width="0.9"/>
<line x1="384.4" y1="622.1" x2="390.86" y2="618.62" stroke="#333" stroke-width="0.9"/>
<line x1="598.7" y1="638.6" x2="593.37" y2="634.21" stroke="#333" stroke-width="0.9"/>
<line x1="384.4" y1="633.4" x2="390.86" y2="629.92" stroke="#333" stroke-width="0.9"/>
<line x1="598.7" y1="649.9" x2="593.37" y2="645.51" stroke="#333" stroke-width="0.9"/>
<line x1="384.4" y1="644.7" x2="390.86" y2="641.22" stroke="#333" stroke-width="0.9"/>
<line x1="598.7" y1="661.2" x2="593.37" y2="656.81" stroke="#333" stroke-width="0.9"/>
<line x1="384.4" y1="656" x2="390.86" y2="652.52" stroke="#333" stroke-width="0.9"/>
<line x1="598.7" y1="672.5" x2="593.37" y2="668.11" stroke="#333" stroke-width="0.9"/>
<line x1="384.4" y1="667.3" x2="390.86" y2="663.82" stroke="#333" stroke-width="0.9"/>
<line x1="598.7" y1="683.8" x2="593.37" y2="679.41" stroke="#333" stroke-width="0.9"/>
<line x1="384.4" y1="678.6" x2="390.86" y2="675.12" stroke="#333" stroke-width="0.9"/>
<line x1="598.7" y1="695.1" x2="593.37" y2="690.71" stroke="#333" stroke-width="0.9"/>
<line x1="384.4" y1="689.9" x2="390.86" y2="686.42" stroke="#333" stroke-width="0.9"/>
<line x1="598.7" y1="706.4" x2="593.37" y2="702.01" stroke="#333" stroke-width="0.9"/>
<line x1="384.4" y1="701.2" x2="390.86" y2="697.72" stroke="#333" stroke-width="0.9"/>
<line x1="598.7" y1="717.7" x2="593.37" y2="713.31" stroke="#333" stroke-width="0.9"/>
<polyline points="384.4,699 384.4,588.8 501.8,525.6 598.7,605.4 598.7,715.5" fill="none" stroke="#333" stroke-width="1.1"/>
<polyline points="384.4,699 479.4,776.2 598.7,715.5" fill="none" stroke="#333" stroke-width="1.1"/>
<line x1="479.4" y1="776.2" x2="476.2" y2="778" stroke="#333" stroke-width="0.8"/>
<line x1="479.4" y1="776.2" x2="482" y2="778.4" stroke="#333" stroke-width="0.8"/>
<line x1="469.9" y1="768.48" x2="466.7" y2="770.28" stroke="#333" stroke-width="0.8"/>
<line x1="491.33" y1="770.13" x2="493.93" y2="772.33" stroke="#333" stroke-width="0.8"/>
<line x1="460.4" y1="760.76" x2="457.2" y2="762.56" stroke="#333" stroke-width="0.8"/>
<line x1="503.26" y1="764.06" x2="505.86" y2="766.26" stroke="#333" stroke-width="0.8"/>
<line x1="450.9" y1="753.04" x2="447.7" y2="754.84" stroke="#333" stroke-width="0.8"/>
<line x1="515.19" y1="757.99" x2="517.79" y2="760.19" stroke="#333" stroke-width="0.8"/>
<line x1="441.4" y1="745.32" x2="438.2" y2="747.12" stroke="#333" stroke-width="0.8"/>
<line x1="527.12" y1="751.92" x2="529.72" y2="754.12" stroke="#333" stroke-width="0.8"/>
<line x1="431.9" y1="737.6" x2="428.7" y2="739.4" stroke="#333" stroke-width="0.8"/>
<line x1="539.05" y1="745.85" x2="541.65" y2="748.05" stroke="#333" stroke-width="0.8"/>
<line x1="422.4" y1="729.88" x2="419.2" y2="731.68" stroke="#333" stroke-width="0.8"/>
<line x1="550.98" y1="739.78" x2="553.58" y2="741.98" stroke="#333" stroke-width="0.8"/>
<line x1="412.9" y1="722.16" x2="409.7" y2="723.96" stroke="#333" stroke-width="0.8"/>
<line x1="562.91" y1="733.71" x2="565.51" y2="735.91" stroke="#333" stroke-width="0.8"/>
<line x1="403.4" y1="714.44" x2="400.2" y2="716.24" stroke="#333" stroke-width="0.8"/>
<line x1="574.84" y1="727.64" x2="577.44" y2="729.84" stroke="#333" stroke-width="0.8"/>
<line x1="393.9" y1="706.72" x2="390.7" y2="708.52" stroke="#333" stroke-width="0.8"/>
<line x1="586.77" y1="721.57" x2="589.37" y2="723.77" stroke="#333" stroke-width="0.8"/>
<line x1="384.4" y1="699" x2="381.2" y2="700.8" stroke="#333" stroke-width="0.8"/>
<line x1="598.7" y1="715.5" x2="601.3" y2="717.7" stroke="#333" stroke-width="0.8"/>
<g filter="url(#soft)">
<g clip-path="url(#fc3)">
<rect x="0" y="-0.02" width="2.2" height="1.04" fill="url(#rg57)" transform="matrix(3.21,2.55,0,105,390.2,598.5)"/>
<rect x="0" y="-0.02" width="2.2" height="1.04" fill="url(#rg58)" transform="matrix(3.21,2.55,0,105,393.41,601.05)"/>
<rect x="0" y="-0.02" width="2.2" height="1.04" fill="url(#rg59)" transform="matrix(3.21,2.55,0,105,396.61,603.61)"/>
<rect x="0" y="-0.02" width="2.2" height="1.04" fill="url(#rg60)" transform="matrix(3.21,2.55,0,105,399.82,606.16)"/>
<rect x="0" y="-0.02" width="2.2" height="1.04" fill="url(#rg61)" transform="matrix(3.21,2.55,0,105,403.03,608.71)"/>
<rect x="0" y="-0.02" width="2.2" height="1.04" fill="url(#rg62)" transform="matrix(3.21,2.55,0,105,406.24,611.27)"/>
<rect x="0" y="-0.02" width="2.2" height="1.04" fill="url(#rg63)" transform="matrix(3.21,2.55,0,105,409.44,613.82)"/>
<rect x="0" y="-0.02" width="2.2" height="1.04" fill="url(#rg64)" transform="matrix(3.21,2.55,0,105,412.65,616.38)"/>
<rect x="0" y="-0.02" width="2.2" height="1.04" fill="url(#rg65)" transform="matrix(3.21,2.55,0,105,415.86,618.93)"/>
<rect x="0" y="-0.02" width="2.2" height="1.04" fill="url(#rg66)" transform="matrix(3.21,2.55,0,105,419.06,621.48)"/>
<rect x="0" y="-0.02" width="2.2" height="1.04" fill="url(#rg67)" transform="matrix(3.21,2.55,0,105,422.27,624.04)"/>
<rect x="0" y="-0.02" width="2.2" height="1.04" fill="url(#rg68)" transform="matrix(3.21,2.55,0,105,425.48,626.59)"/>
<rect x="0" y="-0.02" width="2.2" height="1.04" fill="url(#rg69)" transform="matrix(3.21,2.55,0,105,428.69,629.14)"/>
<rect x="0" y="-0.02" width="2.2" height="1.04" fill="url(#rg70)" transform="matrix(3.21,2.55,0,105,431.89,631.7)"/>
<rect x="0" y="-0.02" width="2.2" height="1.04" fill="url(#rg71)" transform="matrix(3.21,2.55,0,105,435.1,634.25)"/>
<rect x="0" y="-0.02" width="2.2" height="1.04" fill="url(#rg72)" transform="matrix(3.21,2.55,0,105,438.31,636.8)"/>
<rect x="0" y="-0.02" width="2.2" height="1.04" fill="url(#rg73)" transform="matrix(3.21,2.55,0,105,441.51,639.36)"/>
<rect x="0" y="-0.02" width="2.2" height="1.04" fill="url(#rg74)" transform="matrix(3.21,2.55,0,105,444.72,641.91)"/>
<rect x="0" y="-0.02" width="2.2" height="1.04" fill="url(#rg75)" transform="matrix(3.21,2.55,0,105,447.93,644.46)"/>
<rect x="0" y="-0.02" width="2.2" height="1.04" fill="url(#rg76)" transform="matrix(3.21,2.55,0,105,451.14,647.02)"/>
<rect x="0" y="-0.02" width="2.2" height="1.04" fill="url(#rg77)" transform="matrix(3.21,2.55,0,105,454.34,649.57)"/>
<rect x="0" y="-0.02" width="2.2" height="1.04" fill="url(#rg78)" transform="matrix(3.21,2.55,0,105,457.55,652.12)"/>
<rect x="0" y="-0.02" width="2.2" height="1.04" fill="url(#rg79)" transform="matrix(3.21,2.55,0,105,460.76,654.68)"/>
<rect x="0" y="-0.02" width="2.2" height="1.04" fill="url(#rg80)" transform="matrix(3.21,2.55,0,105,463.96,657.23)"/>
<rect x="0" y="-0.02" width="2.2" height="1.04" fill="url(#rg81)" transform="matrix(3.21,2.55,0,105,467.17,659.79)"/>
<rect x="0" y="-0.02" width="2.2" height="1.04" fill="url(#rg82)" transform="matrix(3.21,2.55,0,105,470.38,662.34)"/>
<rect x="0" y="-0.02" width="2.2" height="1.04" fill="url(#rg83)" transform="matrix(3.21,2.55,0,105,473.59,664.89)"/>
<rect x="0" y="-0.02" width="2.2" height="1.04" fill="url(#rg84)" transform="matrix(3.21,2.55,0,105,476.79,667.45)"/>
</g>
<g clip-path="url(#fc4)">
<rect x="0" y="-0.02" width="2.2" height="1.04" fill="url(#rg85)" transform="matrix(4.02,-2.2,0,105.06,480,670)"/>
<rect x="0" y="-0.02" width="2.2" height="1.04" fill="url(#rg86)" transform="matrix(4.02,-2.2,0,105.19,484.02,667.8)"/>
<rect x="0" y="-0.02" width="2.2" height="1.04" fill="url(#rg87)" transform="matrix(4.02,-2.2,0,105.31,488.04,665.61)"/>
<rect x="0" y="-0.02" width="2.2" height="1.04" fill="url(#rg88)" transform="matrix(4.02,-2.2,0,105.44,492.05,663.41)"/>
<rect x="0" y="-0.02" width="2.2" height="1.04" fill="url(#rg89)" transform="matrix(4.02,-2.2,0,105.56,496.07,661.21)"/>
<rect x="0" y="-0.02" width="2.2" height="1.04" fill="url(#rg90)" transform="matrix(4.02,-2.2,0,105.69,500.09,659.02)"/>
<rect x="0" y="-0.02" width="2.2" height="1.04" fill="url(#rg91)" transform="matrix(4.02,-2.2,0,105.81,504.11,656.82)"/>
<rect x="0" y="-0.02" width="2.2" height="1.04" fill="url(#rg92)" transform="matrix(4.02,-2.2,0,105.94,508.12,654.62)"/>
<rect x="0" y="-0.02" width="2.2" height="1.04" fill="url(#rg93)" transform="matrix(4.02,-2.2,0,106.06,512.14,652.43)"/>
<rect x="0" y="-0.02" width="2.2" height="1.04" fill="url(#rg94)" transform="matrix(4.02,-2.2,0,106.19,516.16,650.23)"/>
<rect x="0" y="-0.02" width="2.2" height="1.04" fill="url(#rg95)" transform="matrix(4.02,-2.2,0,106.31,520.18,648.04)"/>
<rect x="0" y="-0.02" width="2.2" height="1.04" fill="url(#rg96)" transform="matrix(4.02,-2.2,0,106.44,524.2,645.84)"/>
<rect x="0" y="-0.02" width="2.2" height="1.04" fill="url(#rg97)" transform="matrix(4.02,-2.2,0,106.56,528.21,643.64)"/>
<rect x="0" y="-0.02" width="2.2" height="1.04" fill="url(#rg98)" transform="matrix(4.02,-2.2,0,106.69,532.23,641.45)"/>
<rect x="0" y="-0.02" width="2.2" height="1.04" fill="url(#rg99)" transform="matrix(4.02,-2.2,0,106.81,536.25,639.25)"/>
<rect x="0" y="-0.02" width="2.2" height="1.04" fill="url(#rg100)" transform="matrix(4.02,-2.2,0,106.94,540.27,637.05)"/>
<rect x="0" y="-0.02" width="2.2" height="1.04" fill="url(#rg101)" transform="matrix(4.02,-2.2,0,107.06,544.29,634.86)"/>
<rect x="0" y="-0.02" width="2.2" height="1.04" fill="url(#rg102)" transform="matrix(4.02,-2.2,0,107.19,548.3,632.66)"/>
<rect x="0" y="-0.02" width="2.2" height="1.04" fill="url(#rg103)" transform="matrix(4.02,-2.2,0,107.31,552.32,630.46)"/>
<rect x="0" y="-0.02" width="2.2" height="1.04" fill="url(#rg104)" transform="matrix(4.02,-2.2,0,107.44,556.34,628.27)"/>
<rect x="0" y="-0.02" width="2.2" height="1.04" fill="url(#rg105)" transform="matrix(4.02,-2.2,0,107.56,560.36,626.07)"/>
<rect x="0" y="-0.02" width="2.2" height="1.04" fill="url(#rg106)" transform="matrix(4.02,-2.2,0,107.69,564.38,623.88)"/>
<rect x="0" y="-0.02" width="2.2" height="1.04" fill="url(#rg107)" transform="matrix(4.02,-2.2,0,107.81,568.39,621.68)"/>
<rect x="0" y="-0.02" width="2.2" height="1.04" fill="url(#rg108)" transform="matrix(4.02,-2.2,0,107.94,572.41,619.48)"/>
<rect x="0" y="-0.02" width="2.2" height="1.04" fill="url(#rg109)" transform="matrix(4.02,-2.2,0,108.06,576.43,617.29)"/>
<rect x="0" y="-0.02" width="2.2" height="1.04" fill="url(#rg110)" transform="matrix(4.02,-2.2,0,108.19,580.45,615.09)"/>
<rect x="0" y="-0.02" width="2.2" height="1.04" fill="url(#rg111)" transform="matrix(4.02,-2.2,0,108.31,584.46,612.89)"/>
<rect x="0" y="-0.02" width="2.2" height="1.04" fill="url(#rg112)" transform="matrix(4.02,-2.2,0,108.44,588.48,610.7)"/>
</g>
<path d="M390.2,598.5 L503.5,536.7 L509,541.8 L514,549.8 L519.2,555 L523.6,553.5 L592.5,608.5 L480,670 Z" fill="#ed9796"/>
<path d="M502,538 L509,542 L514,550 L519.2,555 L515,555.5 L509,550 L503,543 L498,540 Z" fill="#e42a22" fill-opacity="0.85"/>
<polyline points="391.2,600 480,671 591.5,610" fill="none" stroke="#fff" stroke-opacity="0.45" stroke-width="2"/>
</g>
<text x="0" y="3.1" font-size="8.6" fill="#2a2a2a" text-anchor="middle" transform="matrix(0.8500,-0.5300,0.1500,1.0000,371.7,596)">700</text>
<text x="0" y="3.1" font-size="8.6" fill="#2a2a2a" text-anchor="middle" transform="matrix(0.8500,-0.5300,0.1500,1.0000,372.03,607.3)">630</text>
<text x="0" y="3.1" font-size="8.6" fill="#2a2a2a" text-anchor="middle" transform="matrix(0.8500,-0.5300,0.1500,1.0000,372.36,618.6)">560</text>
<text x="0" y="3.1" font-size="8.6" fill="#2a2a2a" text-anchor="middle" transform="matrix(0.8500,-0.5300,0.1500,1.0000,372.69,629.9)">490</text>
<text x="0" y="3.1" font-size="8.6" fill="#2a2a2a" text-anchor="middle" transform="matrix(0.8500,-0.5300,0.1500,1.0000,373.02,641.2)">420</text>
<text x="0" y="3.1" font-size="8.6" fill="#2a2a2a" text-anchor="middle" transform="matrix(0.8500,-0.5300,0.1500,1.0000,373.35,652.5)">350</text>
<text x="0" y="3.1" font-size="8.6" fill="#2a2a2a" text-anchor="middle" transform="matrix(0.8500,-0.5300,0.1500,1.0000,373.68,663.8)">280</text>
<text x="0" y="3.1" font-size="8.6" fill="#2a2a2a" text-anchor="middle" transform="matrix(0.8500,-0.5300,0.1500,1.0000,374.01,675.1)">210</text>
<text x="0" y="3.1" font-size="8.6" fill="#2a2a2a" text-anchor="middle" transform="matrix(0.8500,-0.5300,0.1500,1.0000,374.34,686.4)">140</text>
<text x="0" y="3.1" font-size="8.6" fill="#2a2a2a" text-anchor="middle" transform="matrix(0.8500,-0.5300,0.1500,1.0000,374.67,697.7)">70</text>
<text x="0" y="3.17" font-size="8.8" fill="#2a2a2a" text-anchor="middle" transform="matrix(0.9000,-0.4200,0.3000,0.8000,376.4,709.6)">182.5</text>
<text x="0" y="3.17" font-size="8.8" fill="#2a2a2a" text-anchor="middle" transform="matrix(0.9000,-0.4200,0.3000,0.8000,386,721.2)">164.2</text>
<text x="0" y="3.17" font-size="8.8" fill="#2a2a2a" text-anchor="middle" transform="matrix(0.9000,-0.4200,0.3000,0.8000,394.4,728.7)">146.0</text>
<text x="0" y="3.17" font-size="8.8" fill="#2a2a2a" text-anchor="middle" transform="matrix(0.9000,-0.4200,0.3000,0.8000,404,737.2)">127.7</text>
<text x="0" y="3.17" font-size="8.8" fill="#2a2a2a" text-anchor="middle" transform="matrix(0.9000,-0.4200,0.3000,0.8000,414.6,745.7)">109.5</text>
<text x="0" y="3.17" font-size="8.8" fill="#2a2a2a" text-anchor="middle" transform="matrix(0.9000,-0.4200,0.3000,0.8000,426.3,754.2)">91.2</text>
<text x="0" y="3.17" font-size="8.8" fill="#2a2a2a" text-anchor="middle" transform="matrix(0.9000,-0.4200,0.3000,0.8000,436.9,761.6)">73.0</text>
<text x="0" y="3.17" font-size="8.8" fill="#2a2a2a" text-anchor="middle" transform="matrix(0.9000,-0.4200,0.3000,0.8000,447.5,770.1)">36.5</text>
<text x="0" y="3.17" font-size="8.8" fill="#2a2a2a" text-anchor="middle" transform="matrix(0.9000,-0.4200,0.3000,0.8000,456,779.7)">18.25</text>
<text x="0" y="3.17" font-size="8.8" fill="#2a2a2a" text-anchor="middle" transform="matrix(0.9000,-0.4200,0.3000,0.8000,473.4,786)">0</text>
<text x="0" y="3.17" font-size="8.8" fill="#2a2a2a" text-anchor="middle" transform="matrix(0.8700,0.4900,-0.4200,0.8000,488.6,785.4)">0</text>
<text x="0" y="3.17" font-size="8.8" fill="#2a2a2a" text-anchor="middle" transform="matrix(0.8700,0.4900,-0.4200,0.8000,501,782)">18.3</text>
<text x="0" y="3.17" font-size="8.8" fill="#2a2a2a" text-anchor="middle" transform="matrix(0.8700,0.4900,-0.4200,0.8000,516.2,776.2)">36.5</text>
<text x="0" y="3.17" font-size="8.8" fill="#2a2a2a" text-anchor="middle" transform="matrix(0.8700,0.4900,-0.4200,0.8000,530.6,768.8)">54.8</text>
<text x="0" y="3.17" font-size="8.8" fill="#2a2a2a" text-anchor="middle" transform="matrix(0.8700,0.4900,-0.4200,0.8000,543.8,761.7)">73.0</text>
<text x="0" y="3.17" font-size="8.8" fill="#2a2a2a" text-anchor="middle" transform="matrix(0.8700,0.4900,-0.4200,0.8000,555.6,753.9)">91.3</text>
<text x="0" y="3.17" font-size="8.8" fill="#2a2a2a" text-anchor="middle" transform="matrix(0.8700,0.4900,-0.4200,0.8000,568.7,747.3)">109.5</text>
<text x="0" y="3.17" font-size="8.8" fill="#2a2a2a" text-anchor="middle" transform="matrix(0.8700,0.4900,-0.4200,0.8000,579.3,739.4)">127.8</text>
<text x="0" y="3.17" font-size="8.8" fill="#2a2a2a" text-anchor="middle" transform="matrix(0.8700,0.4900,-0.4200,0.8000,589.8,732.8)">146.0</text>
<text x="0" y="3.17" font-size="8.8" fill="#2a2a2a" text-anchor="middle" transform="matrix(0.8700,0.4900,-0.4200,0.8000,600.3,726.3)">164.3</text>
<text x="0" y="3.17" font-size="8.8" fill="#2a2a2a" text-anchor="middle" transform="matrix(0.8700,0.4900,-0.4200,0.8000,610.8,719.7)">182.5</text>
<text x="0" y="3.6" font-size="10" fill="#2a2a2a" text-anchor="middle" transform="matrix(0.8200,0.5700,-0.3000,0.9500,395,765)">Position (mm)</text>
<text x="0" y="3.6" font-size="10" fill="#2a2a2a" text-anchor="middle" transform="matrix(0.8800,-0.4700,0.4400,0.8500,578.5,767)">Position (nm)</text>
<text x="357.5" y="648.5" font-size="12" fill="#222" text-anchor="middle" transform="rotate(-90 357.5 648.5)">V<tspan font-size="7.5" dy="2.5">oc</tspan><tspan dy="-2.5"> (mV)</tspan></text>
<text x="5.6" y="532.5" font-size="13.5" fill="#111" font-weight="bold">e</text>
<text x="332.3" y="532.5" font-size="13.5" fill="#111" font-weight="bold">f</text>
<rect x="624.8" y="546" width="7.1" height="23.3" fill="#f2bcc2"/>
<rect x="624.8" y="569" width="7.1" height="26.8" fill="#cc2c2c"/>
<rect x="624.8" y="595.5" width="7.1" height="28.3" fill="#e88434"/>
<rect x="624.8" y="623.5" width="7.1" height="24.5" fill="#e6dc42"/>
<rect x="624.8" y="647.7" width="7.1" height="25.2" fill="#84d24e"/>
<rect x="624.8" y="672.6" width="7.1" height="26.9" fill="#42a080"/>
<rect x="624.8" y="699.2" width="7.1" height="25.9" fill="#36668a"/>
<rect x="624.8" y="724.8" width="7.1" height="25.9" fill="#472b7a"/>
<rect x="624.8" y="750.4" width="7.1" height="24.9" fill="#3c0b4c"/>
<rect x="624.8" y="542" width="7.1" height="4.2" fill="#f6dade"/>
<rect x="624.8" y="775" width="7.1" height="2.5" fill="#8a6a92"/>
<text x="636.4" y="560.4" font-size="13.4" fill="#1a1a1a">700</text>
<text x="636.4" y="584.8" font-size="13.4" fill="#1a1a1a">630</text>
<text x="636.4" y="610.7" font-size="13.4" fill="#1a1a1a">560</text>
<text x="636.4" y="633.8" font-size="13.4" fill="#1a1a1a">420</text>
<text x="636.4" y="661.5" font-size="13.4" fill="#1a1a1a">350</text>
<text x="636.4" y="683.3" font-size="13.4" fill="#1a1a1a">280</text>
<text x="636.4" y="704" font-size="13.4" fill="#1a1a1a">210</text>
<text x="636.4" y="725.3" font-size="13.4" fill="#1a1a1a">140</text>
<text x="636.4" y="749.4" font-size="13.4" fill="#1a1a1a">70</text>
<text x="636.4" y="774.5" font-size="13.4" fill="#1a1a1a">0</text>
<text x="677.6" y="652.7" font-size="13.6" fill="#1a1a1a" text-anchor="middle" transform="rotate(-90 677.6 652.7)"><tspan font-style="italic">V</tspan><tspan font-size="8.5" dy="3">oc</tspan><tspan dy="-3"> (mV)</tspan></text>
</svg>
</body></html>
